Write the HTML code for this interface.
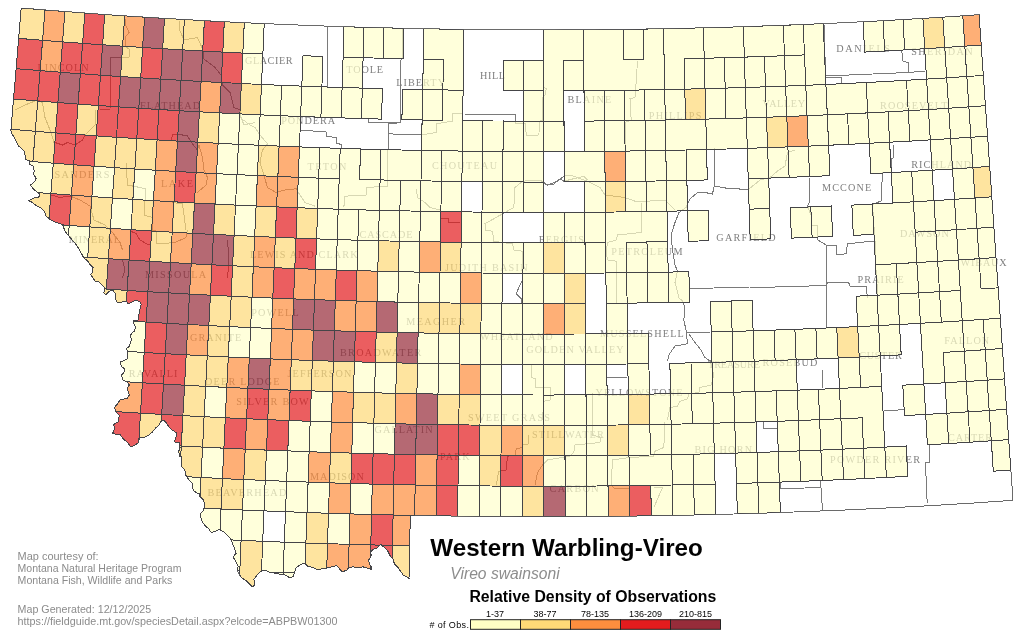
<!DOCTYPE html>
<html lang="en"><head><meta charset="utf-8"><title>Western Warbling-Vireo - Relative Density of Observations</title>
<style>html,body{margin:0;padding:0;background:#fff;overflow:hidden}svg{display:block;will-change:transform}</style></head>
<body>
<svg width="1024" height="631" viewBox="0 0 1024 631">
<defs><clipPath id="st"><polygon points="21.2,8.0 41.1,9.6 61.0,11.2 80.9,12.7 100.8,14.2 120.7,15.6 140.7,16.9 160.6,18.1 180.5,19.3 200.5,20.4 220.4,21.5 240.4,22.5 260.3,23.4 280.3,24.3 300.2,25.1 320.2,25.9 340.1,26.5 360.1,27.2 380.1,27.7 400.0,28.2 420.0,28.6 439.9,29.0 459.9,29.3 479.9,29.5 499.9,29.7 519.8,29.8 539.8,29.9 559.8,29.8 579.7,29.8 599.7,29.6 619.7,29.4 639.6,29.1 659.6,28.8 679.6,28.4 699.5,27.9 719.5,27.4 739.5,26.8 759.4,26.1 779.4,25.4 799.3,24.6 819.3,23.8 839.2,22.9 859.2,21.9 879.1,20.9 899.1,19.8 919.0,18.6 938.9,17.4 958.9,16.1 978.8,14.7 979.1,14.7 979.1,14.7 983.3,75.4 987.6,136.1 991.8,196.8 996.0,257.5 1000.3,318.2 1004.5,378.9 1008.7,439.6 1013.0,500.3 995.4,501.5 973.9,503.0 952.4,504.3 930.9,505.6 909.4,506.8 887.9,507.9 866.4,509.0 844.9,510.0 823.4,510.9 801.9,511.7 780.4,512.5 758.9,513.3 737.4,513.9 715.9,514.5 694.4,515.0 672.8,515.5 651.3,515.8 629.8,516.1 608.3,516.4 586.8,516.6 565.2,516.7 543.7,516.7 522.2,516.7 500.7,516.6 479.1,516.4 457.6,516.1 436.1,515.8 414.6,515.5 410.3,515.4 409.0,578.7 409.2,578.3 406.9,576.9 403.1,575.0 400.6,571.2 397.5,566.9 394.4,563.8 393.1,559.4 390.0,555.6 387.5,550.6 383.8,546.9 380.6,544.4 376.9,548.1 373.1,549.4 370.6,551.9 371.2,555.6 368.8,560.0 369.4,564.4 371.9,567.5 371.2,569.4 367.5,568.1 363.1,566.9 357.5,567.5 353.1,566.9 348.8,567.5 346.9,570.0 342.5,571.9 339.4,568.8 336.9,565.6 331.9,566.9 326.9,568.1 323.1,568.1 318.1,570.0 312.5,567.5 307.5,566.2 305.0,563.1 301.2,564.4 296.2,567.5 294.4,572.5 293.1,576.9 289.4,577.5 285.0,575.0 281.2,574.4 275.0,573.1 268.8,571.9 265.0,570.0 261.2,571.2 257.5,574.4 253.8,579.4 255.0,584.4 252.5,586.9 250.0,584.4 246.2,580.6 241.2,577.5 237.5,571.2 238.1,566.2 235.6,561.2 233.1,556.9 236.2,553.1 233.1,545.0 230.6,538.8 227.5,535.6 223.8,531.9 219.4,529.4 215.6,531.2 211.2,532.5 208.8,528.8 205.0,525.6 203.1,523.1 201.2,518.8 200.0,513.8 203.8,510.6 204.4,503.1 203.1,499.4 199.4,496.2 200.0,493.8 196.9,493.1 193.1,490.0 192.5,483.8 189.4,480.6 185.6,475.0 185.0,470.6 181.6,466.2 181.9,456.9 179.4,456.2 178.8,451.2 180.0,447.5 179.4,442.5 174.4,441.9 176.2,436.2 176.9,433.1 173.1,430.6 170.6,428.8 168.1,425.6 165.0,421.2 161.9,420.0 159.4,424.4 155.6,428.1 152.5,431.9 148.8,435.0 143.8,437.5 139.4,438.1 138.1,443.1 135.0,445.0 130.6,446.9 127.5,442.5 123.8,439.4 120.0,434.4 112.5,433.8 114.4,428.8 113.8,424.4 118.1,421.9 119.4,415.6 116.2,412.5 114.4,407.5 117.5,403.8 120.0,400.0 127.5,398.1 129.4,395.0 128.1,391.2 126.9,388.1 129.4,385.0 126.9,381.9 123.1,380.0 121.2,375.0 123.8,373.1 124.4,368.8 121.2,366.2 120.6,361.9 123.8,360.6 127.5,358.8 127.5,351.2 126.2,348.8 129.4,346.2 131.2,340.0 130.6,335.0 132.5,332.5 134.4,331.2 135.6,327.5 133.8,323.8 133.8,320.6 138.1,320.0 138.8,315.0 140.0,308.8 141.2,304.4 140.0,301.9 136.2,300.0 132.5,301.9 128.1,303.8 126.2,301.2 122.5,301.9 117.5,302.5 115.0,298.1 115.6,293.8 112.5,290.0 109.4,291.2 105.6,295.0 103.8,292.5 105.0,288.1 102.5,285.6 98.8,281.9 95.0,281.2 93.1,278.1 90.6,274.4 92.5,272.5 93.1,267.5 90.0,264.4 87.5,260.6 83.8,258.1 81.9,254.4 78.8,248.8 75.0,243.1 70.0,237.5 65.0,231.2 62.5,224.4 55.0,221.9 50.0,219.4 46.2,216.2 44.4,211.2 41.2,208.1 36.2,205.6 32.5,202.5 28.8,200.6 33.8,198.1 38.8,197.0 40.0,194.4 37.5,192.5 32.5,188.1 30.6,185.0 35.0,181.2 36.2,178.1 33.1,173.8 34.4,171.2 33.1,166.2 29.4,164.4 30.0,161.2 25.6,159.4 24.4,151.2 18.8,146.2 13.8,136.9 11.9,133.8 10.6,130.0 11.0,129.3 16.1,68.7"/></clipPath></defs>
<rect width="1024" height="631" fill="#fff"/>
<g fill="none" stroke="#7a7a7a" stroke-width="1" clip-path="url(#st)" shape-rendering="crispEdges">
<polyline points="714.2,147.5 714.2,186.0 712.5,194.0 705.0,192.5 697.5,192.5 690.0,199.0 686.0,207.5 679.0,212.5 675.0,222.5 671.0,235.0 672.5,250.0 675.0,265.0 677.5,271.0 675.0,282.5 679.0,298.0 682.5,301.0 685.0,307.5 683.8,320.0 686.0,330.0 687.5,343.8 675.0,346.0 668.8,355.0 667.5,361.0"/>
<polyline points="714.2,186.0 730.0,188.8 748.8,189.2 760.0,180.0 770.0,177.5 777.5,171.0 785.0,166.0 787.5,152.5 795.0,150.0"/>
<polyline points="809.2,177.5 809.2,202.5 807.5,206.0 811.0,215.0 811.0,225.0 817.5,226.0 818.0,240.0 826.0,245.0 826.0,285.0"/>
<polyline points="826.0,245.0 836.0,245.0 837.0,255.0 846.0,253.8 847.5,243.8 873.8,241.0"/>
<polyline points="893.8,145.0 893.8,157.5 891.0,158.8 891.0,172.5 882.5,172.5 881.0,201.0 872.5,204.5 875.0,241.0 876.0,270.0 878.0,298.0"/>
<polyline points="690.0,288.8 713.8,288.0 750.0,287.0 775.0,287.0 826.2,285.5 827.5,282.5 848.8,283.0 850.0,286.0 866.0,286.0 867.5,298.0"/>
<polyline points="826.2,285.5 826.2,327.5"/>
<polyline points="686.0,332.5 710.0,333.0"/>
<polyline points="688.8,333.8 695.0,342.5 701.0,350.0 705.0,357.5 710.0,361.0"/>
<polyline points="822.5,370.0 822.5,387.5"/>
<polyline points="607.5,378.0 627.5,377.0"/>
<polyline points="780.0,482.0 780.0,488.8 820.0,487.5 820.0,480.0"/>
<polyline points="821.0,487.5 822.5,510.0"/>
<polyline points="883.8,411.0 905.0,409.5"/>
<polyline points="929.8,443.8 929.8,462.0 925.4,462.5 927.2,503.0"/>
<polyline points="763.8,421.0 763.8,428.8 777.5,428.8"/>
<polyline points="824.2,25.0 825.5,76.0 908.0,72.5 925.5,71.0"/>
<polyline points="901.8,51.0 903.0,61.0 908.0,62.5 908.0,72.5"/>
<polyline points="825.5,77.5 841.8,77.0 841.8,84.0"/>
<polyline points="328.0,26.0 327.5,87.5"/>
<polyline points="403.0,29.0 402.0,59.0 400.0,61.0 400.0,122.8 388.7,123.6 388.7,150.0"/>
<polyline points="368.0,119.5 368.8,122.5 400.0,123.0"/>
<polyline points="300.0,130.0 326.2,132.0 326.2,136.2 336.2,137.5 336.2,143.0 341.2,144.5 341.2,149.0"/>
<polyline points="388.7,133.9 421.5,134.7"/>
<polyline points="421.2,122.5 421.2,150.0"/>
<polyline points="463.2,114.0 515.5,114.5 515.5,123.8 522.5,123.8"/>
<polyline points="125.0,19.0 126.0,26.0 129.0,32.5 125.0,37.5 125.0,46.0 130.0,50.0 129.0,57.5 111.0,57.5 110.0,109.0 100.0,109.0"/>
<polyline points="96.0,110.0 95.0,125.0 85.0,135.0 82.5,140.0 75.0,145.0 67.5,142.5 62.5,145.0 55.0,142.5"/>
<polyline points="179.0,21.0 180.0,31.0 184.0,40.0 197.5,37.5 202.5,49.0 204.0,59.0 215.0,67.5 221.0,75.0 222.5,85.0 230.0,92.5 234.0,107.5 240.0,110.0 240.0,115.0 244.0,125.0 255.0,122.5"/>
<polyline points="15.0,110.0 25.0,105.0 37.5,100.0 42.5,102.5 45.0,117.5 50.0,130.0 54.0,142.5 55.0,142.5"/>
<polyline points="171.0,140.0 172.5,135.0 177.5,134.0 187.5,136.0 192.5,144.0 197.5,150.0 199.0,145.0 202.5,157.5 204.0,170.0 207.5,177.5 206.0,185.0 197.5,192.5"/>
<polyline points="126.0,162.5 127.5,185.0 140.0,187.5 146.0,189.0 145.0,200.0 144.0,215.0 152.5,217.5 152.5,230.0 156.0,231.0 156.0,244.0 175.0,242.5 186.0,237.5 187.5,230.0"/>
<polyline points="172.5,202.5 182.5,204.0 186.0,230.0"/>
<polyline points="51.0,195.0 60.0,197.5 70.0,196.0 80.0,200.0 90.0,206.0 94.0,220.0 105.0,225.0 112.5,232.5 120.0,242.5 122.5,250.0"/>
<polyline points="130.0,231.0 136.0,233.5 140.0,240.0 146.0,243.5 150.0,245.0"/>
<polyline points="227.5,240.0 229.0,260.0 227.5,278.0"/>
<polyline points="122.5,260.0 125.0,270.0 122.5,278.0"/>
<polyline points="387.5,150.0 387.5,186.2 366.2,187.5 366.2,195.0 345.0,196.2 343.8,207.5"/>
<polyline points="421.2,135.0 436.2,132.5 436.2,123.8 452.5,121.2 452.5,113.8 462.5,113.8"/>
<polyline points="416.2,188.8 417.5,197.5 425.0,202.5 430.0,207.5 440.0,210.0"/>
<polyline points="240.0,117.5 250.0,125.0 255.0,127.5 260.0,135.0 267.5,143.8 262.5,150.0 260.0,162.5 263.8,175.0 267.5,187.5 276.2,192.5 285.0,190.0 296.2,188.8 300.0,195.0 305.0,202.5 315.0,206.2"/>
<polyline points="440.0,218.8 448.8,218.8 448.8,222.5 460.0,222.5"/>
<polyline points="543.8,87.5 546.2,88.8 545.0,95.0 542.5,97.5 542.5,120.0 540.0,121.2 538.8,135.0 526.2,135.5 525.5,123.8 516.2,123.8"/>
<polyline points="637.5,61.2 636.2,81.2 635.0,97.5 630.0,98.8 631.2,120.0 625.0,122.5 625.0,151.2"/>
<polyline points="522.5,181.2 540.0,180.0 547.5,185.0 557.5,181.2 563.8,176.2 570.0,175.0 587.5,181.2 600.0,187.5 605.0,195.0 625.0,197.5 635.0,201.2 647.5,201.2 665.0,200.0 675.0,210.0"/>
<polyline points="641.2,202.5 641.2,232.5 617.5,235.0 616.2,240.0 607.5,242.5 606.2,252.5 607.5,260.0 616.2,261.2 616.2,302.5"/>
<polyline points="522.5,181.2 515.0,187.5 513.8,207.5 502.5,213.8 485.0,223.8 485.0,230.0 492.5,231.2 493.8,241.2 502.5,242.5 512.5,243.8 513.8,250.0 522.5,251.2 522.5,280.0 520.0,285.0 516.2,293.8 521.2,298.8 522.5,305.0"/>
<polyline points="531.2,365.0 531.2,377.5 535.0,378.8 535.0,387.5 550.0,387.5 550.0,400.0 543.8,401.2 542.5,420.0"/>
<polyline points="592.5,392.5 592.5,435.0 601.2,437.5 600.0,442.5 575.0,445.0 573.8,452.5 570.0,456.2 547.5,460.0 542.5,465.0 537.5,472.5 535.0,485.0"/>
<polyline points="528.8,435.0 528.8,443.8 522.5,445.0 522.5,447.5 516.2,448.8 515.0,455.0 507.5,456.2 506.2,470.0 498.8,471.2 496.2,485.0"/>
<polyline points="665.0,422.5 663.8,447.5 655.0,451.2 653.8,456.2 630.0,457.5 612.5,460.0 611.2,485.0 615.0,488.8 630.0,488.8"/>
<polyline points="710.0,360.0 713.8,375.0 711.2,385.0 700.0,387.5 698.8,392.5 688.8,393.8 687.5,398.8 680.0,401.2 677.5,406.2 670.0,407.5 667.5,420.0"/>
<polyline points="653.8,487.5 662.5,487.5 653.8,507.5"/>
<polyline points="543.8,183.8 552.5,185.0 560.0,178.8 563.8,181.2 583.8,176.2 587.5,180.0"/>

</g>
<g font-family="'Liberation Serif',serif" font-size="10.2" fill="#7d7d7d" opacity="0.99">
<text x="37.5" y="71.2" textLength="51.2" lengthAdjust="spacing">LINCOLN</text>
<text x="140.0" y="108.8" textLength="60.0" lengthAdjust="spacing">FLATHEAD</text>
<text x="54.5" y="177.5" textLength="54.8" lengthAdjust="spacing">SANDERS</text>
<text x="161.1" y="187.0" textLength="31.8" lengthAdjust="spacing">LAKE</text>
<text x="68.8" y="243.0" textLength="51.2" lengthAdjust="spacing">MINERAL</text>
<text x="145.0" y="278.2" textLength="61.2" lengthAdjust="spacing">MISSOULA</text>
<text x="190.0" y="340.8" textLength="51.2" lengthAdjust="spacing">GRANITE</text>
<text x="128.7" y="377.0" textLength="48.8" lengthAdjust="spacing">RAVALLI</text>
<text x="205.0" y="385.0" textLength="74.5" lengthAdjust="spacing">DEER LODGE</text>
<text x="236.2" y="405.0" textLength="72.5" lengthAdjust="spacing">SILVER BOW</text>
<text x="207.5" y="496.2" textLength="78.8" lengthAdjust="spacing">BEAVERHEAD</text>
<text x="310.0" y="479.5" textLength="53.8" lengthAdjust="spacing">MADISON</text>
<text x="374.5" y="433.0" textLength="58.0" lengthAdjust="spacing">GALLATIN</text>
<text x="440.0" y="460.0" textLength="29.5" lengthAdjust="spacing">PARK</text>
<text x="468.0" y="420.5" textLength="82.0" lengthAdjust="spacing">SWEET GRASS</text>
<text x="532.0" y="438.0" textLength="71.8" lengthAdjust="spacing">STILLWATER</text>
<text x="549.5" y="491.8" textLength="49.2" lengthAdjust="spacing">CARBON</text>
<text x="694.5" y="452.5" textLength="57.5" lengthAdjust="spacing">BIG HORN</text>
<text x="595.5" y="396.2" textLength="87.0" lengthAdjust="spacing">YELLOWSTONE</text>
<text x="600.0" y="336.8" textLength="83.8" lengthAdjust="spacing">MUSSELSHELL</text>
<text x="526.2" y="352.5" textLength="97.5" lengthAdjust="spacing">GOLDEN VALLEY</text>
<text x="480.0" y="340.0" textLength="72.5" lengthAdjust="spacing">WHEATLAND</text>
<text x="445.0" y="270.8" textLength="82.5" lengthAdjust="spacing">JUDITH BASIN</text>
<text x="406.2" y="324.5" textLength="58.8" lengthAdjust="spacing">MEAGHER</text>
<text x="340.0" y="355.8" textLength="81.2" lengthAdjust="spacing">BROADWATER</text>
<text x="287.5" y="377.0" textLength="63.8" lengthAdjust="spacing">JEFFERSON</text>
<text x="251.2" y="315.5" textLength="47.5" lengthAdjust="spacing">POWELL</text>
<text x="250.0" y="257.5" textLength="107.5" lengthAdjust="spacing">LEWIS AND CLARK</text>
<text x="359.5" y="237.5" textLength="53.0" lengthAdjust="spacing">CASCADE</text>
<text x="307.5" y="170.0" textLength="38.8" lengthAdjust="spacing">TETON</text>
<text x="432.0" y="168.8" textLength="65.0" lengthAdjust="spacing">CHOUTEAU</text>
<text x="281.2" y="123.8" textLength="53.8" lengthAdjust="spacing">PONDERA</text>
<text x="245.0" y="63.8" textLength="47.5" lengthAdjust="spacing">GLACIER</text>
<text x="346.2" y="72.5" textLength="36.8" lengthAdjust="spacing">TOOLE</text>
<text x="396.2" y="85.8" textLength="48.8" lengthAdjust="spacing">LIBERTY</text>
<text x="480.0" y="78.8" textLength="25.0" lengthAdjust="spacing">HILL</text>
<text x="567.5" y="103.0" textLength="43.8" lengthAdjust="spacing">BLAINE</text>
<text x="648.8" y="118.8" textLength="52.5" lengthAdjust="spacing">PHILLIPS</text>
<text x="762.5" y="107.0" textLength="42.5" lengthAdjust="spacing">VALLEY</text>
<text x="836.2" y="52.0" textLength="53.8" lengthAdjust="spacing">DANIELS</text>
<text x="911.3" y="55.0" textLength="61.2" lengthAdjust="spacing">SHERIDAN</text>
<text x="880.0" y="108.8" textLength="67.5" lengthAdjust="spacing">ROOSEVELT</text>
<text x="822.0" y="191.2" textLength="49.2" lengthAdjust="spacing">MCCONE</text>
<text x="911.2" y="168.0" textLength="60.0" lengthAdjust="spacing">RICHLAND</text>
<text x="716.3" y="240.5" textLength="59.2" lengthAdjust="spacing">GARFIELD</text>
<text x="900.0" y="237.0" textLength="48.8" lengthAdjust="spacing">DAWSON</text>
<text x="857.5" y="283.0" textLength="46.2" lengthAdjust="spacing">PRAIRIE</text>
<text x="960.5" y="265.5" textLength="46.2" lengthAdjust="spacing">WIBAUX</text>
<text x="944.2" y="343.8" textLength="45.0" lengthAdjust="spacing">FALLON</text>
<text x="859.2" y="359.2" textLength="42.5" lengthAdjust="spacing">CUSTER</text>
<text x="762.6" y="365.5" textLength="54.7" lengthAdjust="spacing">ROSEBUD</text>
<text x="708.0" y="368.2" textLength="52.0" lengthAdjust="spacing">TREASURE</text>
<text x="830.0" y="462.5" textLength="90.0" lengthAdjust="spacing">POWDER RIVER</text>
<text x="948.0" y="441.0" textLength="44.0" lengthAdjust="spacing">CARTER</text>
<text x="538.8" y="242.5" textLength="45.0" lengthAdjust="spacing">FERGUS</text>
<text x="611.3" y="255.0" textLength="71.2" lengthAdjust="spacing">PETROLEUM</text>
</g>
<g clip-path="url(#st)">
<path d="M244.3,22.7 L254.2,23.2 L264.2,23.6 L262.9,54.0 L252.8,53.6 L242.8,53.1Z M344.0,26.7 L354.0,27.0 L364.0,27.3 L363.1,57.7 L353.1,57.4 L343.1,57.1Z M364.0,27.3 L374.0,27.6 L384.0,27.8 L383.2,58.2 L373.2,58.0 L363.1,57.7Z M384.0,27.8 L393.9,28.1 L403.9,28.3 L403.2,58.7 L393.2,58.5 L383.2,58.2Z M423.9,28.7 L433.9,28.9 L443.9,29.1 L443.4,59.5 L433.3,59.3 L423.3,59.1Z M443.9,29.1 L453.8,29.2 L463.8,29.4 L463.4,59.8 L453.4,59.7 L443.4,59.5Z M543.7,29.9 L553.7,29.9 L563.7,29.8 L563.8,60.3 L553.7,60.3 L543.7,60.3Z M563.7,29.8 L573.7,29.8 L583.6,29.7 L583.8,60.2 L573.8,60.2 L563.8,60.3Z M583.6,29.7 L593.6,29.7 L603.6,29.6 L603.9,60.0 L593.9,60.1 L583.8,60.2Z M603.6,29.6 L613.6,29.5 L623.6,29.4 L624.0,59.8 L613.9,59.9 L603.9,60.0Z M623.6,29.4 L633.6,29.2 L643.6,29.1 L644.0,59.5 L634.0,59.7 L624.0,59.8Z M643.6,29.1 L653.5,28.9 L663.5,28.7 L664.1,59.1 L654.1,59.3 L644.0,59.5Z M663.5,28.7 L673.5,28.5 L683.5,28.3 L684.2,58.7 L674.1,58.9 L664.1,59.1Z M683.5,28.3 L693.5,28.1 L703.4,27.8 L704.2,58.2 L694.2,58.5 L684.2,58.7Z M703.4,27.8 L713.4,27.6 L723.4,27.3 L724.3,57.7 L714.3,58.0 L704.2,58.2Z M723.4,27.3 L733.4,27.0 L743.4,26.7 L744.3,57.1 L734.3,57.4 L724.3,57.7Z M743.4,26.7 L753.3,26.3 L763.3,26.0 L764.4,56.4 L754.4,56.8 L744.3,57.1Z M763.3,26.0 L773.3,25.6 L783.3,25.3 L784.5,55.7 L774.4,56.1 L764.4,56.4Z M783.3,25.3 L793.3,24.9 L803.2,24.5 L804.5,54.9 L794.5,55.3 L784.5,55.7Z M803.2,24.5 L813.2,24.1 L823.2,23.6 L824.5,54.0 L814.5,54.5 L804.5,54.9Z M863.1,21.7 L873.1,21.2 L883.0,20.7 L884.7,51.0 L874.7,51.6 L864.6,52.1Z M883.0,20.7 L893.0,20.1 L903.0,19.5 L904.7,49.9 L894.7,50.5 L884.7,51.0Z M903.0,19.5 L912.9,19.0 L922.9,18.4 L924.7,48.7 L914.7,49.3 L904.7,49.9Z M942.8,17.1 L952.8,16.5 L962.8,15.8 L964.8,46.2 L954.8,46.8 L944.8,47.5Z M242.8,53.1 L252.8,53.6 L262.9,54.0 L261.5,84.4 L251.4,84.0 L241.4,83.5Z M303.0,55.7 L313.0,56.1 L323.0,56.4 L321.9,86.8 L311.9,86.5 L301.8,86.1Z M343.1,57.1 L353.1,57.4 L363.1,57.7 L362.3,88.1 L352.2,87.8 L342.1,87.5Z M423.3,59.1 L433.3,59.3 L443.4,59.5 L442.9,89.9 L432.8,89.8 L422.7,89.6Z M443.4,59.5 L453.4,59.7 L463.4,59.8 L463.1,90.2 L453.0,90.1 L442.9,89.9Z M503.6,60.2 L513.6,60.2 L523.6,60.3 L523.5,90.7 L513.5,90.7 L503.4,90.6Z M523.6,60.3 L533.7,60.3 L543.7,60.3 L543.7,90.7 L533.6,90.7 L523.5,90.7Z M543.7,60.3 L553.7,60.3 L563.8,60.3 L563.9,90.7 L553.8,90.7 L543.7,90.7Z M563.8,60.3 L573.8,60.2 L583.8,60.2 L584.0,90.6 L574.0,90.7 L563.9,90.7Z M583.8,60.2 L593.9,60.1 L603.9,60.0 L604.2,90.4 L594.1,90.5 L584.0,90.6Z M603.9,60.0 L613.9,59.9 L624.0,59.8 L624.4,90.2 L614.3,90.3 L604.2,90.4Z M624.0,59.8 L634.0,59.7 L644.0,59.5 L644.5,89.9 L634.4,90.1 L624.4,90.2Z M644.0,59.5 L654.1,59.3 L664.1,59.1 L664.7,89.6 L654.6,89.8 L644.5,89.9Z M664.1,59.1 L674.1,58.9 L684.2,58.7 L684.8,89.2 L674.8,89.4 L664.7,89.6Z M684.2,58.7 L694.2,58.5 L704.2,58.2 L705.0,88.7 L694.9,88.9 L684.8,89.2Z M704.2,58.2 L714.3,58.0 L724.3,57.7 L725.2,88.1 L715.1,88.4 L705.0,88.7Z M724.3,57.7 L734.3,57.4 L744.3,57.1 L745.3,87.5 L735.2,87.8 L725.2,88.1Z M744.3,57.1 L754.4,56.8 L764.4,56.4 L765.5,86.8 L755.4,87.2 L745.3,87.5Z M764.4,56.4 L774.4,56.1 L784.5,55.7 L785.6,86.1 L775.5,86.5 L765.5,86.8Z M784.5,55.7 L794.5,55.3 L804.5,54.9 L805.8,85.3 L795.7,85.7 L785.6,86.1Z M804.5,54.9 L814.5,54.5 L824.5,54.0 L825.9,84.4 L815.8,84.9 L805.8,85.3Z M924.7,48.7 L934.8,48.1 L944.8,47.5 L946.7,77.9 L936.7,78.5 L926.6,79.1Z M944.8,47.5 L954.8,46.8 L964.8,46.2 L966.8,76.5 L956.8,77.2 L946.7,77.9Z M964.8,46.2 L978.8,45.2 L992.8,44.2 L995.0,74.6 L980.9,75.6 L966.8,76.5Z M261.5,84.4 L271.6,84.9 L281.6,85.3 L280.4,115.7 L270.3,115.3 L260.1,114.8Z M281.6,85.3 L291.7,85.7 L301.8,86.1 L300.6,116.5 L290.5,116.1 L280.4,115.7Z M301.8,86.1 L311.9,86.5 L321.9,86.8 L320.9,117.2 L310.8,116.9 L300.6,116.5Z M321.9,86.8 L332.0,87.2 L342.1,87.5 L341.1,117.9 L331.0,117.6 L320.9,117.2Z M342.1,87.5 L352.2,87.8 L362.3,88.1 L361.4,118.5 L351.3,118.2 L341.1,117.9Z M362.3,88.1 L372.3,88.4 L382.4,88.7 L381.6,119.1 L371.5,118.8 L361.4,118.5Z M402.6,89.2 L412.6,89.4 L422.7,89.6 L422.1,120.0 L412.0,119.8 L401.9,119.6Z M422.7,89.6 L432.8,89.8 L442.9,89.9 L442.4,120.4 L432.3,120.2 L422.1,120.0Z M442.9,89.9 L453.0,90.1 L463.1,90.2 L462.7,120.6 L452.5,120.5 L442.4,120.4Z M523.5,90.7 L533.6,90.7 L543.7,90.7 L543.7,121.2 L533.6,121.2 L523.4,121.1Z M543.7,90.7 L553.8,90.7 L563.9,90.7 L564.0,121.1 L553.8,121.2 L543.7,121.2Z M584.0,90.6 L594.1,90.5 L604.2,90.4 L604.5,120.9 L594.4,121.0 L584.2,121.0Z M604.2,90.4 L614.3,90.3 L624.4,90.2 L624.7,120.6 L614.6,120.8 L604.5,120.9Z M624.4,90.2 L634.4,90.1 L644.5,89.9 L645.0,120.4 L634.9,120.5 L624.7,120.6Z M644.5,89.9 L654.6,89.8 L664.7,89.6 L665.3,120.0 L655.1,120.2 L645.0,120.4Z M664.7,89.6 L674.8,89.4 L684.8,89.2 L685.5,119.6 L675.4,119.8 L665.3,120.0Z M705.0,88.7 L715.1,88.4 L725.2,88.1 L726.0,118.5 L715.9,118.8 L705.8,119.1Z M725.2,88.1 L735.2,87.8 L745.3,87.5 L746.3,117.9 L736.2,118.2 L726.0,118.5Z M745.3,87.5 L755.4,87.2 L765.5,86.8 L766.5,117.2 L756.4,117.6 L746.3,117.9Z M765.5,86.8 L775.5,86.5 L785.6,86.1 L786.8,116.5 L776.7,116.9 L766.5,117.2Z M785.6,86.1 L795.7,85.7 L805.8,85.3 L807.0,115.7 L796.9,116.1 L786.8,116.5Z M805.8,85.3 L815.8,84.9 L825.9,84.4 L827.3,114.8 L817.1,115.3 L807.0,115.7Z M825.9,84.4 L836.0,84.0 L846.1,83.5 L847.5,113.9 L837.4,114.4 L827.3,114.8Z M846.1,83.5 L856.1,83.0 L866.2,82.5 L867.7,112.9 L857.6,113.4 L847.5,113.9Z M866.2,82.5 L876.3,82.0 L886.3,81.4 L888.0,111.8 L877.9,112.4 L867.7,112.9Z M886.3,81.4 L896.4,80.9 L906.5,80.3 L908.2,110.7 L898.1,111.3 L888.0,111.8Z M906.5,80.3 L916.5,79.7 L926.6,79.1 L928.4,109.5 L918.3,110.1 L908.2,110.7Z M926.6,79.1 L936.7,78.5 L946.7,77.9 L948.7,108.2 L938.5,108.9 L928.4,109.5Z M946.7,77.9 L956.8,77.2 L966.8,76.5 L968.9,106.9 L958.8,107.6 L948.7,108.2Z M966.8,76.5 L980.9,75.6 L995.0,74.6 L997.2,104.9 L983.0,105.9 L968.9,106.9Z M219.7,112.9 L229.8,113.4 L239.9,113.9 L238.4,144.3 L228.3,143.8 L218.1,143.3Z M239.9,113.9 L250.0,114.4 L260.1,114.8 L258.8,145.2 L248.6,144.8 L238.4,144.3Z M260.1,114.8 L270.3,115.3 L280.4,115.7 L279.1,146.1 L269.0,145.7 L258.8,145.2Z M280.4,115.7 L290.5,116.1 L300.6,116.5 L299.5,146.9 L289.3,146.5 L279.1,146.1Z M422.1,120.0 L432.3,120.2 L442.4,120.4 L441.9,150.8 L431.7,150.6 L421.6,150.4Z M442.4,120.4 L452.5,120.5 L462.7,120.6 L462.3,151.1 L452.1,150.9 L441.9,150.8Z M462.7,120.6 L472.8,120.8 L482.9,120.9 L482.6,151.3 L472.5,151.2 L462.3,151.1Z M482.9,120.9 L493.1,121.0 L503.2,121.0 L503.0,151.5 L492.8,151.4 L482.6,151.3Z M503.2,121.0 L513.3,121.1 L523.4,121.1 L523.3,151.6 L513.2,151.5 L503.0,151.5Z M523.4,121.1 L533.6,121.2 L543.7,121.2 L543.7,151.6 L533.5,151.6 L523.3,151.6Z M543.7,121.2 L553.8,121.2 L564.0,121.1 L564.1,151.6 L553.9,151.6 L543.7,151.6Z M584.2,121.0 L594.4,121.0 L604.5,120.9 L604.8,151.3 L594.6,151.4 L584.4,151.5Z M604.5,120.9 L614.6,120.8 L624.7,120.6 L625.1,151.1 L615.0,151.2 L604.8,151.3Z M624.7,120.6 L634.9,120.5 L645.0,120.4 L645.5,150.8 L635.3,150.9 L625.1,151.1Z M645.0,120.4 L655.1,120.2 L665.3,120.0 L665.8,150.4 L655.7,150.6 L645.5,150.8Z M665.3,120.0 L675.4,119.8 L685.5,119.6 L686.2,150.0 L676.0,150.2 L665.8,150.4Z M685.5,119.6 L695.7,119.3 L705.8,119.1 L706.6,149.5 L696.4,149.8 L686.2,150.0Z M705.8,119.1 L715.9,118.8 L726.0,118.5 L726.9,149.0 L716.7,149.2 L706.6,149.5Z M726.0,118.5 L736.2,118.2 L746.3,117.9 L747.3,148.3 L737.1,148.7 L726.9,149.0Z M746.3,117.9 L756.4,117.6 L766.5,117.2 L767.6,147.7 L757.4,148.0 L747.3,148.3Z M807.0,115.7 L817.1,115.3 L827.3,114.8 L828.6,145.2 L818.5,145.7 L808.3,146.1Z M827.3,114.8 L837.4,114.4 L847.5,113.9 L849.0,144.3 L838.8,144.8 L828.6,145.2Z M847.5,113.9 L857.6,113.4 L867.7,112.9 L869.3,143.3 L859.1,143.8 L849.0,144.3Z M867.7,112.9 L877.9,112.4 L888.0,111.8 L889.6,142.2 L879.5,142.7 L869.3,143.3Z M888.0,111.8 L898.1,111.3 L908.2,110.7 L910.0,141.1 L899.8,141.6 L889.6,142.2Z M908.2,110.7 L918.3,110.1 L928.4,109.5 L930.3,139.9 L920.1,140.5 L910.0,141.1Z M928.4,109.5 L938.5,108.9 L948.7,108.2 L950.6,138.6 L940.4,139.2 L930.3,139.9Z M948.7,108.2 L958.8,107.6 L968.9,106.9 L970.9,137.3 L960.8,137.9 L950.6,138.6Z M968.9,106.9 L983.0,105.9 L997.2,104.9 L999.3,135.3 L985.1,136.3 L970.9,137.3Z M218.1,143.3 L228.3,143.8 L238.4,144.3 L237.0,174.7 L226.8,174.2 L216.6,173.7Z M238.4,144.3 L248.6,144.8 L258.8,145.2 L257.4,175.6 L247.2,175.1 L237.0,174.7Z M299.5,146.9 L309.6,147.3 L319.8,147.7 L318.7,178.1 L308.5,177.7 L298.3,177.3Z M319.8,147.7 L330.0,148.0 L340.2,148.3 L339.2,178.7 L329.0,178.4 L318.7,178.1Z M340.2,148.3 L350.3,148.7 L360.5,149.0 L359.6,179.4 L349.4,179.1 L339.2,178.7Z M360.5,149.0 L370.7,149.2 L380.9,149.5 L380.1,179.9 L369.9,179.7 L359.6,179.4Z M380.9,149.5 L391.0,149.8 L401.2,150.0 L400.5,180.4 L390.3,180.2 L380.1,179.9Z M401.2,150.0 L411.4,150.2 L421.6,150.4 L421.0,180.8 L410.8,180.6 L400.5,180.4Z M421.6,150.4 L431.7,150.6 L441.9,150.8 L441.4,181.2 L431.2,181.0 L421.0,180.8Z M441.9,150.8 L452.1,150.9 L462.3,151.1 L461.9,181.5 L451.7,181.4 L441.4,181.2Z M462.3,151.1 L472.5,151.2 L482.6,151.3 L482.3,181.7 L472.1,181.6 L461.9,181.5Z M482.6,151.3 L492.8,151.4 L503.0,151.5 L502.8,181.9 L492.6,181.8 L482.3,181.7Z M503.0,151.5 L513.2,151.5 L523.3,151.6 L523.3,182.0 L513.0,181.9 L502.8,181.9Z M523.3,151.6 L533.5,151.6 L543.7,151.6 L543.7,182.0 L533.5,182.0 L523.3,182.0Z M564.1,151.6 L574.2,151.5 L584.4,151.5 L584.6,181.9 L574.4,181.9 L564.2,182.0Z M584.4,151.5 L594.6,151.4 L604.8,151.3 L605.1,181.7 L594.8,181.8 L584.6,181.9Z M625.1,151.1 L635.3,150.9 L645.5,150.8 L646.0,181.2 L635.8,181.4 L625.5,181.5Z M645.5,150.8 L655.7,150.6 L665.8,150.4 L666.4,180.8 L656.2,181.0 L646.0,181.2Z M665.8,150.4 L676.0,150.2 L686.2,150.0 L686.9,180.4 L676.7,180.6 L666.4,180.8Z M686.2,150.0 L696.4,149.8 L706.6,149.5 L707.3,179.9 L697.1,180.2 L686.9,180.4Z M747.3,148.3 L757.4,148.0 L767.6,147.7 L768.7,178.1 L758.4,178.4 L748.2,178.7Z M767.6,147.7 L777.8,147.3 L787.9,146.9 L789.1,177.3 L778.9,177.7 L768.7,178.1Z M787.9,146.9 L798.1,146.5 L808.3,146.1 L809.6,176.5 L799.3,176.9 L789.1,177.3Z M808.3,146.1 L818.5,145.7 L828.6,145.2 L830.0,175.6 L819.8,176.1 L809.6,176.5Z M869.3,143.3 L879.5,142.7 L889.6,142.2 L891.3,172.6 L881.1,173.1 L870.9,173.7Z M930.3,139.9 L940.4,139.2 L950.6,138.6 L952.5,169.0 L942.3,169.6 L932.1,170.2Z M950.6,138.6 L960.8,137.9 L970.9,137.3 L972.9,167.6 L962.7,168.3 L952.5,169.0Z M970.9,137.3 L985.1,136.3 L999.3,135.3 L1001.5,165.6 L987.2,166.6 L972.9,167.6Z M-7.9,158.2 L12.5,160.0 L32.9,161.6 L30.4,191.9 L10.0,190.3 L-10.5,188.5Z M32.9,161.6 L43.1,162.4 L53.3,163.2 L50.9,193.6 L40.7,192.8 L30.4,191.9Z M94.1,166.2 L104.3,166.9 L114.5,167.6 L112.4,198.0 L102.2,197.3 L91.9,196.6Z M134.9,169.0 L145.1,169.6 L155.3,170.2 L153.4,200.6 L143.2,200.0 L132.9,199.3Z M216.6,173.7 L226.8,174.2 L237.0,174.7 L235.5,205.1 L225.3,204.6 L215.0,204.0Z M237.0,174.7 L247.2,175.1 L257.4,175.6 L256.1,206.0 L245.8,205.5 L235.5,205.1Z M298.3,177.3 L308.5,177.7 L318.7,178.1 L317.7,208.5 L307.4,208.1 L297.1,207.7Z M318.7,178.1 L329.0,178.4 L339.2,178.7 L338.2,209.2 L327.9,208.8 L317.7,208.5Z M339.2,178.7 L349.4,179.1 L359.6,179.4 L358.8,209.8 L348.5,209.5 L338.2,209.2Z M359.6,179.4 L369.9,179.7 L380.1,179.9 L379.3,210.3 L369.0,210.1 L358.8,209.8Z M380.1,179.9 L390.3,180.2 L400.5,180.4 L399.9,210.8 L389.6,210.6 L379.3,210.3Z M400.5,180.4 L410.8,180.6 L421.0,180.8 L420.4,211.3 L410.1,211.0 L399.9,210.8Z M421.0,180.8 L431.2,181.0 L441.4,181.2 L440.9,211.6 L430.7,211.4 L420.4,211.3Z M441.4,181.2 L451.7,181.4 L461.9,181.5 L461.5,211.9 L451.2,211.8 L440.9,211.6Z M482.3,181.7 L492.6,181.8 L502.8,181.9 L502.6,212.3 L492.3,212.2 L482.0,212.1Z M502.8,181.9 L513.0,181.9 L523.3,182.0 L523.2,212.4 L512.9,212.4 L502.6,212.3Z M523.3,182.0 L533.5,182.0 L543.7,182.0 L543.7,212.4 L533.4,212.4 L523.2,212.4Z M584.6,181.9 L594.8,181.8 L605.1,181.7 L605.4,212.1 L595.1,212.2 L584.8,212.3Z M625.5,181.5 L635.8,181.4 L646.0,181.2 L646.5,211.6 L636.2,211.8 L625.9,211.9Z M646.0,181.2 L656.2,181.0 L666.4,180.8 L667.0,211.3 L656.7,211.4 L646.5,211.6Z M666.4,180.8 L676.7,180.6 L686.9,180.4 L687.6,210.8 L677.3,211.0 L667.0,211.3Z M748.2,178.7 L758.4,178.4 L768.7,178.1 L769.7,208.5 L759.5,208.8 L749.2,209.2Z M891.3,172.6 L901.5,172.0 L911.7,171.4 L913.4,201.8 L903.2,202.4 L892.9,203.0Z M911.7,171.4 L921.9,170.8 L932.1,170.2 L934.0,200.6 L923.7,201.2 L913.4,201.8Z M952.5,169.0 L962.7,168.3 L972.9,167.6 L975.0,198.0 L964.7,198.7 L954.5,199.3Z M112.4,198.0 L122.7,198.7 L132.9,199.3 L131.0,229.7 L120.7,229.0 L110.4,228.3Z M235.5,205.1 L245.8,205.5 L256.1,206.0 L254.7,236.4 L244.4,235.9 L234.1,235.4Z M317.7,208.5 L327.9,208.8 L338.2,209.2 L337.2,239.6 L326.9,239.2 L316.6,238.9Z M338.2,209.2 L348.5,209.5 L358.8,209.8 L357.9,240.2 L347.6,239.9 L337.2,239.6Z M358.8,209.8 L369.0,210.1 L379.3,210.3 L378.5,240.7 L368.2,240.5 L357.9,240.2Z M379.3,210.3 L389.6,210.6 L399.9,210.8 L399.2,241.2 L388.8,241.0 L378.5,240.7Z M399.9,210.8 L410.1,211.0 L420.4,211.3 L419.8,241.7 L409.5,241.5 L399.2,241.2Z M420.4,211.3 L430.7,211.4 L440.9,211.6 L440.5,242.0 L430.1,241.9 L419.8,241.7Z M461.5,211.9 L471.8,212.0 L482.0,212.1 L481.8,242.6 L471.4,242.5 L461.1,242.3Z M482.0,212.1 L492.3,212.2 L502.6,212.3 L502.4,242.7 L492.1,242.6 L481.8,242.6Z M543.7,212.4 L554.0,212.4 L564.3,212.4 L564.4,242.8 L554.0,242.8 L543.7,242.9Z M564.3,212.4 L574.5,212.4 L584.8,212.3 L585.0,242.7 L574.7,242.8 L564.4,242.8Z M584.8,212.3 L595.1,212.2 L605.4,212.1 L605.7,242.6 L595.3,242.6 L585.0,242.7Z M605.4,212.1 L615.6,212.0 L625.9,211.9 L626.3,242.3 L616.0,242.5 L605.7,242.6Z M625.9,211.9 L636.2,211.8 L646.5,211.6 L647.0,242.0 L636.6,242.2 L626.3,242.3Z M646.5,211.6 L656.7,211.4 L667.0,211.3 L667.6,241.7 L657.3,241.9 L647.0,242.0Z M687.6,210.8 L697.8,210.6 L708.1,210.3 L708.9,240.7 L698.6,241.0 L688.2,241.2Z M749.2,209.2 L759.5,208.8 L769.7,208.5 L770.8,238.9 L760.5,239.2 L750.2,239.6Z M790.3,207.7 L800.5,207.3 L810.8,206.9 L812.1,237.3 L801.8,237.7 L791.4,238.1Z M810.8,206.9 L821.1,206.5 L831.3,206.0 L832.7,236.4 L822.4,236.8 L812.1,237.3Z M851.9,205.1 L862.1,204.6 L872.4,204.0 L874.0,234.4 L863.6,234.9 L853.3,235.4Z M872.4,204.0 L882.7,203.5 L892.9,203.0 L894.6,233.3 L884.3,233.9 L874.0,234.4Z M892.9,203.0 L903.2,202.4 L913.4,201.8 L915.2,232.2 L904.9,232.8 L894.6,233.3Z M913.4,201.8 L923.7,201.2 L934.0,200.6 L935.8,231.0 L925.5,231.6 L915.2,232.2Z M934.0,200.6 L944.2,200.0 L954.5,199.3 L956.4,229.7 L946.1,230.3 L935.8,231.0Z M954.5,199.3 L964.7,198.7 L975.0,198.0 L977.0,228.3 L966.7,229.0 L956.4,229.7Z M975.0,198.0 L989.3,197.0 L1003.7,196.0 L1005.9,226.3 L991.4,227.3 L977.0,228.3Z M28.0,222.3 L38.3,223.1 L48.6,223.9 L46.3,254.2 L35.9,253.4 L25.6,252.6Z M48.6,223.9 L58.9,224.7 L69.2,225.4 L67.0,255.8 L56.6,255.0 L46.3,254.2Z M69.2,225.4 L79.5,226.2 L89.8,226.9 L87.7,257.3 L77.3,256.5 L67.0,255.8Z M316.6,238.9 L326.9,239.2 L337.2,239.6 L336.3,270.0 L325.9,269.6 L315.5,269.3Z M337.2,239.6 L347.6,239.9 L357.9,240.2 L357.0,270.6 L346.6,270.3 L336.3,270.0Z M357.9,240.2 L368.2,240.5 L378.5,240.7 L377.8,271.2 L367.4,270.9 L357.0,270.6Z M399.2,241.2 L409.5,241.5 L419.8,241.7 L419.2,272.1 L408.9,271.9 L398.5,271.7Z M461.1,242.3 L471.4,242.5 L481.8,242.6 L481.5,273.0 L471.1,272.9 L460.7,272.7Z M481.8,242.6 L492.1,242.6 L502.4,242.7 L502.2,273.1 L491.8,273.1 L481.5,273.0Z M502.4,242.7 L512.7,242.8 L523.1,242.8 L523.0,273.2 L512.6,273.2 L502.2,273.1Z M523.1,242.8 L533.4,242.8 L543.7,242.9 L543.7,273.3 L533.3,273.3 L523.0,273.2Z M564.4,242.8 L574.7,242.8 L585.0,242.7 L585.2,273.1 L574.8,273.2 L564.5,273.2Z M585.0,242.7 L595.3,242.6 L605.7,242.6 L605.9,273.0 L595.6,273.1 L585.2,273.1Z M605.7,242.6 L616.0,242.5 L626.3,242.3 L626.7,272.7 L616.3,272.9 L605.9,273.0Z M626.3,242.3 L636.6,242.2 L647.0,242.0 L647.4,272.4 L637.1,272.6 L626.7,272.7Z M647.0,242.0 L657.3,241.9 L667.6,241.7 L668.2,272.1 L657.8,272.3 L647.4,272.4Z M874.0,234.4 L884.3,233.9 L894.6,233.3 L896.2,263.7 L885.9,264.3 L875.5,264.8Z M894.6,233.3 L904.9,232.8 L915.2,232.2 L916.9,262.6 L906.6,263.1 L896.2,263.7Z M915.2,232.2 L925.5,231.6 L935.8,231.0 L937.7,261.3 L927.3,261.9 L916.9,262.6Z M935.8,231.0 L946.1,230.3 L956.4,229.7 L958.4,260.0 L948.0,260.7 L937.7,261.3Z M956.4,229.7 L966.7,229.0 L977.0,228.3 L979.1,258.7 L968.7,259.4 L958.4,260.0Z M977.0,228.3 L991.4,227.3 L1005.9,226.3 L1008.0,256.7 L993.5,257.7 L979.1,258.7Z M377.8,271.2 L388.1,271.4 L398.5,271.7 L397.8,302.1 L387.4,301.8 L377.0,301.6Z M398.5,271.7 L408.9,271.9 L419.2,272.1 L418.7,302.5 L408.2,302.3 L397.8,302.1Z M419.2,272.1 L429.6,272.3 L440.0,272.4 L439.5,302.9 L429.1,302.7 L418.7,302.5Z M440.0,272.4 L450.3,272.6 L460.7,272.7 L460.3,303.2 L449.9,303.0 L439.5,302.9Z M481.5,273.0 L491.8,273.1 L502.2,273.1 L502.0,303.6 L491.6,303.5 L481.2,303.4Z M523.0,273.2 L533.3,273.3 L543.7,273.3 L543.7,303.7 L533.3,303.7 L522.9,303.7Z M543.7,273.3 L554.1,273.3 L564.5,273.2 L564.6,303.7 L554.1,303.7 L543.7,303.7Z M605.9,273.0 L616.3,272.9 L626.7,272.7 L627.1,303.2 L616.7,303.3 L606.2,303.4Z M626.7,272.7 L637.1,272.6 L647.4,272.4 L647.9,302.9 L637.5,303.0 L627.1,303.2Z M647.4,272.4 L657.8,272.3 L668.2,272.1 L668.8,302.5 L658.3,302.7 L647.9,302.9Z M668.2,272.1 L678.6,271.9 L688.9,271.7 L689.6,302.1 L679.2,302.3 L668.8,302.5Z M875.5,264.8 L885.9,264.3 L896.2,263.7 L897.9,294.1 L887.5,294.6 L877.1,295.2Z M896.2,263.7 L906.6,263.1 L916.9,262.6 L918.7,292.9 L908.3,293.5 L897.9,294.1Z M916.9,262.6 L927.3,261.9 L937.7,261.3 L939.5,291.7 L929.1,292.3 L918.7,292.9Z M937.7,261.3 L948.0,260.7 L958.4,260.0 L960.3,290.4 L949.9,291.1 L939.5,291.7Z M958.4,260.0 L968.7,259.4 L979.1,258.7 L981.1,289.0 L970.7,289.7 L960.3,290.4Z M979.1,258.7 L993.5,257.7 L1008.0,256.7 L1010.2,287.0 L995.7,288.0 L981.1,289.0Z M252.0,297.2 L262.4,297.6 L272.8,298.1 L271.6,328.5 L261.1,328.0 L250.6,327.6Z M397.8,302.1 L408.2,302.3 L418.7,302.5 L418.1,332.9 L407.6,332.7 L397.1,332.5Z M481.2,303.4 L491.6,303.5 L502.0,303.6 L501.8,334.0 L491.4,333.9 L480.9,333.8Z M502.0,303.6 L512.4,303.6 L522.9,303.7 L522.8,334.1 L512.3,334.0 L501.8,334.0Z M522.9,303.7 L533.3,303.7 L543.7,303.7 L543.7,334.1 L533.2,334.1 L522.8,334.1Z M606.2,303.4 L616.7,303.3 L627.1,303.2 L627.5,333.6 L617.0,333.7 L606.5,333.8Z M710.4,301.6 L720.9,301.3 L731.3,301.0 L732.1,331.4 L721.7,331.7 L711.2,332.0Z M731.3,301.0 L741.7,300.7 L752.1,300.4 L753.1,330.8 L742.6,331.1 L732.1,331.4Z M856.2,296.2 L866.7,295.7 L877.1,295.2 L878.6,325.6 L868.2,326.1 L857.7,326.6Z M877.1,295.2 L887.5,294.6 L897.9,294.1 L899.5,324.5 L889.1,325.0 L878.6,325.6Z M897.9,294.1 L908.3,293.5 L918.7,292.9 L920.4,323.3 L910.0,323.9 L899.5,324.5Z M918.7,292.9 L929.1,292.3 L939.5,291.7 L941.3,322.1 L930.9,322.7 L920.4,323.3Z M939.5,291.7 L949.9,291.1 L960.3,290.4 L962.2,320.8 L951.8,321.4 L941.3,322.1Z M960.3,290.4 L970.7,289.7 L981.1,289.0 L983.1,319.4 L972.7,320.1 L962.2,320.8Z M981.1,289.0 L995.7,288.0 L1010.2,287.0 L1012.4,317.4 L997.8,318.4 L983.1,319.4Z M104.3,319.4 L114.7,320.1 L125.2,320.8 L123.2,351.1 L112.7,350.4 L102.2,349.7Z M125.2,320.8 L135.6,321.4 L146.1,322.1 L144.2,352.4 L133.7,351.8 L123.2,351.1Z M229.7,326.6 L240.2,327.1 L250.6,327.6 L249.3,358.0 L238.8,357.5 L228.3,357.0Z M250.6,327.6 L261.1,328.0 L271.6,328.5 L270.3,358.9 L259.8,358.4 L249.3,358.0Z M418.1,332.9 L428.5,333.1 L439.0,333.3 L438.5,363.7 L428.0,363.5 L417.5,363.3Z M439.0,333.3 L449.5,333.4 L459.9,333.6 L459.6,364.0 L449.0,363.9 L438.5,363.7Z M459.9,333.6 L470.4,333.7 L480.9,333.8 L480.6,364.2 L470.1,364.1 L459.6,364.0Z M480.9,333.8 L491.4,333.9 L501.8,334.0 L501.6,364.4 L491.1,364.3 L480.6,364.2Z M501.8,334.0 L512.3,334.0 L522.8,334.1 L522.7,364.5 L512.1,364.5 L501.6,364.4Z M522.8,334.1 L533.2,334.1 L543.7,334.1 L543.7,364.5 L533.2,364.5 L522.7,364.5Z M543.7,334.1 L554.2,334.1 L564.6,334.1 L564.7,364.5 L554.2,364.5 L543.7,364.5Z M564.6,334.1 L575.1,334.0 L585.6,334.0 L585.8,364.4 L575.3,364.5 L564.7,364.5Z M585.6,334.0 L596.1,333.9 L606.5,333.8 L606.8,364.2 L596.3,364.3 L585.8,364.4Z M606.5,333.8 L617.0,333.7 L627.5,333.6 L627.9,364.0 L617.3,364.1 L606.8,364.2Z M627.5,333.6 L637.9,333.4 L648.4,333.3 L648.9,363.7 L638.4,363.9 L627.9,364.0Z M711.2,332.0 L721.7,331.7 L732.1,331.4 L733.0,361.8 L722.5,362.1 L712.0,362.4Z M732.1,331.4 L742.6,331.1 L753.1,330.8 L754.1,361.2 L743.5,361.5 L733.0,361.8Z M753.1,330.8 L763.5,330.4 L774.0,330.1 L775.1,360.5 L764.6,360.8 L754.1,361.2Z M774.0,330.1 L784.5,329.7 L794.9,329.3 L796.1,359.7 L785.6,360.1 L775.1,360.5Z M794.9,329.3 L805.4,328.9 L815.9,328.5 L817.1,358.9 L806.6,359.3 L796.1,359.7Z M815.9,328.5 L826.3,328.0 L836.8,327.6 L838.1,358.0 L827.6,358.4 L817.1,358.9Z M857.7,326.6 L868.2,326.1 L878.6,325.6 L880.2,355.9 L869.7,356.5 L859.2,357.0Z M878.6,325.6 L889.1,325.0 L899.5,324.5 L901.2,354.8 L890.7,355.4 L880.2,355.9Z M920.4,323.3 L930.9,322.7 L941.3,322.1 L943.2,352.4 L932.7,353.1 L922.2,353.7Z M941.3,322.1 L951.8,321.4 L962.2,320.8 L964.2,351.1 L953.7,351.8 L943.2,352.4Z M962.2,320.8 L972.7,320.1 L983.1,319.4 L985.2,349.7 L974.7,350.4 L964.2,351.1Z M983.1,319.4 L997.8,318.4 L1012.4,317.4 L1014.6,347.7 L999.9,348.7 L985.2,349.7Z M102.2,349.7 L112.7,350.4 L123.2,351.1 L121.3,381.5 L110.7,380.8 L100.2,380.1Z M123.2,351.1 L133.7,351.8 L144.2,352.4 L142.4,382.8 L131.8,382.1 L121.3,381.5Z M354.4,361.8 L364.9,362.1 L375.4,362.4 L374.6,392.8 L364.1,392.5 L353.5,392.2Z M375.4,362.4 L385.9,362.7 L396.5,362.9 L395.8,393.3 L385.2,393.1 L374.6,392.8Z M417.5,363.3 L428.0,363.5 L438.5,363.7 L438.0,394.1 L427.5,393.9 L416.9,393.7Z M438.5,363.7 L449.0,363.9 L459.6,364.0 L459.2,394.4 L448.6,394.3 L438.0,394.1Z M480.6,364.2 L491.1,364.3 L501.6,364.4 L501.4,394.8 L490.9,394.8 L480.3,394.7Z M522.7,364.5 L533.2,364.5 L543.7,364.5 L543.7,395.0 L533.1,395.0 L522.6,394.9Z M543.7,364.5 L554.2,364.5 L564.7,364.5 L564.8,394.9 L554.3,395.0 L543.7,395.0Z M585.8,364.4 L596.3,364.3 L606.8,364.2 L607.1,394.7 L596.5,394.8 L586.0,394.8Z M627.9,364.0 L638.4,363.9 L648.9,363.7 L649.4,394.1 L638.8,394.3 L628.2,394.4Z M669.9,363.3 L680.4,363.1 L691.0,362.9 L691.6,393.3 L681.1,393.5 L670.5,393.7Z M691.0,362.9 L701.5,362.7 L712.0,362.4 L712.8,392.8 L702.2,393.1 L691.6,393.3Z M712.0,362.4 L722.5,362.1 L733.0,361.8 L733.9,392.2 L723.3,392.5 L712.8,392.8Z M733.0,361.8 L743.5,361.5 L754.1,361.2 L755.0,391.6 L744.5,391.9 L733.9,392.2Z M754.1,361.2 L764.6,360.8 L775.1,360.5 L776.1,390.9 L765.6,391.2 L755.0,391.6Z M775.1,360.5 L785.6,360.1 L796.1,359.7 L797.3,390.1 L786.7,390.5 L776.1,390.9Z M838.1,358.0 L848.6,357.5 L859.2,357.0 L860.6,387.4 L850.1,387.9 L839.5,388.4Z M859.2,357.0 L869.7,356.5 L880.2,355.9 L881.7,386.3 L871.2,386.9 L860.6,387.4Z M922.2,353.7 L932.7,353.1 L943.2,352.4 L945.0,382.8 L934.5,383.4 L923.9,384.0Z M943.2,352.4 L953.7,351.8 L964.2,351.1 L966.1,381.5 L955.6,382.1 L945.0,382.8Z M964.2,351.1 L974.7,350.4 L985.2,349.7 L987.2,380.1 L976.7,380.8 L966.1,381.5Z M985.2,349.7 L999.9,348.7 L1014.6,347.7 L1016.7,378.0 L1002.0,379.1 L987.2,380.1Z M205.7,386.3 L216.2,386.9 L226.8,387.4 L225.3,417.8 L214.7,417.3 L204.1,416.7Z M311.3,390.9 L321.8,391.2 L332.4,391.6 L331.4,422.0 L320.8,421.7 L310.2,421.3Z M480.3,394.7 L490.9,394.8 L501.4,394.8 L501.2,425.3 L490.6,425.2 L480.0,425.1Z M501.4,394.8 L512.0,394.9 L522.6,394.9 L522.5,425.4 L511.9,425.3 L501.2,425.3Z M522.6,394.9 L533.1,395.0 L543.7,395.0 L543.7,425.4 L533.1,425.4 L522.5,425.4Z M543.7,395.0 L554.3,395.0 L564.8,394.9 L564.9,425.4 L554.3,425.4 L543.7,425.4Z M564.8,394.9 L575.4,394.9 L586.0,394.8 L586.2,425.3 L575.6,425.3 L564.9,425.4Z M586.0,394.8 L596.5,394.8 L607.1,394.7 L607.4,425.1 L596.8,425.2 L586.2,425.3Z M607.1,394.7 L617.7,394.6 L628.2,394.4 L628.6,424.8 L618.0,425.0 L607.4,425.1Z M649.4,394.1 L659.9,393.9 L670.5,393.7 L671.1,424.2 L660.5,424.4 L649.9,424.5Z M670.5,393.7 L681.1,393.5 L691.6,393.3 L692.3,423.7 L681.7,424.0 L671.1,424.2Z M691.6,393.3 L702.2,393.1 L712.8,392.8 L713.5,423.2 L702.9,423.5 L692.3,423.7Z M712.8,392.8 L723.3,392.5 L733.9,392.2 L734.8,422.6 L724.2,422.9 L713.5,423.2Z M733.9,392.2 L744.5,391.9 L755.0,391.6 L756.0,422.0 L745.4,422.3 L734.8,422.6Z M755.0,391.6 L765.6,391.2 L776.1,390.9 L777.2,421.3 L766.6,421.7 L756.0,422.0Z M776.1,390.9 L786.7,390.5 L797.3,390.1 L798.4,420.5 L787.8,420.9 L777.2,421.3Z M797.3,390.1 L807.8,389.7 L818.4,389.3 L819.6,419.7 L809.0,420.1 L798.4,420.5Z M818.4,389.3 L828.9,388.8 L839.5,388.4 L840.9,418.7 L830.3,419.2 L819.6,419.7Z M839.5,388.4 L850.1,387.9 L860.6,387.4 L862.1,417.8 L851.5,418.3 L840.9,418.7Z M860.6,387.4 L871.2,386.9 L881.7,386.3 L883.3,416.7 L872.7,417.3 L862.1,417.8Z M902.8,385.2 L913.4,384.6 L923.9,384.0 L925.7,414.4 L915.1,415.0 L904.5,415.6Z M945.0,382.8 L955.6,382.1 L966.1,381.5 L968.1,411.8 L957.5,412.5 L946.9,413.2Z M966.1,381.5 L976.7,380.8 L987.2,380.1 L989.2,410.5 L978.7,411.2 L968.1,411.8Z M987.2,380.1 L1002.0,379.1 L1016.7,378.0 L1018.9,408.4 L1004.1,409.4 L989.2,410.5Z M289.0,420.5 L299.6,420.9 L310.2,421.3 L309.1,451.7 L298.5,451.3 L287.8,450.9Z M310.2,421.3 L320.8,421.7 L331.4,422.0 L330.4,452.4 L319.8,452.1 L309.1,451.7Z M352.6,422.6 L363.3,422.9 L373.9,423.2 L373.1,453.6 L362.4,453.4 L351.8,453.1Z M373.9,423.2 L384.5,423.5 L395.1,423.7 L394.4,454.2 L383.8,453.9 L373.1,453.6Z M564.9,425.4 L575.6,425.3 L586.2,425.3 L586.4,455.7 L575.7,455.7 L565.0,455.8Z M586.2,425.3 L596.8,425.2 L607.4,425.1 L607.7,455.5 L597.0,455.6 L586.4,455.7Z M628.6,424.8 L639.2,424.7 L649.9,424.5 L650.3,455.0 L639.7,455.1 L629.0,455.3Z M649.9,424.5 L660.5,424.4 L671.1,424.2 L671.7,454.6 L661.0,454.8 L650.3,455.0Z M671.1,424.2 L681.7,424.0 L692.3,423.7 L693.0,454.2 L682.3,454.4 L671.7,454.6Z M692.3,423.7 L702.9,423.5 L713.5,423.2 L714.3,453.6 L703.7,453.9 L693.0,454.2Z M713.5,423.2 L724.2,422.9 L734.8,422.6 L735.6,453.1 L725.0,453.4 L714.3,453.6Z M734.8,422.6 L745.4,422.3 L756.0,422.0 L757.0,452.4 L746.3,452.7 L735.6,453.1Z M777.2,421.3 L787.8,420.9 L798.4,420.5 L799.6,450.9 L788.9,451.3 L778.3,451.7Z M798.4,420.5 L809.0,420.1 L819.6,419.7 L820.9,450.1 L810.3,450.5 L799.6,450.9Z M819.6,419.7 L830.3,419.2 L840.9,418.7 L842.2,449.1 L831.6,449.6 L820.9,450.1Z M840.9,418.7 L851.5,418.3 L862.1,417.8 L863.5,448.2 L852.9,448.7 L842.2,449.1Z M862.1,417.8 L872.7,417.3 L883.3,416.7 L884.8,447.1 L874.2,447.6 L863.5,448.2Z M925.7,414.4 L936.3,413.8 L946.9,413.2 L948.7,443.5 L938.1,444.2 L927.4,444.8Z M946.9,413.2 L957.5,412.5 L968.1,411.8 L970.0,442.2 L959.4,442.9 L948.7,443.5Z M968.1,411.8 L978.7,411.2 L989.2,410.5 L991.3,440.8 L980.6,441.5 L970.0,442.2Z M989.2,410.5 L1004.1,409.4 L1018.9,408.4 L1021.1,438.7 L1006.2,439.8 L991.3,440.8Z M202.6,447.1 L213.2,447.6 L223.9,448.2 L222.4,478.6 L211.7,478.0 L201.0,477.5Z M266.5,450.1 L277.2,450.5 L287.8,450.9 L286.7,481.3 L275.9,480.9 L265.2,480.5Z M287.8,450.9 L298.5,451.3 L309.1,451.7 L308.1,482.1 L297.4,481.7 L286.7,481.3Z M458.4,455.3 L469.1,455.4 L479.7,455.5 L479.4,485.9 L468.7,485.8 L458.0,485.7Z M543.7,455.8 L554.4,455.8 L565.0,455.8 L565.1,486.2 L554.4,486.2 L543.7,486.3Z M565.0,455.8 L575.7,455.7 L586.4,455.7 L586.6,486.1 L575.8,486.2 L565.1,486.2Z M586.4,455.7 L597.0,455.6 L607.7,455.5 L608.0,485.9 L597.3,486.0 L586.6,486.1Z M607.7,455.5 L618.4,455.4 L629.0,455.3 L629.4,485.7 L618.7,485.8 L608.0,485.9Z M629.0,455.3 L639.7,455.1 L650.3,455.0 L650.8,485.4 L640.1,485.6 L629.4,485.7Z M650.3,455.0 L661.0,454.8 L671.7,454.6 L672.3,485.0 L661.5,485.2 L650.8,485.4Z M671.7,454.6 L682.3,454.4 L693.0,454.2 L693.7,484.6 L683.0,484.8 L672.3,485.0Z M693.0,454.2 L703.7,453.9 L714.3,453.6 L715.1,484.1 L704.4,484.3 L693.7,484.6Z M735.6,453.1 L746.3,452.7 L757.0,452.4 L757.9,482.8 L747.2,483.2 L736.5,483.5Z M757.0,452.4 L767.6,452.1 L778.3,451.7 L779.3,482.1 L768.6,482.5 L757.9,482.8Z M778.3,451.7 L788.9,451.3 L799.6,450.9 L800.8,481.3 L790.1,481.7 L779.3,482.1Z M799.6,450.9 L810.3,450.5 L820.9,450.1 L822.2,480.5 L811.5,480.9 L800.8,481.3Z M820.9,450.1 L831.6,449.6 L842.2,449.1 L843.6,479.6 L832.9,480.0 L822.2,480.5Z M842.2,449.1 L852.9,448.7 L863.5,448.2 L865.0,478.6 L854.3,479.1 L843.6,479.6Z M863.5,448.2 L874.2,447.6 L884.8,447.1 L886.4,477.5 L875.7,478.0 L865.0,478.6Z M884.8,447.1 L895.5,446.6 L906.1,446.0 L907.8,476.4 L897.1,476.9 L886.4,477.5Z M991.3,440.8 L1006.2,439.8 L1021.1,438.7 L1023.3,469.1 L1008.3,470.2 L993.3,471.2Z M179.6,476.4 L190.3,476.9 L201.0,477.5 L199.5,507.9 L188.7,507.3 L178.0,506.8Z M243.8,479.6 L254.5,480.0 L265.2,480.5 L264.0,510.9 L253.2,510.4 L242.5,510.0Z M265.2,480.5 L275.9,480.9 L286.7,481.3 L285.5,511.7 L274.7,511.3 L264.0,510.9Z M286.7,481.3 L297.4,481.7 L308.1,482.1 L307.0,512.5 L296.2,512.1 L285.5,511.7Z M308.1,482.1 L318.8,482.5 L329.5,482.8 L328.5,513.3 L317.8,512.9 L307.0,512.5Z M350.9,483.5 L361.6,483.8 L372.3,484.1 L371.5,514.5 L360.8,514.2 L350.0,513.9Z M458.0,485.7 L468.7,485.8 L479.4,485.9 L479.1,516.4 L468.4,516.3 L457.6,516.1Z M479.4,485.9 L490.1,486.0 L500.9,486.1 L500.7,516.6 L489.9,516.5 L479.1,516.4Z M500.9,486.1 L511.6,486.2 L522.3,486.2 L522.2,516.7 L511.4,516.6 L500.7,516.6Z M565.1,486.2 L575.8,486.2 L586.6,486.1 L586.8,516.6 L576.0,516.6 L565.2,516.7Z M586.6,486.1 L597.3,486.0 L608.0,485.9 L608.3,516.4 L597.5,516.5 L586.8,516.6Z M650.8,485.4 L661.5,485.2 L672.3,485.0 L672.8,515.5 L662.1,515.6 L651.3,515.8Z M672.3,485.0 L683.0,484.8 L693.7,484.6 L694.4,515.0 L683.6,515.2 L672.8,515.5Z M693.7,484.6 L704.4,484.3 L715.1,484.1 L715.9,514.5 L705.1,514.8 L694.4,515.0Z M736.5,483.5 L747.2,483.2 L757.9,482.8 L758.9,513.3 L748.1,513.6 L737.4,513.9Z M757.9,482.8 L768.6,482.5 L779.3,482.1 L780.4,512.5 L769.7,512.9 L758.9,513.3Z M199.5,507.9 L210.2,508.4 L221.0,509.0 L219.5,539.4 L208.7,538.8 L197.9,538.3Z M221.0,509.0 L231.7,509.5 L242.5,510.0 L241.1,540.4 L230.3,539.9 L219.5,539.4Z M242.5,510.0 L253.2,510.4 L264.0,510.9 L262.7,541.3 L251.9,540.8 L241.1,540.4Z M285.5,511.7 L296.2,512.1 L307.0,512.5 L305.9,543.0 L295.1,542.6 L284.3,542.2Z M328.5,513.3 L339.3,513.6 L350.0,513.9 L349.1,544.3 L338.3,544.0 L327.5,543.7Z M219.5,539.4 L230.3,539.9 L241.1,540.4 L239.8,570.8 L228.9,570.3 L218.1,569.8Z M262.7,541.3 L273.5,541.7 L284.3,542.2 L283.2,572.6 L272.3,572.2 L261.5,571.7Z M284.3,542.2 L295.1,542.6 L305.9,543.0 L304.9,573.4 L294.0,573.0 L283.2,572.6Z M261.5,571.7 L272.3,572.2 L283.2,572.6 L282.0,603.0 L271.1,602.6 L260.2,602.1Z M283.2,572.6 L294.0,573.0 L304.9,573.4 L303.8,603.8 L292.9,603.4 L282.0,603.0Z" fill="#ffffcc" fill-opacity="0.7"/>
<path d="M5.2,6.6 L25.1,8.3 L45.0,10.0 L42.6,40.3 L22.6,38.7 L2.6,37.0Z M64.9,11.5 L74.9,12.3 L84.8,13.0 L82.6,43.4 L72.6,42.6 L62.6,41.9Z M104.7,14.4 L114.7,15.1 L124.7,15.8 L122.6,46.2 L112.6,45.5 L102.6,44.8Z M164.5,18.4 L174.5,19.0 L184.4,19.5 L182.7,49.9 L172.7,49.3 L162.7,48.7Z M184.4,19.5 L194.4,20.1 L204.4,20.7 L202.7,51.0 L192.7,50.5 L182.7,49.9Z M224.3,21.7 L234.3,22.2 L244.3,22.7 L242.8,53.1 L232.8,52.6 L222.8,52.1Z M922.9,18.4 L932.9,17.7 L942.8,17.1 L944.8,47.5 L934.8,48.1 L924.7,48.7Z M122.6,46.2 L132.6,46.8 L142.6,47.5 L140.7,77.9 L130.6,77.2 L120.6,76.5Z M241.4,83.5 L251.4,84.0 L261.5,84.4 L260.1,114.8 L250.0,114.4 L239.9,113.9Z M684.8,89.2 L694.9,88.9 L705.0,88.7 L705.8,119.1 L695.7,119.3 L685.5,119.6Z M-2.7,97.6 L17.5,99.3 L37.7,101.0 L35.3,131.3 L15.0,129.6 L-5.3,127.9Z M37.7,101.0 L47.8,101.8 L57.9,102.5 L55.6,132.9 L45.4,132.1 L35.3,131.3Z M78.1,104.1 L88.2,104.8 L98.3,105.5 L96.2,135.9 L86.0,135.1 L75.9,134.4Z M199.4,111.8 L209.6,112.4 L219.7,112.9 L218.1,143.3 L207.9,142.7 L197.8,142.2Z M766.5,117.2 L776.7,116.9 L786.8,116.5 L787.9,146.9 L777.8,147.3 L767.6,147.7Z M-5.3,127.9 L15.0,129.6 L35.3,131.3 L32.9,161.6 L12.5,160.0 L-7.9,158.2Z M35.3,131.3 L45.4,132.1 L55.6,132.9 L53.3,163.2 L43.1,162.4 L32.9,161.6Z M96.2,135.9 L106.3,136.6 L116.5,137.3 L114.5,167.6 L104.3,166.9 L94.1,166.2Z M116.5,137.3 L126.7,137.9 L136.8,138.6 L134.9,169.0 L124.7,168.3 L114.5,167.6Z M136.8,138.6 L147.0,139.2 L157.1,139.9 L155.3,170.2 L145.1,169.6 L134.9,169.0Z M258.8,145.2 L269.0,145.7 L279.1,146.1 L277.9,176.5 L267.6,176.1 L257.4,175.6Z M53.3,163.2 L63.5,164.0 L73.7,164.8 L71.4,195.1 L61.2,194.3 L50.9,193.6Z M114.5,167.6 L124.7,168.3 L134.9,169.0 L132.9,199.3 L122.7,198.7 L112.4,198.0Z M605.1,181.7 L615.3,181.6 L625.5,181.5 L625.9,211.9 L615.6,212.0 L605.4,212.1Z M972.9,167.6 L987.2,166.6 L1001.5,165.6 L1003.7,196.0 L989.3,197.0 L975.0,198.0Z M-10.5,188.5 L10.0,190.3 L30.4,191.9 L28.0,222.3 L7.4,220.6 L-13.1,218.8Z M30.4,191.9 L40.7,192.8 L50.9,193.6 L48.6,223.9 L38.3,223.1 L28.0,222.3Z M91.9,196.6 L102.2,197.3 L112.4,198.0 L110.4,228.3 L100.1,227.6 L89.8,226.9Z M132.9,199.3 L143.2,200.0 L153.4,200.6 L151.6,231.0 L141.3,230.3 L131.0,229.7Z M174.0,201.8 L184.2,202.4 L194.5,203.0 L192.8,233.3 L182.5,232.8 L172.2,232.2Z M215.0,204.0 L225.3,204.6 L235.5,205.1 L234.1,235.4 L223.8,234.9 L213.5,234.4Z M256.1,206.0 L266.3,206.5 L276.6,206.9 L275.3,237.3 L265.0,236.8 L254.7,236.4Z M297.1,207.7 L307.4,208.1 L317.7,208.5 L316.6,238.9 L306.3,238.5 L296.0,238.1Z M89.8,226.9 L100.1,227.6 L110.4,228.3 L108.4,258.7 L98.0,258.0 L87.7,257.3Z M151.6,231.0 L161.9,231.6 L172.2,232.2 L170.5,262.6 L160.1,261.9 L149.8,261.3Z M234.1,235.4 L244.4,235.9 L254.7,236.4 L253.3,266.8 L243.0,266.3 L232.6,265.8Z M275.3,237.3 L285.7,237.7 L296.0,238.1 L294.8,268.5 L284.4,268.1 L274.1,267.7Z M378.5,240.7 L388.8,241.0 L399.2,241.2 L398.5,271.7 L388.1,271.4 L377.8,271.2Z M440.5,242.0 L450.8,242.2 L461.1,242.3 L460.7,272.7 L450.3,272.6 L440.0,272.4Z M543.7,242.9 L554.0,242.8 L564.4,242.8 L564.5,273.2 L554.1,273.3 L543.7,273.3Z M67.0,255.8 L77.3,256.5 L87.7,257.3 L85.5,287.6 L75.1,286.9 L64.7,286.1Z M87.7,257.3 L98.0,258.0 L108.4,258.7 L106.3,289.0 L95.9,288.3 L85.5,287.6Z M232.6,265.8 L243.0,266.3 L253.3,266.8 L252.0,297.2 L241.6,296.7 L231.2,296.2Z M564.5,273.2 L574.8,273.2 L585.2,273.1 L585.4,303.6 L575.0,303.6 L564.6,303.7Z M85.5,287.6 L95.9,288.3 L106.3,289.0 L104.3,319.4 L93.8,318.7 L83.4,317.9Z M106.3,289.0 L116.7,289.7 L127.1,290.4 L125.2,320.8 L114.7,320.1 L104.3,319.4Z M210.4,295.2 L220.8,295.7 L231.2,296.2 L229.7,326.6 L219.3,326.1 L208.8,325.6Z M231.2,296.2 L241.6,296.7 L252.0,297.2 L250.6,327.6 L240.2,327.1 L229.7,326.6Z M418.7,302.5 L429.1,302.7 L439.5,302.9 L439.0,333.3 L428.5,333.1 L418.1,332.9Z M439.5,302.9 L449.9,303.0 L460.3,303.2 L459.9,333.6 L449.5,333.4 L439.0,333.3Z M460.3,303.2 L470.8,303.3 L481.2,303.4 L480.9,333.8 L470.4,333.7 L459.9,333.6Z M564.6,303.7 L575.0,303.6 L585.4,303.6 L585.6,334.0 L575.1,334.0 L564.6,334.1Z M208.8,325.6 L219.3,326.1 L229.7,326.6 L228.3,357.0 L217.8,356.5 L207.2,355.9Z M376.2,332.0 L386.7,332.2 L397.1,332.5 L396.5,362.9 L385.9,362.7 L375.4,362.4Z M836.8,327.6 L847.2,327.1 L857.7,326.6 L859.2,357.0 L848.6,357.5 L838.1,358.0Z M186.2,354.8 L196.7,355.4 L207.2,355.9 L205.7,386.3 L195.1,385.8 L184.6,385.2Z M207.2,355.9 L217.8,356.5 L228.3,357.0 L226.8,387.4 L216.2,386.9 L205.7,386.3Z M291.3,359.7 L301.8,360.1 L312.3,360.5 L311.3,390.9 L300.7,390.5 L290.1,390.1Z M312.3,360.5 L322.8,360.8 L333.4,361.2 L332.4,391.6 L321.8,391.2 L311.3,390.9Z M333.4,361.2 L343.9,361.5 L354.4,361.8 L353.5,392.2 L343.0,391.9 L332.4,391.6Z M396.5,362.9 L407.0,363.1 L417.5,363.3 L416.9,393.7 L406.3,393.5 L395.8,393.3Z M184.6,385.2 L195.1,385.8 L205.7,386.3 L204.1,416.7 L193.5,416.2 L182.9,415.6Z M353.5,392.2 L364.1,392.5 L374.6,392.8 L373.9,423.2 L363.3,422.9 L352.6,422.6Z M374.6,392.8 L385.2,393.1 L395.8,393.3 L395.1,423.7 L384.5,423.5 L373.9,423.2Z M438.0,394.1 L448.6,394.3 L459.2,394.4 L458.8,424.8 L448.2,424.7 L437.5,424.5Z M459.2,394.4 L469.7,394.6 L480.3,394.7 L480.0,425.1 L469.4,425.0 L458.8,424.8Z M628.2,394.4 L638.8,394.3 L649.4,394.1 L649.9,424.5 L639.2,424.7 L628.6,424.8Z M140.5,413.2 L151.1,413.8 L161.7,414.4 L160.0,444.8 L149.3,444.2 L138.7,443.5Z M182.9,415.6 L193.5,416.2 L204.1,416.7 L202.6,447.1 L191.9,446.6 L181.3,446.0Z M204.1,416.7 L214.7,417.3 L225.3,417.8 L223.9,448.2 L213.2,447.6 L202.6,447.1Z M480.0,425.1 L490.6,425.2 L501.2,425.3 L501.0,455.7 L490.4,455.6 L479.7,455.5Z M522.5,425.4 L533.1,425.4 L543.7,425.4 L543.7,455.8 L533.0,455.8 L522.4,455.8Z M543.7,425.4 L554.3,425.4 L564.9,425.4 L565.0,455.8 L554.4,455.8 L543.7,455.8Z M607.4,425.1 L618.0,425.0 L628.6,424.8 L629.0,455.3 L618.4,455.4 L607.7,455.5Z M160.0,444.8 L170.6,445.4 L181.3,446.0 L179.6,476.4 L168.9,475.8 L158.2,475.2Z M181.3,446.0 L191.9,446.6 L202.6,447.1 L201.0,477.5 L190.3,476.9 L179.6,476.4Z M245.2,449.1 L255.8,449.6 L266.5,450.1 L265.2,480.5 L254.5,480.0 L243.8,479.6Z M330.4,452.4 L341.1,452.7 L351.8,453.1 L350.9,483.5 L340.2,483.2 L329.5,482.8Z M479.7,455.5 L490.4,455.6 L501.0,455.7 L500.9,486.1 L490.1,486.0 L479.4,485.9Z M201.0,477.5 L211.7,478.0 L222.4,478.6 L221.0,509.0 L210.2,508.4 L199.5,507.9Z M222.4,478.6 L233.1,479.1 L243.8,479.6 L242.5,510.0 L231.7,509.5 L221.0,509.0Z M522.3,486.2 L533.0,486.2 L543.7,486.3 L543.7,516.7 L532.9,516.7 L522.2,516.7Z M307.0,512.5 L317.8,512.9 L328.5,513.3 L327.5,543.7 L316.7,543.3 L305.9,543.0Z M241.1,540.4 L251.9,540.8 L262.7,541.3 L261.5,571.7 L250.6,571.3 L239.8,570.8Z M305.9,543.0 L316.7,543.3 L327.5,543.7 L326.6,574.1 L315.7,573.8 L304.9,573.4Z M392.4,545.4 L403.2,545.7 L414.0,545.9 L413.4,576.3 L402.5,576.1 L391.7,575.9Z M239.8,570.8 L250.6,571.3 L261.5,571.7 L260.2,602.1 L249.3,601.7 L238.4,601.2Z M304.9,573.4 L315.7,573.8 L326.6,574.1 L325.6,604.5 L314.7,604.2 L303.8,603.8Z M391.7,575.9 L402.5,576.1 L413.4,576.3 L412.8,606.8 L401.9,606.6 L391.0,606.3Z" fill="#fed976" fill-opacity="0.7"/>
<path d="M45.0,10.0 L54.9,10.7 L64.9,11.5 L62.6,41.9 L52.6,41.1 L42.6,40.3Z M124.7,15.8 L134.6,16.5 L144.6,17.1 L142.6,47.5 L132.6,46.8 L122.6,46.2Z M962.8,15.8 L976.7,14.9 L990.6,13.9 L992.8,44.2 L978.8,45.2 L964.8,46.2Z M42.6,40.3 L52.6,41.1 L62.6,41.9 L60.2,72.2 L50.2,71.4 L40.1,70.6Z M201.1,81.4 L211.2,82.0 L221.2,82.5 L219.7,112.9 L209.6,112.4 L199.4,111.8Z M786.8,116.5 L796.9,116.1 L807.0,115.7 L808.3,146.1 L798.1,146.5 L787.9,146.9Z M157.1,139.9 L167.3,140.5 L177.5,141.1 L175.7,171.4 L165.5,170.8 L155.3,170.2Z M197.8,142.2 L207.9,142.7 L218.1,143.3 L216.6,173.7 L206.3,173.1 L196.1,172.6Z M279.1,146.1 L289.3,146.5 L299.5,146.9 L298.3,177.3 L288.1,176.9 L277.9,176.5Z M604.8,151.3 L615.0,151.2 L625.1,151.1 L625.5,181.5 L615.3,181.6 L605.1,181.7Z M73.7,164.8 L83.9,165.5 L94.1,166.2 L91.9,196.6 L81.7,195.8 L71.4,195.1Z M155.3,170.2 L165.5,170.8 L175.7,171.4 L174.0,201.8 L163.7,201.2 L153.4,200.6Z M196.1,172.6 L206.3,173.1 L216.6,173.7 L215.0,204.0 L204.7,203.5 L194.5,203.0Z M257.4,175.6 L267.6,176.1 L277.9,176.5 L276.6,206.9 L266.3,206.5 L256.1,206.0Z M277.9,176.5 L288.1,176.9 L298.3,177.3 L297.1,207.7 L286.9,207.3 L276.6,206.9Z M71.4,195.1 L81.7,195.8 L91.9,196.6 L89.8,226.9 L79.5,226.2 L69.2,225.4Z M153.4,200.6 L163.7,201.2 L174.0,201.8 L172.2,232.2 L161.9,231.6 L151.6,231.0Z M110.4,228.3 L120.7,229.0 L131.0,229.7 L129.1,260.0 L118.7,259.4 L108.4,258.7Z M172.2,232.2 L182.5,232.8 L192.8,233.3 L191.2,263.7 L180.8,263.1 L170.5,262.6Z M254.7,236.4 L265.0,236.8 L275.3,237.3 L274.1,267.7 L263.7,267.2 L253.3,266.8Z M419.8,241.7 L430.1,241.9 L440.5,242.0 L440.0,272.4 L429.6,272.3 L419.2,272.1Z M191.2,263.7 L201.5,264.3 L211.9,264.8 L210.4,295.2 L199.9,294.6 L189.5,294.1Z M253.3,266.8 L263.7,267.2 L274.1,267.7 L272.8,298.1 L262.4,297.6 L252.0,297.2Z M294.8,268.5 L305.2,268.9 L315.5,269.3 L314.5,299.7 L304.1,299.3 L293.6,298.9Z M315.5,269.3 L325.9,269.6 L336.3,270.0 L335.3,300.4 L324.9,300.0 L314.5,299.7Z M357.0,270.6 L367.4,270.9 L377.8,271.2 L377.0,301.6 L366.6,301.3 L356.1,301.0Z M460.7,272.7 L471.1,272.9 L481.5,273.0 L481.2,303.4 L470.8,303.3 L460.3,303.2Z M272.8,298.1 L283.2,298.5 L293.6,298.9 L292.5,329.3 L282.0,328.9 L271.6,328.5Z M335.3,300.4 L345.7,300.7 L356.1,301.0 L355.3,331.4 L344.8,331.1 L334.3,330.8Z M356.1,301.0 L366.6,301.3 L377.0,301.6 L376.2,332.0 L365.7,331.7 L355.3,331.4Z M543.7,303.7 L554.1,303.7 L564.6,303.7 L564.6,334.1 L554.2,334.1 L543.7,334.1Z M187.9,324.5 L198.3,325.0 L208.8,325.6 L207.2,355.9 L196.7,355.4 L186.2,354.8Z M271.6,328.5 L282.0,328.9 L292.5,329.3 L291.3,359.7 L280.8,359.3 L270.3,358.9Z M292.5,329.3 L302.9,329.7 L313.4,330.1 L312.3,360.5 L301.8,360.1 L291.3,359.7Z M228.3,357.0 L238.8,357.5 L249.3,358.0 L247.9,388.4 L237.4,387.9 L226.8,387.4Z M270.3,358.9 L280.8,359.3 L291.3,359.7 L290.1,390.1 L279.6,389.7 L269.0,389.3Z M459.6,364.0 L470.1,364.1 L480.6,364.2 L480.3,394.7 L469.7,394.6 L459.2,394.4Z M79.1,378.6 L89.7,379.4 L100.2,380.1 L98.2,410.5 L87.6,409.7 L77.0,409.0Z M100.2,380.1 L110.7,380.8 L121.3,381.5 L119.4,411.8 L108.8,411.2 L98.2,410.5Z M121.3,381.5 L131.8,382.1 L142.4,382.8 L140.5,413.2 L129.9,412.5 L119.4,411.8Z M226.8,387.4 L237.4,387.9 L247.9,388.4 L246.6,418.7 L235.9,418.3 L225.3,417.8Z M269.0,389.3 L279.6,389.7 L290.1,390.1 L289.0,420.5 L278.4,420.1 L267.8,419.7Z M332.4,391.6 L343.0,391.9 L353.5,392.2 L352.6,422.6 L342.0,422.3 L331.4,422.0Z M395.8,393.3 L406.3,393.5 L416.9,393.7 L416.3,424.2 L405.7,424.0 L395.1,423.7Z M246.6,418.7 L257.2,419.2 L267.8,419.7 L266.5,450.1 L255.8,449.6 L245.2,449.1Z M331.4,422.0 L342.0,422.3 L352.6,422.6 L351.8,453.1 L341.1,452.7 L330.4,452.4Z M501.2,425.3 L511.9,425.3 L522.5,425.4 L522.4,455.8 L511.7,455.7 L501.0,455.7Z M223.9,448.2 L234.5,448.7 L245.2,449.1 L243.8,479.6 L233.1,479.1 L222.4,478.6Z M309.1,451.7 L319.8,452.1 L330.4,452.4 L329.5,482.8 L318.8,482.5 L308.1,482.1Z M415.7,454.6 L426.4,454.8 L437.1,455.0 L436.6,485.4 L425.9,485.2 L415.2,485.0Z M522.4,455.8 L533.0,455.8 L543.7,455.8 L543.7,486.3 L533.0,486.2 L522.3,486.2Z M329.5,482.8 L340.2,483.2 L350.9,483.5 L350.0,513.9 L339.3,513.6 L328.5,513.3Z M372.3,484.1 L383.0,484.3 L393.7,484.6 L393.1,515.0 L382.3,514.8 L371.5,514.5Z M393.7,484.6 L404.4,484.8 L415.2,485.0 L414.6,515.5 L403.8,515.2 L393.1,515.0Z M415.2,485.0 L425.9,485.2 L436.6,485.4 L436.1,515.8 L425.3,515.6 L414.6,515.5Z M608.0,485.9 L618.7,485.8 L629.4,485.7 L629.8,516.1 L619.0,516.3 L608.3,516.4Z M350.0,513.9 L360.8,514.2 L371.5,514.5 L370.8,544.9 L360.0,544.6 L349.1,544.3Z M393.1,515.0 L403.8,515.2 L414.6,515.5 L414.0,545.9 L403.2,545.7 L392.4,545.4Z M327.5,543.7 L338.3,544.0 L349.1,544.3 L348.3,574.8 L337.4,574.4 L326.6,574.1Z M349.1,544.3 L360.0,544.6 L370.8,544.9 L370.0,575.4 L359.1,575.1 L348.3,574.8Z M326.6,574.1 L337.4,574.4 L348.3,574.8 L347.4,605.2 L336.5,604.9 L325.6,604.5Z M348.3,574.8 L359.1,575.1 L370.0,575.4 L369.2,605.8 L358.3,605.5 L347.4,605.2Z" fill="#fd8d3c" fill-opacity="0.7"/>
<path d="M84.8,13.0 L94.8,13.7 L104.7,14.4 L102.6,44.8 L92.6,44.1 L82.6,43.4Z M204.4,20.7 L214.4,21.2 L224.3,21.7 L222.8,52.1 L212.8,51.6 L202.7,51.0Z M2.6,37.0 L22.6,38.7 L42.6,40.3 L40.1,70.6 L20.0,69.0 L-0.0,67.3Z M62.6,41.9 L72.6,42.6 L82.6,43.4 L80.3,73.7 L70.3,73.0 L60.2,72.2Z M82.6,43.4 L92.6,44.1 L102.6,44.8 L100.5,75.2 L90.4,74.4 L80.3,73.7Z M142.6,47.5 L152.7,48.1 L162.7,48.7 L160.8,79.1 L150.8,78.5 L140.7,77.9Z M222.8,52.1 L232.8,52.6 L242.8,53.1 L241.4,83.5 L231.3,83.0 L221.2,82.5Z M-0.0,67.3 L20.0,69.0 L40.1,70.6 L37.7,101.0 L17.5,99.3 L-2.7,97.6Z M40.1,70.6 L50.2,71.4 L60.2,72.2 L57.9,102.5 L47.8,101.8 L37.7,101.0Z M80.3,73.7 L90.4,74.4 L100.5,75.2 L98.3,105.5 L88.2,104.8 L78.1,104.1Z M100.5,75.2 L110.5,75.9 L120.6,76.5 L118.5,106.9 L108.4,106.2 L98.3,105.5Z M57.9,102.5 L68.0,103.3 L78.1,104.1 L75.9,134.4 L65.7,133.7 L55.6,132.9Z M98.3,105.5 L108.4,106.2 L118.5,106.9 L116.5,137.3 L106.3,136.6 L96.2,135.9Z M118.5,106.9 L128.6,107.6 L138.8,108.2 L136.8,138.6 L126.7,137.9 L116.5,137.3Z M138.8,108.2 L148.9,108.9 L159.0,109.5 L157.1,139.9 L147.0,139.2 L136.8,138.6Z M159.0,109.5 L169.1,110.1 L179.2,110.7 L177.5,141.1 L167.3,140.5 L157.1,139.9Z M55.6,132.9 L65.7,133.7 L75.9,134.4 L73.7,164.8 L63.5,164.0 L53.3,163.2Z M75.9,134.4 L86.0,135.1 L96.2,135.9 L94.1,166.2 L83.9,165.5 L73.7,164.8Z M175.7,171.4 L185.9,172.0 L196.1,172.6 L194.5,203.0 L184.2,202.4 L174.0,201.8Z M50.9,193.6 L61.2,194.3 L71.4,195.1 L69.2,225.4 L58.9,224.7 L48.6,223.9Z M276.6,206.9 L286.9,207.3 L297.1,207.7 L296.0,238.1 L285.7,237.7 L275.3,237.3Z M440.9,211.6 L451.2,211.8 L461.5,211.9 L461.1,242.3 L450.8,242.2 L440.5,242.0Z M131.0,229.7 L141.3,230.3 L151.6,231.0 L149.8,261.3 L139.4,260.7 L129.1,260.0Z M296.0,238.1 L306.3,238.5 L316.6,238.9 L315.5,269.3 L305.2,268.9 L294.8,268.5Z M211.9,264.8 L222.3,265.3 L232.6,265.8 L231.2,296.2 L220.8,295.7 L210.4,295.2Z M274.1,267.7 L284.4,268.1 L294.8,268.5 L293.6,298.9 L283.2,298.5 L272.8,298.1Z M336.3,270.0 L346.6,270.3 L357.0,270.6 L356.1,301.0 L345.7,300.7 L335.3,300.4Z M127.1,290.4 L137.5,291.1 L147.9,291.7 L146.1,322.1 L135.6,321.4 L125.2,320.8Z M146.1,322.1 L156.5,322.7 L167.0,323.3 L165.2,353.7 L154.7,353.1 L144.2,352.4Z M355.3,331.4 L365.7,331.7 L376.2,332.0 L375.4,362.4 L364.9,362.1 L354.4,361.8Z M144.2,352.4 L154.7,353.1 L165.2,353.7 L163.5,384.0 L152.9,383.4 L142.4,382.8Z M165.2,353.7 L175.7,354.3 L186.2,354.8 L184.6,385.2 L174.0,384.6 L163.5,384.0Z M142.4,382.8 L152.9,383.4 L163.5,384.0 L161.7,414.4 L151.1,413.8 L140.5,413.2Z M247.9,388.4 L258.5,388.8 L269.0,389.3 L267.8,419.7 L257.2,419.2 L246.6,418.7Z M290.1,390.1 L300.7,390.5 L311.3,390.9 L310.2,421.3 L299.6,420.9 L289.0,420.5Z M77.0,409.0 L87.6,409.7 L98.2,410.5 L96.1,440.8 L85.5,440.1 L74.8,439.4Z M98.2,410.5 L108.8,411.2 L119.4,411.8 L117.4,442.2 L106.8,441.5 L96.1,440.8Z M119.4,411.8 L129.9,412.5 L140.5,413.2 L138.7,443.5 L128.1,442.9 L117.4,442.2Z M161.7,414.4 L172.3,415.0 L182.9,415.6 L181.3,446.0 L170.6,445.4 L160.0,444.8Z M225.3,417.8 L235.9,418.3 L246.6,418.7 L245.2,449.1 L234.5,448.7 L223.9,448.2Z M267.8,419.7 L278.4,420.1 L289.0,420.5 L287.8,450.9 L277.2,450.5 L266.5,450.1Z M437.5,424.5 L448.2,424.7 L458.8,424.8 L458.4,455.3 L447.7,455.1 L437.1,455.0Z M458.8,424.8 L469.4,425.0 L480.0,425.1 L479.7,455.5 L469.1,455.4 L458.4,455.3Z M96.1,440.8 L106.8,441.5 L117.4,442.2 L115.5,472.6 L104.8,471.9 L94.1,471.2Z M117.4,442.2 L128.1,442.9 L138.7,443.5 L136.9,473.9 L126.2,473.3 L115.5,472.6Z M351.8,453.1 L362.4,453.4 L373.1,453.6 L372.3,484.1 L361.6,483.8 L350.9,483.5Z M373.1,453.6 L383.8,453.9 L394.4,454.2 L393.7,484.6 L383.0,484.3 L372.3,484.1Z M394.4,454.2 L405.1,454.4 L415.7,454.6 L415.2,485.0 L404.4,484.8 L393.7,484.6Z M437.1,455.0 L447.7,455.1 L458.4,455.3 L458.0,485.7 L447.3,485.6 L436.6,485.4Z M501.0,455.7 L511.7,455.7 L522.4,455.8 L522.3,486.2 L511.6,486.2 L500.9,486.1Z M436.6,485.4 L447.3,485.6 L458.0,485.7 L457.6,516.1 L446.9,516.0 L436.1,515.8Z M629.4,485.7 L640.1,485.6 L650.8,485.4 L651.3,515.8 L640.6,516.0 L629.8,516.1Z M371.5,514.5 L382.3,514.8 L393.1,515.0 L392.4,545.4 L381.6,545.2 L370.8,544.9Z M370.8,544.9 L381.6,545.2 L392.4,545.4 L391.7,575.9 L380.8,575.6 L370.0,575.4Z M370.0,575.4 L380.8,575.6 L391.7,575.9 L391.0,606.3 L380.1,606.1 L369.2,605.8Z" fill="#e31a1c" fill-opacity="0.7"/>
<path d="M144.6,17.1 L154.5,17.7 L164.5,18.4 L162.7,48.7 L152.7,48.1 L142.6,47.5Z M102.6,44.8 L112.6,45.5 L122.6,46.2 L120.6,76.5 L110.5,75.9 L100.5,75.2Z M162.7,48.7 L172.7,49.3 L182.7,49.9 L181.0,80.3 L170.9,79.7 L160.8,79.1Z M182.7,49.9 L192.7,50.5 L202.7,51.0 L201.1,81.4 L191.0,80.9 L181.0,80.3Z M202.7,51.0 L212.8,51.6 L222.8,52.1 L221.2,82.5 L211.2,82.0 L201.1,81.4Z M60.2,72.2 L70.3,73.0 L80.3,73.7 L78.1,104.1 L68.0,103.3 L57.9,102.5Z M120.6,76.5 L130.6,77.2 L140.7,77.9 L138.8,108.2 L128.6,107.6 L118.5,106.9Z M140.7,77.9 L150.8,78.5 L160.8,79.1 L159.0,109.5 L148.9,108.9 L138.8,108.2Z M160.8,79.1 L170.9,79.7 L181.0,80.3 L179.2,110.7 L169.1,110.1 L159.0,109.5Z M181.0,80.3 L191.0,80.9 L201.1,81.4 L199.4,111.8 L189.3,111.3 L179.2,110.7Z M221.2,82.5 L231.3,83.0 L241.4,83.5 L239.9,113.9 L229.8,113.4 L219.7,112.9Z M179.2,110.7 L189.3,111.3 L199.4,111.8 L197.8,142.2 L187.6,141.6 L177.5,141.1Z M177.5,141.1 L187.6,141.6 L197.8,142.2 L196.1,172.6 L185.9,172.0 L175.7,171.4Z M194.5,203.0 L204.7,203.5 L215.0,204.0 L213.5,234.4 L203.1,233.9 L192.8,233.3Z M192.8,233.3 L203.1,233.9 L213.5,234.4 L211.9,264.8 L201.5,264.3 L191.2,263.7Z M213.5,234.4 L223.8,234.9 L234.1,235.4 L232.6,265.8 L222.3,265.3 L211.9,264.8Z M108.4,258.7 L118.7,259.4 L129.1,260.0 L127.1,290.4 L116.7,289.7 L106.3,289.0Z M129.1,260.0 L139.4,260.7 L149.8,261.3 L147.9,291.7 L137.5,291.1 L127.1,290.4Z M149.8,261.3 L160.1,261.9 L170.5,262.6 L168.7,292.9 L158.3,292.3 L147.9,291.7Z M170.5,262.6 L180.8,263.1 L191.2,263.7 L189.5,294.1 L179.1,293.5 L168.7,292.9Z M147.9,291.7 L158.3,292.3 L168.7,292.9 L167.0,323.3 L156.5,322.7 L146.1,322.1Z M168.7,292.9 L179.1,293.5 L189.5,294.1 L187.9,324.5 L177.4,323.9 L167.0,323.3Z M189.5,294.1 L199.9,294.6 L210.4,295.2 L208.8,325.6 L198.3,325.0 L187.9,324.5Z M293.6,298.9 L304.1,299.3 L314.5,299.7 L313.4,330.1 L302.9,329.7 L292.5,329.3Z M314.5,299.7 L324.9,300.0 L335.3,300.4 L334.3,330.8 L323.9,330.4 L313.4,330.1Z M377.0,301.6 L387.4,301.8 L397.8,302.1 L397.1,332.5 L386.7,332.2 L376.2,332.0Z M167.0,323.3 L177.4,323.9 L187.9,324.5 L186.2,354.8 L175.7,354.3 L165.2,353.7Z M313.4,330.1 L323.9,330.4 L334.3,330.8 L333.4,361.2 L322.8,360.8 L312.3,360.5Z M334.3,330.8 L344.8,331.1 L355.3,331.4 L354.4,361.8 L343.9,361.5 L333.4,361.2Z M397.1,332.5 L407.6,332.7 L418.1,332.9 L417.5,363.3 L407.0,363.1 L396.5,362.9Z M249.3,358.0 L259.8,358.4 L270.3,358.9 L269.0,389.3 L258.5,388.8 L247.9,388.4Z M163.5,384.0 L174.0,384.6 L184.6,385.2 L182.9,415.6 L172.3,415.0 L161.7,414.4Z M416.9,393.7 L427.5,393.9 L438.0,394.1 L437.5,424.5 L426.9,424.4 L416.3,424.2Z M395.1,423.7 L405.7,424.0 L416.3,424.2 L415.7,454.6 L405.1,454.4 L394.4,454.2Z M416.3,424.2 L426.9,424.4 L437.5,424.5 L437.1,455.0 L426.4,454.8 L415.7,454.6Z M543.7,486.3 L554.4,486.2 L565.1,486.2 L565.2,516.7 L554.5,516.7 L543.7,516.7Z" fill="#962a37" fill-opacity="0.7"/>
<path d="M45.0,10.0 L42.6,40.3 M2.6,37.0 L22.6,38.7 L42.6,40.3 M5.2,6.6 L2.6,37.0 M25.1,8.3 L45.0,10.0 M64.9,11.5 L62.6,41.9 M42.6,40.3 L52.6,41.1 L62.6,41.9 M45.0,10.0 L64.9,11.5 M84.8,13.0 L82.6,43.4 M62.6,41.9 L72.6,42.6 L82.6,43.4 M64.9,11.5 L84.8,13.0 M104.7,14.4 L102.6,44.8 M82.6,43.4 L92.6,44.1 L102.6,44.8 M84.8,13.0 L104.7,14.4 M124.7,15.8 L122.6,46.2 M102.6,44.8 L112.6,45.5 L122.6,46.2 M104.7,14.4 L124.7,15.8 M144.6,17.1 L142.6,47.5 M122.6,46.2 L132.6,46.8 L142.6,47.5 M124.7,15.8 L144.6,17.1 M164.5,18.4 L162.7,48.7 M142.6,47.5 L152.7,48.1 L162.7,48.7 M144.6,17.1 L164.5,18.4 M184.4,19.5 L182.7,49.9 M162.7,48.7 L172.7,49.3 L182.7,49.9 M164.5,18.4 L184.4,19.5 M204.4,20.7 L202.7,51.0 M182.7,49.9 L192.7,50.5 L202.7,51.0 M184.4,19.5 L204.4,20.7 M224.3,21.7 L222.8,52.1 M202.7,51.0 L212.8,51.6 L222.8,52.1 M204.4,20.7 L224.3,21.7 M244.3,22.7 L242.8,53.1 M222.8,52.1 L232.8,52.6 L242.8,53.1 M224.3,21.7 L244.3,22.7 M264.2,23.6 L262.9,54.0 M242.8,53.1 L252.8,53.6 L262.9,54.0 M244.3,22.7 L264.2,23.6 M303.0,55.7 L313.0,56.1 L323.0,56.4 M344.0,26.7 L343.1,57.1 M364.0,27.3 L363.1,57.7 M343.1,57.1 L353.1,57.4 L363.1,57.7 M344.0,26.7 L364.0,27.3 M384.0,27.8 L383.2,58.2 M363.1,57.7 L373.2,58.0 L383.2,58.2 M364.0,27.3 L384.0,27.8 M403.9,28.3 L403.2,58.7 M383.2,58.2 L393.2,58.5 L403.2,58.7 M384.0,27.8 L403.9,28.3 M423.9,28.7 L423.3,59.1 M423.3,59.1 L433.3,59.3 L443.4,59.5 M423.9,28.7 L443.9,29.1 M463.8,29.4 L463.4,59.8 M443.9,29.1 L463.8,29.4 M503.6,60.2 L513.6,60.2 L523.6,60.3 M543.7,29.9 L543.7,60.3 M523.6,60.3 L533.7,60.3 L543.7,60.3 M543.7,29.9 L563.7,29.8 M583.6,29.7 L583.8,60.2 M563.8,60.3 L573.8,60.2 L583.8,60.2 M563.7,29.8 L583.6,29.7 M583.6,29.7 L603.6,29.6 M623.6,29.4 L624.0,59.8 M603.6,29.6 L623.6,29.4 M643.6,29.1 L644.0,59.5 M624.0,59.8 L634.0,59.7 L644.0,59.5 M623.6,29.4 L643.6,29.1 M663.5,28.7 L664.1,59.1 M643.6,29.1 L663.5,28.7 M663.5,28.7 L683.5,28.3 M703.4,27.8 L704.2,58.2 M684.2,58.7 L694.2,58.5 L704.2,58.2 M683.5,28.3 L703.4,27.8 M704.2,58.2 L714.3,58.0 L724.3,57.7 M703.4,27.8 L723.4,27.3 M743.4,26.7 L744.3,57.1 M724.3,57.7 L734.3,57.4 L744.3,57.1 M723.4,27.3 L743.4,26.7 M744.3,57.1 L754.4,56.8 L764.4,56.4 M743.4,26.7 L763.3,26.0 M783.3,25.3 L784.5,55.7 M764.4,56.4 L774.4,56.1 L784.5,55.7 M763.3,26.0 L783.3,25.3 M803.2,24.5 L804.5,54.9 M784.5,55.7 L794.5,55.3 L804.5,54.9 M783.3,25.3 L803.2,24.5 M823.2,23.6 L824.5,54.0 M803.2,24.5 L823.2,23.6 M863.1,21.7 L864.6,52.1 M883.0,20.7 L884.7,51.0 M864.6,52.1 L874.7,51.6 L884.7,51.0 M863.1,21.7 L883.0,20.7 M903.0,19.5 L904.7,49.9 M884.7,51.0 L894.7,50.5 L904.7,49.9 M883.0,20.7 L903.0,19.5 M922.9,18.4 L924.7,48.7 M904.7,49.9 L914.7,49.3 L924.7,48.7 M903.0,19.5 L922.9,18.4 M942.8,17.1 L944.8,47.5 M924.7,48.7 L934.8,48.1 L944.8,47.5 M922.9,18.4 L942.8,17.1 M962.8,15.8 L964.8,46.2 M944.8,47.5 L954.8,46.8 L964.8,46.2 M942.8,17.1 L962.8,15.8 M990.6,13.9 L992.8,44.2 M964.8,46.2 L978.8,45.2 L992.8,44.2 M962.8,15.8 L982.7,14.4 M42.6,40.3 L40.1,70.6 M-0.0,67.3 L20.0,69.0 L40.1,70.6 M2.6,37.0 L-0.0,67.3 M62.6,41.9 L60.2,72.2 M40.1,70.6 L50.2,71.4 L60.2,72.2 M82.6,43.4 L80.3,73.7 M60.2,72.2 L70.3,73.0 L80.3,73.7 M102.6,44.8 L100.5,75.2 M80.3,73.7 L90.4,74.4 L100.5,75.2 M122.6,46.2 L120.6,76.5 M100.5,75.2 L110.5,75.9 L120.6,76.5 M142.6,47.5 L140.7,77.9 M120.6,76.5 L130.6,77.2 L140.7,77.9 M162.7,48.7 L160.8,79.1 M140.7,77.9 L150.8,78.5 L160.8,79.1 M182.7,49.9 L181.0,80.3 M160.8,79.1 L170.9,79.7 L181.0,80.3 M202.7,51.0 L201.1,81.4 M181.0,80.3 L191.0,80.9 L201.1,81.4 M222.8,52.1 L221.2,82.5 M201.1,81.4 L211.2,82.0 L221.2,82.5 M242.8,53.1 L241.4,83.5 M221.2,82.5 L231.3,83.0 L241.4,83.5 M262.9,54.0 L261.5,84.4 M241.4,83.5 L251.4,84.0 L261.5,84.4 M261.5,84.4 L271.6,84.9 L281.6,85.3 M303.0,55.7 L301.8,86.1 M281.6,85.3 L291.7,85.7 L301.8,86.1 M323.0,56.4 L321.9,86.8 M301.8,86.1 L311.9,86.5 L321.9,86.8 M343.1,57.1 L342.1,87.5 M321.9,86.8 L332.0,87.2 L342.1,87.5 M363.1,57.7 L362.3,88.1 M342.1,87.5 L352.2,87.8 L362.3,88.1 M362.3,88.1 L372.3,88.4 L382.4,88.7 M423.3,59.1 L422.7,89.6 M402.6,89.2 L412.6,89.4 L422.7,89.6 M443.4,59.5 L442.9,89.9 M422.7,89.6 L432.8,89.8 L442.9,89.9 M463.4,59.8 L463.1,90.2 M442.9,89.9 L453.0,90.1 L463.1,90.2 M503.6,60.2 L503.4,90.6 M523.6,60.3 L523.5,90.7 M503.4,90.6 L513.5,90.7 L523.5,90.7 M543.7,60.3 L543.7,90.7 M523.5,90.7 L533.6,90.7 L543.7,90.7 M563.8,60.3 L563.9,90.7 M583.8,60.2 L584.0,90.6 M563.9,90.7 L574.0,90.7 L584.0,90.6 M584.0,90.6 L594.1,90.5 L604.2,90.4 M604.2,90.4 L614.3,90.3 L624.4,90.2 M624.4,90.2 L634.4,90.1 L644.5,89.9 M664.1,59.1 L664.7,89.6 M644.5,89.9 L654.6,89.8 L664.7,89.6 M684.2,58.7 L684.8,89.2 M664.7,89.6 L674.8,89.4 L684.8,89.2 M704.2,58.2 L705.0,88.7 M684.8,89.2 L694.9,88.9 L705.0,88.7 M724.3,57.7 L725.2,88.1 M705.0,88.7 L715.1,88.4 L725.2,88.1 M744.3,57.1 L745.3,87.5 M725.2,88.1 L735.2,87.8 L745.3,87.5 M764.4,56.4 L765.5,86.8 M745.3,87.5 L755.4,87.2 L765.5,86.8 M784.5,55.7 L785.6,86.1 M765.5,86.8 L775.5,86.5 L785.6,86.1 M804.5,54.9 L805.8,85.3 M785.6,86.1 L795.7,85.7 L805.8,85.3 M824.5,54.0 L825.9,84.4 M805.8,85.3 L815.8,84.9 L825.9,84.4 M825.9,84.4 L836.0,84.0 L846.1,83.5 M846.1,83.5 L856.1,83.0 L866.2,82.5 M866.2,82.5 L876.3,82.0 L886.3,81.4 M886.3,81.4 L896.4,80.9 L906.5,80.3 M924.7,48.7 L926.6,79.1 M906.5,80.3 L916.5,79.7 L926.6,79.1 M944.8,47.5 L946.7,77.9 M926.6,79.1 L936.7,78.5 L946.7,77.9 M964.8,46.2 L966.8,76.5 M946.7,77.9 L956.8,77.2 L966.8,76.5 M992.8,44.2 L995.0,74.6 M966.8,76.5 L980.9,75.6 L995.0,74.6 M40.1,70.6 L37.7,101.0 M-2.7,97.6 L17.5,99.3 L37.7,101.0 M-0.0,67.3 L-2.7,97.6 M60.2,72.2 L57.9,102.5 M37.7,101.0 L47.8,101.8 L57.9,102.5 M80.3,73.7 L78.1,104.1 M57.9,102.5 L68.0,103.3 L78.1,104.1 M100.5,75.2 L98.3,105.5 M78.1,104.1 L88.2,104.8 L98.3,105.5 M120.6,76.5 L118.5,106.9 M98.3,105.5 L108.4,106.2 L118.5,106.9 M140.7,77.9 L138.8,108.2 M118.5,106.9 L128.6,107.6 L138.8,108.2 M160.8,79.1 L159.0,109.5 M138.8,108.2 L148.9,108.9 L159.0,109.5 M181.0,80.3 L179.2,110.7 M159.0,109.5 L169.1,110.1 L179.2,110.7 M201.1,81.4 L199.4,111.8 M179.2,110.7 L189.3,111.3 L199.4,111.8 M221.2,82.5 L219.7,112.9 M199.4,111.8 L209.6,112.4 L219.7,112.9 M241.4,83.5 L239.9,113.9 M219.7,112.9 L229.8,113.4 L239.9,113.9 M261.5,84.4 L260.1,114.8 M239.9,113.9 L250.0,114.4 L260.1,114.8 M281.6,85.3 L280.4,115.7 M260.1,114.8 L270.3,115.3 L280.4,115.7 M301.8,86.1 L300.6,116.5 M280.4,115.7 L290.5,116.1 L300.6,116.5 M321.9,86.8 L320.9,117.2 M300.6,116.5 L310.8,116.9 L320.9,117.2 M342.1,87.5 L341.1,117.9 M320.9,117.2 L331.0,117.6 L341.1,117.9 M362.3,88.1 L361.4,118.5 M341.1,117.9 L351.3,118.2 L361.4,118.5 M382.4,88.7 L381.6,119.1 M361.4,118.5 L371.5,118.8 L381.6,119.1 M402.6,89.2 L401.9,119.6 M422.7,89.6 L422.1,120.0 M401.9,119.6 L412.0,119.8 L422.1,120.0 M442.9,89.9 L442.4,120.4 M422.1,120.0 L432.3,120.2 L442.4,120.4 M463.1,90.2 L462.7,120.6 M462.7,120.6 L472.8,120.8 L482.9,120.9 M482.9,120.9 L493.1,121.0 L503.2,121.0 M523.5,90.7 L523.4,121.1 M503.2,121.0 L513.3,121.1 L523.4,121.1 M543.7,90.7 L543.7,121.2 M523.4,121.1 L533.6,121.2 L543.7,121.2 M563.9,90.7 L564.0,121.1 M543.7,121.2 L553.8,121.2 L564.0,121.1 M584.0,90.6 L584.2,121.0 M604.2,90.4 L604.5,120.9 M584.2,121.0 L594.4,121.0 L604.5,120.9 M624.4,90.2 L624.7,120.6 M604.5,120.9 L614.6,120.8 L624.7,120.6 M644.5,89.9 L645.0,120.4 M624.7,120.6 L634.9,120.5 L645.0,120.4 M664.7,89.6 L665.3,120.0 M645.0,120.4 L655.1,120.2 L665.3,120.0 M684.8,89.2 L685.5,119.6 M665.3,120.0 L675.4,119.8 L685.5,119.6 M705.0,88.7 L705.8,119.1 M685.5,119.6 L695.7,119.3 L705.8,119.1 M725.2,88.1 L726.0,118.5 M705.8,119.1 L715.9,118.8 L726.0,118.5 M745.3,87.5 L746.3,117.9 M726.0,118.5 L736.2,118.2 L746.3,117.9 M765.5,86.8 L766.5,117.2 M746.3,117.9 L756.4,117.6 L766.5,117.2 M785.6,86.1 L786.8,116.5 M766.5,117.2 L776.7,116.9 L786.8,116.5 M805.8,85.3 L807.0,115.7 M786.8,116.5 L796.9,116.1 L807.0,115.7 M825.9,84.4 L827.3,114.8 M807.0,115.7 L817.1,115.3 L827.3,114.8 M827.3,114.8 L837.4,114.4 L847.5,113.9 M866.2,82.5 L867.7,112.9 M847.5,113.9 L857.6,113.4 L867.7,112.9 M867.7,112.9 L877.9,112.4 L888.0,111.8 M906.5,80.3 L908.2,110.7 M888.0,111.8 L898.1,111.3 L908.2,110.7 M926.6,79.1 L928.4,109.5 M908.2,110.7 L918.3,110.1 L928.4,109.5 M946.7,77.9 L948.7,108.2 M928.4,109.5 L938.5,108.9 L948.7,108.2 M966.8,76.5 L968.9,106.9 M948.7,108.2 L958.8,107.6 L968.9,106.9 M995.0,74.6 L997.2,104.9 M968.9,106.9 L983.0,105.9 L997.2,104.9 M37.7,101.0 L35.3,131.3 M-5.3,127.9 L15.0,129.6 L35.3,131.3 M-2.7,97.6 L-5.3,127.9 M57.9,102.5 L55.6,132.9 M35.3,131.3 L45.4,132.1 L55.6,132.9 M78.1,104.1 L75.9,134.4 M55.6,132.9 L65.7,133.7 L75.9,134.4 M98.3,105.5 L96.2,135.9 M75.9,134.4 L86.0,135.1 L96.2,135.9 M118.5,106.9 L116.5,137.3 M96.2,135.9 L106.3,136.6 L116.5,137.3 M138.8,108.2 L136.8,138.6 M116.5,137.3 L126.7,137.9 L136.8,138.6 M159.0,109.5 L157.1,139.9 M136.8,138.6 L147.0,139.2 L157.1,139.9 M179.2,110.7 L177.5,141.1 M157.1,139.9 L167.3,140.5 L177.5,141.1 M199.4,111.8 L197.8,142.2 M177.5,141.1 L187.6,141.6 L197.8,142.2 M219.7,112.9 L218.1,143.3 M197.8,142.2 L207.9,142.7 L218.1,143.3 M239.9,113.9 L238.4,144.3 M218.1,143.3 L228.3,143.8 L238.4,144.3 M260.1,114.8 L258.8,145.2 M238.4,144.3 L248.6,144.8 L258.8,145.2 M280.4,115.7 L279.1,146.1 M258.8,145.2 L269.0,145.7 L279.1,146.1 M300.6,116.5 L299.5,146.9 M279.1,146.1 L289.3,146.5 L299.5,146.9 M299.5,146.9 L309.6,147.3 L319.8,147.7 M319.8,147.7 L330.0,148.0 L340.2,148.3 M340.2,148.3 L350.3,148.7 L360.5,149.0 M360.5,149.0 L370.7,149.2 L380.9,149.5 M380.9,149.5 L391.0,149.8 L401.2,150.0 M422.1,120.0 L421.6,150.4 M401.2,150.0 L411.4,150.2 L421.6,150.4 M421.6,150.4 L431.7,150.6 L441.9,150.8 M462.7,120.6 L462.3,151.1 M441.9,150.8 L452.1,150.9 L462.3,151.1 M482.9,120.9 L482.6,151.3 M462.3,151.1 L472.5,151.2 L482.6,151.3 M503.2,121.0 L503.0,151.5 M482.6,151.3 L492.8,151.4 L503.0,151.5 M523.4,121.1 L523.3,151.6 M503.0,151.5 L513.2,151.5 L523.3,151.6 M543.7,121.2 L543.7,151.6 M523.3,151.6 L533.5,151.6 L543.7,151.6 M564.0,121.1 L564.1,151.6 M543.7,151.6 L553.9,151.6 L564.1,151.6 M584.2,121.0 L584.4,151.5 M564.1,151.6 L574.2,151.5 L584.4,151.5 M604.5,120.9 L604.8,151.3 M584.4,151.5 L594.6,151.4 L604.8,151.3 M624.7,120.6 L625.1,151.1 M604.8,151.3 L615.0,151.2 L625.1,151.1 M645.0,120.4 L645.5,150.8 M625.1,151.1 L635.3,150.9 L645.5,150.8 M665.3,120.0 L665.8,150.4 M645.5,150.8 L655.7,150.6 L665.8,150.4 M665.8,150.4 L676.0,150.2 L686.2,150.0 M705.8,119.1 L706.6,149.5 M686.2,150.0 L696.4,149.8 L706.6,149.5 M706.6,149.5 L716.7,149.2 L726.9,149.0 M746.3,117.9 L747.3,148.3 M726.9,149.0 L737.1,148.7 L747.3,148.3 M766.5,117.2 L767.6,147.7 M747.3,148.3 L757.4,148.0 L767.6,147.7 M786.8,116.5 L787.9,146.9 M767.6,147.7 L777.8,147.3 L787.9,146.9 M807.0,115.7 L808.3,146.1 M787.9,146.9 L798.1,146.5 L808.3,146.1 M827.3,114.8 L828.6,145.2 M808.3,146.1 L818.5,145.7 L828.6,145.2 M847.5,113.9 L849.0,144.3 M828.6,145.2 L838.8,144.8 L849.0,144.3 M867.7,112.9 L869.3,143.3 M849.0,144.3 L859.1,143.8 L869.3,143.3 M888.0,111.8 L889.6,142.2 M869.3,143.3 L879.5,142.7 L889.6,142.2 M908.2,110.7 L910.0,141.1 M889.6,142.2 L899.8,141.6 L910.0,141.1 M928.4,109.5 L930.3,139.9 M910.0,141.1 L920.1,140.5 L930.3,139.9 M948.7,108.2 L950.6,138.6 M930.3,139.9 L940.4,139.2 L950.6,138.6 M968.9,106.9 L970.9,137.3 M950.6,138.6 L960.8,137.9 L970.9,137.3 M997.2,104.9 L999.3,135.3 M970.9,137.3 L985.1,136.3 L999.3,135.3 M35.3,131.3 L32.9,161.6 M-7.9,158.2 L12.5,160.0 L32.9,161.6 M-5.3,127.9 L-7.9,158.2 M55.6,132.9 L53.3,163.2 M32.9,161.6 L43.1,162.4 L53.3,163.2 M75.9,134.4 L73.7,164.8 M53.3,163.2 L63.5,164.0 L73.7,164.8 M96.2,135.9 L94.1,166.2 M73.7,164.8 L83.9,165.5 L94.1,166.2 M116.5,137.3 L114.5,167.6 M94.1,166.2 L104.3,166.9 L114.5,167.6 M136.8,138.6 L134.9,169.0 M114.5,167.6 L124.7,168.3 L134.9,169.0 M157.1,139.9 L155.3,170.2 M134.9,169.0 L145.1,169.6 L155.3,170.2 M177.5,141.1 L175.7,171.4 M155.3,170.2 L165.5,170.8 L175.7,171.4 M197.8,142.2 L196.1,172.6 M175.7,171.4 L185.9,172.0 L196.1,172.6 M218.1,143.3 L216.6,173.7 M196.1,172.6 L206.3,173.1 L216.6,173.7 M238.4,144.3 L237.0,174.7 M216.6,173.7 L226.8,174.2 L237.0,174.7 M258.8,145.2 L257.4,175.6 M237.0,174.7 L247.2,175.1 L257.4,175.6 M279.1,146.1 L277.9,176.5 M257.4,175.6 L267.6,176.1 L277.9,176.5 M299.5,146.9 L298.3,177.3 M277.9,176.5 L288.1,176.9 L298.3,177.3 M319.8,147.7 L318.7,178.1 M298.3,177.3 L308.5,177.7 L318.7,178.1 M340.2,148.3 L339.2,178.7 M318.7,178.1 L329.0,178.4 L339.2,178.7 M360.5,149.0 L359.6,179.4 M380.9,149.5 L380.1,179.9 M359.6,179.4 L369.9,179.7 L380.1,179.9 M380.1,179.9 L390.3,180.2 L400.5,180.4 M421.6,150.4 L421.0,180.8 M400.5,180.4 L410.8,180.6 L421.0,180.8 M441.9,150.8 L441.4,181.2 M421.0,180.8 L431.2,181.0 L441.4,181.2 M462.3,151.1 L461.9,181.5 M441.4,181.2 L451.7,181.4 L461.9,181.5 M482.6,151.3 L482.3,181.7 M461.9,181.5 L472.1,181.6 L482.3,181.7 M503.0,151.5 L502.8,181.9 M482.3,181.7 L492.6,181.8 L502.8,181.9 M523.3,151.6 L523.3,182.0 M502.8,181.9 L513.0,181.9 L523.3,182.0 M543.7,151.6 L543.7,182.0 M523.3,182.0 L533.5,182.0 L543.7,182.0 M564.1,151.6 L564.2,182.0 M564.2,182.0 L574.4,181.9 L584.6,181.9 M604.8,151.3 L605.1,181.7 M584.6,181.9 L594.8,181.8 L605.1,181.7 M625.1,151.1 L625.5,181.5 M605.1,181.7 L615.3,181.6 L625.5,181.5 M645.5,150.8 L646.0,181.2 M625.5,181.5 L635.8,181.4 L646.0,181.2 M665.8,150.4 L666.4,180.8 M646.0,181.2 L656.2,181.0 L666.4,180.8 M686.2,150.0 L686.9,180.4 M666.4,180.8 L676.7,180.6 L686.9,180.4 M706.6,149.5 L707.3,179.9 M686.9,180.4 L697.1,180.2 L707.3,179.9 M747.3,148.3 L748.2,178.7 M767.6,147.7 L768.7,178.1 M748.2,178.7 L758.4,178.4 L768.7,178.1 M787.9,146.9 L789.1,177.3 M768.7,178.1 L778.9,177.7 L789.1,177.3 M808.3,146.1 L809.6,176.5 M789.1,177.3 L799.3,176.9 L809.6,176.5 M828.6,145.2 L830.0,175.6 M809.6,176.5 L819.8,176.1 L830.0,175.6 M869.3,143.3 L870.9,173.7 M889.6,142.2 L891.3,172.6 M870.9,173.7 L881.1,173.1 L891.3,172.6 M891.3,172.6 L901.5,172.0 L911.7,171.4 M930.3,139.9 L932.1,170.2 M911.7,171.4 L921.9,170.8 L932.1,170.2 M950.6,138.6 L952.5,169.0 M932.1,170.2 L942.3,169.6 L952.5,169.0 M970.9,137.3 L972.9,167.6 M952.5,169.0 L962.7,168.3 L972.9,167.6 M999.3,135.3 L1001.5,165.6 M972.9,167.6 L987.2,166.6 L1001.5,165.6 M-10.5,188.5 L10.0,190.3 L30.4,191.9 M-7.9,158.2 L-10.5,188.5 M53.3,163.2 L50.9,193.6 M30.4,191.9 L40.7,192.8 L50.9,193.6 M73.7,164.8 L71.4,195.1 M50.9,193.6 L61.2,194.3 L71.4,195.1 M94.1,166.2 L91.9,196.6 M71.4,195.1 L81.7,195.8 L91.9,196.6 M114.5,167.6 L112.4,198.0 M91.9,196.6 L102.2,197.3 L112.4,198.0 M134.9,169.0 L132.9,199.3 M112.4,198.0 L122.7,198.7 L132.9,199.3 M155.3,170.2 L153.4,200.6 M132.9,199.3 L143.2,200.0 L153.4,200.6 M175.7,171.4 L174.0,201.8 M153.4,200.6 L163.7,201.2 L174.0,201.8 M196.1,172.6 L194.5,203.0 M174.0,201.8 L184.2,202.4 L194.5,203.0 M216.6,173.7 L215.0,204.0 M194.5,203.0 L204.7,203.5 L215.0,204.0 M237.0,174.7 L235.5,205.1 M215.0,204.0 L225.3,204.6 L235.5,205.1 M257.4,175.6 L256.1,206.0 M235.5,205.1 L245.8,205.5 L256.1,206.0 M277.9,176.5 L276.6,206.9 M256.1,206.0 L266.3,206.5 L276.6,206.9 M298.3,177.3 L297.1,207.7 M276.6,206.9 L286.9,207.3 L297.1,207.7 M318.7,178.1 L317.7,208.5 M297.1,207.7 L307.4,208.1 L317.7,208.5 M339.2,178.7 L338.2,209.2 M317.7,208.5 L327.9,208.8 L338.2,209.2 M338.2,209.2 L348.5,209.5 L358.8,209.8 M380.1,179.9 L379.3,210.3 M358.8,209.8 L369.0,210.1 L379.3,210.3 M400.5,180.4 L399.9,210.8 M379.3,210.3 L389.6,210.6 L399.9,210.8 M421.0,180.8 L420.4,211.3 M399.9,210.8 L410.1,211.0 L420.4,211.3 M441.4,181.2 L440.9,211.6 M420.4,211.3 L430.7,211.4 L440.9,211.6 M461.9,181.5 L461.5,211.9 M440.9,211.6 L451.2,211.8 L461.5,211.9 M482.3,181.7 L482.0,212.1 M461.5,211.9 L471.8,212.0 L482.0,212.1 M502.8,181.9 L502.6,212.3 M482.0,212.1 L492.3,212.2 L502.6,212.3 M523.3,182.0 L523.2,212.4 M502.6,212.3 L512.9,212.4 L523.2,212.4 M543.7,182.0 L543.7,212.4 M523.2,212.4 L533.4,212.4 L543.7,212.4 M543.7,212.4 L554.0,212.4 L564.3,212.4 M584.6,181.9 L584.8,212.3 M564.3,212.4 L574.5,212.4 L584.8,212.3 M605.1,181.7 L605.4,212.1 M584.8,212.3 L595.1,212.2 L605.4,212.1 M625.5,181.5 L625.9,211.9 M605.4,212.1 L615.6,212.0 L625.9,211.9 M646.0,181.2 L646.5,211.6 M625.9,211.9 L636.2,211.8 L646.5,211.6 M666.4,180.8 L667.0,211.3 M646.5,211.6 L656.7,211.4 L667.0,211.3 M686.9,180.4 L687.6,210.8 M667.0,211.3 L677.3,211.0 L687.6,210.8 M687.6,210.8 L697.8,210.6 L708.1,210.3 M748.2,178.7 L749.2,209.2 M768.7,178.1 L769.7,208.5 M749.2,209.2 L759.5,208.8 L769.7,208.5 M790.3,207.7 L800.5,207.3 L810.8,206.9 M810.8,206.9 L821.1,206.5 L831.3,206.0 M851.9,205.1 L862.1,204.6 L872.4,204.0 M891.3,172.6 L892.9,203.0 M872.4,204.0 L882.7,203.5 L892.9,203.0 M911.7,171.4 L913.4,201.8 M892.9,203.0 L903.2,202.4 L913.4,201.8 M932.1,170.2 L934.0,200.6 M913.4,201.8 L923.7,201.2 L934.0,200.6 M952.5,169.0 L954.5,199.3 M934.0,200.6 L944.2,200.0 L954.5,199.3 M972.9,167.6 L975.0,198.0 M954.5,199.3 L964.7,198.7 L975.0,198.0 M1001.5,165.6 L1003.7,196.0 M975.0,198.0 L989.3,197.0 L1003.7,196.0 M-13.1,218.8 L7.4,220.6 L28.0,222.3 M-10.5,188.5 L-13.1,218.8 M50.9,193.6 L48.6,223.9 M28.0,222.3 L38.3,223.1 L48.6,223.9 M71.4,195.1 L69.2,225.4 M48.6,223.9 L58.9,224.7 L69.2,225.4 M91.9,196.6 L89.8,226.9 M69.2,225.4 L79.5,226.2 L89.8,226.9 M112.4,198.0 L110.4,228.3 M89.8,226.9 L100.1,227.6 L110.4,228.3 M132.9,199.3 L131.0,229.7 M110.4,228.3 L120.7,229.0 L131.0,229.7 M153.4,200.6 L151.6,231.0 M131.0,229.7 L141.3,230.3 L151.6,231.0 M174.0,201.8 L172.2,232.2 M151.6,231.0 L161.9,231.6 L172.2,232.2 M194.5,203.0 L192.8,233.3 M172.2,232.2 L182.5,232.8 L192.8,233.3 M215.0,204.0 L213.5,234.4 M192.8,233.3 L203.1,233.9 L213.5,234.4 M235.5,205.1 L234.1,235.4 M213.5,234.4 L223.8,234.9 L234.1,235.4 M256.1,206.0 L254.7,236.4 M234.1,235.4 L244.4,235.9 L254.7,236.4 M276.6,206.9 L275.3,237.3 M254.7,236.4 L265.0,236.8 L275.3,237.3 M297.1,207.7 L296.0,238.1 M275.3,237.3 L285.7,237.7 L296.0,238.1 M317.7,208.5 L316.6,238.9 M296.0,238.1 L306.3,238.5 L316.6,238.9 M338.2,209.2 L337.2,239.6 M316.6,238.9 L326.9,239.2 L337.2,239.6 M358.8,209.8 L357.9,240.2 M337.2,239.6 L347.6,239.9 L357.9,240.2 M379.3,210.3 L378.5,240.7 M357.9,240.2 L368.2,240.5 L378.5,240.7 M399.9,210.8 L399.2,241.2 M378.5,240.7 L388.8,241.0 L399.2,241.2 M420.4,211.3 L419.8,241.7 M399.2,241.2 L409.5,241.5 L419.8,241.7 M440.9,211.6 L440.5,242.0 M419.8,241.7 L430.1,241.9 L440.5,242.0 M461.5,211.9 L461.1,242.3 M440.5,242.0 L450.8,242.2 L461.1,242.3 M482.0,212.1 L481.8,242.6 M461.1,242.3 L471.4,242.5 L481.8,242.6 M502.6,212.3 L502.4,242.7 M481.8,242.6 L492.1,242.6 L502.4,242.7 M502.4,242.7 L512.7,242.8 L523.1,242.8 M543.7,212.4 L543.7,242.9 M523.1,242.8 L533.4,242.8 L543.7,242.9 M564.3,212.4 L564.4,242.8 M543.7,242.9 L554.0,242.8 L564.4,242.8 M584.8,212.3 L585.0,242.7 M564.4,242.8 L574.7,242.8 L585.0,242.7 M605.4,212.1 L605.7,242.6 M585.0,242.7 L595.3,242.6 L605.7,242.6 M626.3,242.3 L636.6,242.2 L647.0,242.0 M667.0,211.3 L667.6,241.7 M647.0,242.0 L657.3,241.9 L667.6,241.7 M687.6,210.8 L688.2,241.2 M708.1,210.3 L708.9,240.7 M688.2,241.2 L698.6,241.0 L708.9,240.7 M749.2,209.2 L750.2,239.6 M769.7,208.5 L770.8,238.9 M750.2,239.6 L760.5,239.2 L770.8,238.9 M790.3,207.7 L791.4,238.1 M810.8,206.9 L812.1,237.3 M791.4,238.1 L801.8,237.7 L812.1,237.3 M831.3,206.0 L832.7,236.4 M812.1,237.3 L822.4,236.8 L832.7,236.4 M851.9,205.1 L853.3,235.4 M872.4,204.0 L874.0,234.4 M853.3,235.4 L863.6,234.9 L874.0,234.4 M913.4,201.8 L915.2,232.2 M934.0,200.6 L935.8,231.0 M915.2,232.2 L925.5,231.6 L935.8,231.0 M954.5,199.3 L956.4,229.7 M935.8,231.0 L946.1,230.3 L956.4,229.7 M975.0,198.0 L977.0,228.3 M956.4,229.7 L966.7,229.0 L977.0,228.3 M1003.7,196.0 L1005.9,226.3 M977.0,228.3 L991.4,227.3 L1005.9,226.3 M28.0,222.3 L25.6,252.6 M25.6,252.6 L35.9,253.4 L46.3,254.2 M69.2,225.4 L67.0,255.8 M46.3,254.2 L56.6,255.0 L67.0,255.8 M89.8,226.9 L87.7,257.3 M67.0,255.8 L77.3,256.5 L87.7,257.3 M110.4,228.3 L108.4,258.7 M87.7,257.3 L98.0,258.0 L108.4,258.7 M131.0,229.7 L129.1,260.0 M108.4,258.7 L118.7,259.4 L129.1,260.0 M151.6,231.0 L149.8,261.3 M129.1,260.0 L139.4,260.7 L149.8,261.3 M172.2,232.2 L170.5,262.6 M149.8,261.3 L160.1,261.9 L170.5,262.6 M192.8,233.3 L191.2,263.7 M170.5,262.6 L180.8,263.1 L191.2,263.7 M213.5,234.4 L211.9,264.8 M191.2,263.7 L201.5,264.3 L211.9,264.8 M234.1,235.4 L232.6,265.8 M211.9,264.8 L222.3,265.3 L232.6,265.8 M254.7,236.4 L253.3,266.8 M232.6,265.8 L243.0,266.3 L253.3,266.8 M275.3,237.3 L274.1,267.7 M253.3,266.8 L263.7,267.2 L274.1,267.7 M296.0,238.1 L294.8,268.5 M274.1,267.7 L284.4,268.1 L294.8,268.5 M316.6,238.9 L315.5,269.3 M294.8,268.5 L305.2,268.9 L315.5,269.3 M337.2,239.6 L336.3,270.0 M315.5,269.3 L325.9,269.6 L336.3,270.0 M357.9,240.2 L357.0,270.6 M336.3,270.0 L346.6,270.3 L357.0,270.6 M378.5,240.7 L377.8,271.2 M357.0,270.6 L367.4,270.9 L377.8,271.2 M399.2,241.2 L398.5,271.7 M377.8,271.2 L388.1,271.4 L398.5,271.7 M419.8,241.7 L419.2,272.1 M398.5,271.7 L408.9,271.9 L419.2,272.1 M440.5,242.0 L440.0,272.4 M419.2,272.1 L429.6,272.3 L440.0,272.4 M461.1,242.3 L460.7,272.7 M440.0,272.4 L450.3,272.6 L460.7,272.7 M481.8,242.6 L481.5,273.0 M460.7,272.7 L471.1,272.9 L481.5,273.0 M502.4,242.7 L502.2,273.1 M481.5,273.0 L491.8,273.1 L502.2,273.1 M523.1,242.8 L523.0,273.2 M502.2,273.1 L512.6,273.2 L523.0,273.2 M543.7,242.9 L543.7,273.3 M523.0,273.2 L533.3,273.3 L543.7,273.3 M564.4,242.8 L564.5,273.2 M543.7,273.3 L554.1,273.3 L564.5,273.2 M585.0,242.7 L585.2,273.1 M564.5,273.2 L574.8,273.2 L585.2,273.1 M605.7,242.6 L605.9,273.0 M585.2,273.1 L595.6,273.1 L605.9,273.0 M626.3,242.3 L626.7,272.7 M605.9,273.0 L616.3,272.9 L626.7,272.7 M647.0,242.0 L647.4,272.4 M626.7,272.7 L637.1,272.6 L647.4,272.4 M667.6,241.7 L668.2,272.1 M647.4,272.4 L657.8,272.3 L668.2,272.1 M668.2,272.1 L678.6,271.9 L688.9,271.7 M874.0,234.4 L875.5,264.8 M875.5,264.8 L885.9,264.3 L896.2,263.7 M915.2,232.2 L916.9,262.6 M896.2,263.7 L906.6,263.1 L916.9,262.6 M935.8,231.0 L937.7,261.3 M916.9,262.6 L927.3,261.9 L937.7,261.3 M956.4,229.7 L958.4,260.0 M937.7,261.3 L948.0,260.7 L958.4,260.0 M977.0,228.3 L979.1,258.7 M958.4,260.0 L968.7,259.4 L979.1,258.7 M1005.9,226.3 L1008.0,256.7 M979.1,258.7 L993.5,257.7 L1008.0,256.7 M67.0,255.8 L64.7,286.1 M64.7,286.1 L75.1,286.9 L85.5,287.6 M108.4,258.7 L106.3,289.0 M85.5,287.6 L95.9,288.3 L106.3,289.0 M129.1,260.0 L127.1,290.4 M106.3,289.0 L116.7,289.7 L127.1,290.4 M149.8,261.3 L147.9,291.7 M127.1,290.4 L137.5,291.1 L147.9,291.7 M170.5,262.6 L168.7,292.9 M147.9,291.7 L158.3,292.3 L168.7,292.9 M191.2,263.7 L189.5,294.1 M168.7,292.9 L179.1,293.5 L189.5,294.1 M211.9,264.8 L210.4,295.2 M189.5,294.1 L199.9,294.6 L210.4,295.2 M232.6,265.8 L231.2,296.2 M210.4,295.2 L220.8,295.7 L231.2,296.2 M253.3,266.8 L252.0,297.2 M231.2,296.2 L241.6,296.7 L252.0,297.2 M274.1,267.7 L272.8,298.1 M252.0,297.2 L262.4,297.6 L272.8,298.1 M294.8,268.5 L293.6,298.9 M272.8,298.1 L283.2,298.5 L293.6,298.9 M315.5,269.3 L314.5,299.7 M293.6,298.9 L304.1,299.3 L314.5,299.7 M336.3,270.0 L335.3,300.4 M314.5,299.7 L324.9,300.0 L335.3,300.4 M357.0,270.6 L356.1,301.0 M335.3,300.4 L345.7,300.7 L356.1,301.0 M377.8,271.2 L377.0,301.6 M356.1,301.0 L366.6,301.3 L377.0,301.6 M398.5,271.7 L397.8,302.1 M377.0,301.6 L387.4,301.8 L397.8,302.1 M419.2,272.1 L418.7,302.5 M397.8,302.1 L408.2,302.3 L418.7,302.5 M440.0,272.4 L439.5,302.9 M418.7,302.5 L429.1,302.7 L439.5,302.9 M460.7,272.7 L460.3,303.2 M439.5,302.9 L449.9,303.0 L460.3,303.2 M481.5,273.0 L481.2,303.4 M460.3,303.2 L470.8,303.3 L481.2,303.4 M502.2,273.1 L502.0,303.6 M481.2,303.4 L491.6,303.5 L502.0,303.6 M523.0,273.2 L522.9,303.7 M502.0,303.6 L512.4,303.6 L522.9,303.7 M543.7,273.3 L543.7,303.7 M522.9,303.7 L533.3,303.7 L543.7,303.7 M564.5,273.2 L564.6,303.7 M543.7,303.7 L554.1,303.7 L564.6,303.7 M585.2,273.1 L585.4,303.6 M564.6,303.7 L575.0,303.6 L585.4,303.6 M605.9,273.0 L606.2,303.4 M626.7,272.7 L627.1,303.2 M606.2,303.4 L616.7,303.3 L627.1,303.2 M647.4,272.4 L647.9,302.9 M627.1,303.2 L637.5,303.0 L647.9,302.9 M668.2,272.1 L668.8,302.5 M647.9,302.9 L658.3,302.7 L668.8,302.5 M688.9,271.7 L689.6,302.1 M668.8,302.5 L679.2,302.3 L689.6,302.1 M710.4,301.6 L720.9,301.3 L731.3,301.0 M731.3,301.0 L741.7,300.7 L752.1,300.4 M875.5,264.8 L877.1,295.2 M856.2,296.2 L866.7,295.7 L877.1,295.2 M896.2,263.7 L897.9,294.1 M877.1,295.2 L887.5,294.6 L897.9,294.1 M916.9,262.6 L918.7,292.9 M897.9,294.1 L908.3,293.5 L918.7,292.9 M937.7,261.3 L939.5,291.7 M918.7,292.9 L929.1,292.3 L939.5,291.7 M958.4,260.0 L960.3,290.4 M939.5,291.7 L949.9,291.1 L960.3,290.4 M979.1,258.7 L981.1,289.0 M1008.0,256.7 L1010.2,287.0 M981.1,289.0 L995.7,288.0 L1010.2,287.0 M85.5,287.6 L83.4,317.9 M83.4,317.9 L93.8,318.7 L104.3,319.4 M127.1,290.4 L125.2,320.8 M104.3,319.4 L114.7,320.1 L125.2,320.8 M147.9,291.7 L146.1,322.1 M125.2,320.8 L135.6,321.4 L146.1,322.1 M168.7,292.9 L167.0,323.3 M146.1,322.1 L156.5,322.7 L167.0,323.3 M189.5,294.1 L187.9,324.5 M167.0,323.3 L177.4,323.9 L187.9,324.5 M210.4,295.2 L208.8,325.6 M187.9,324.5 L198.3,325.0 L208.8,325.6 M231.2,296.2 L229.7,326.6 M208.8,325.6 L219.3,326.1 L229.7,326.6 M252.0,297.2 L250.6,327.6 M229.7,326.6 L240.2,327.1 L250.6,327.6 M272.8,298.1 L271.6,328.5 M250.6,327.6 L261.1,328.0 L271.6,328.5 M293.6,298.9 L292.5,329.3 M271.6,328.5 L282.0,328.9 L292.5,329.3 M314.5,299.7 L313.4,330.1 M292.5,329.3 L302.9,329.7 L313.4,330.1 M335.3,300.4 L334.3,330.8 M313.4,330.1 L323.9,330.4 L334.3,330.8 M356.1,301.0 L355.3,331.4 M334.3,330.8 L344.8,331.1 L355.3,331.4 M377.0,301.6 L376.2,332.0 M355.3,331.4 L365.7,331.7 L376.2,332.0 M397.8,302.1 L397.1,332.5 M376.2,332.0 L386.7,332.2 L397.1,332.5 M418.7,302.5 L418.1,332.9 M397.1,332.5 L407.6,332.7 L418.1,332.9 M439.5,302.9 L439.0,333.3 M418.1,332.9 L428.5,333.1 L439.0,333.3 M460.3,303.2 L459.9,333.6 M439.0,333.3 L449.5,333.4 L459.9,333.6 M481.2,303.4 L480.9,333.8 M459.9,333.6 L470.4,333.7 L480.9,333.8 M502.0,303.6 L501.8,334.0 M480.9,333.8 L491.4,333.9 L501.8,334.0 M522.9,303.7 L522.8,334.1 M501.8,334.0 L512.3,334.0 L522.8,334.1 M543.7,303.7 L543.7,334.1 M522.8,334.1 L533.2,334.1 L543.7,334.1 M564.6,303.7 L564.6,334.1 M543.7,334.1 L554.2,334.1 L564.6,334.1 M585.4,303.6 L585.6,334.0 M564.6,334.1 L575.1,334.0 L585.6,334.0 M606.2,303.4 L606.5,333.8 M585.6,334.0 L596.1,333.9 L606.5,333.8 M627.1,303.2 L627.5,333.6 M606.5,333.8 L617.0,333.7 L627.5,333.6 M627.5,333.6 L637.9,333.4 L648.4,333.3 M710.4,301.6 L711.2,332.0 M731.3,301.0 L732.1,331.4 M711.2,332.0 L721.7,331.7 L732.1,331.4 M752.1,300.4 L753.1,330.8 M732.1,331.4 L742.6,331.1 L753.1,330.8 M753.1,330.8 L763.5,330.4 L774.0,330.1 M774.0,330.1 L784.5,329.7 L794.9,329.3 M794.9,329.3 L805.4,328.9 L815.9,328.5 M815.9,328.5 L826.3,328.0 L836.8,327.6 M856.2,296.2 L857.7,326.6 M836.8,327.6 L847.2,327.1 L857.7,326.6 M877.1,295.2 L878.6,325.6 M857.7,326.6 L868.2,326.1 L878.6,325.6 M897.9,294.1 L899.5,324.5 M878.6,325.6 L889.1,325.0 L899.5,324.5 M918.7,292.9 L920.4,323.3 M899.5,324.5 L910.0,323.9 L920.4,323.3 M939.5,291.7 L941.3,322.1 M920.4,323.3 L930.9,322.7 L941.3,322.1 M960.3,290.4 L962.2,320.8 M941.3,322.1 L951.8,321.4 L962.2,320.8 M962.2,320.8 L972.7,320.1 L983.1,319.4 M1010.2,287.0 L1012.4,317.4 M983.1,319.4 L997.8,318.4 L1012.4,317.4 M104.3,319.4 L102.2,349.7 M102.2,349.7 L112.7,350.4 L123.2,351.1 M146.1,322.1 L144.2,352.4 M123.2,351.1 L133.7,351.8 L144.2,352.4 M167.0,323.3 L165.2,353.7 M144.2,352.4 L154.7,353.1 L165.2,353.7 M187.9,324.5 L186.2,354.8 M165.2,353.7 L175.7,354.3 L186.2,354.8 M208.8,325.6 L207.2,355.9 M186.2,354.8 L196.7,355.4 L207.2,355.9 M229.7,326.6 L228.3,357.0 M207.2,355.9 L217.8,356.5 L228.3,357.0 M250.6,327.6 L249.3,358.0 M228.3,357.0 L238.8,357.5 L249.3,358.0 M271.6,328.5 L270.3,358.9 M249.3,358.0 L259.8,358.4 L270.3,358.9 M292.5,329.3 L291.3,359.7 M270.3,358.9 L280.8,359.3 L291.3,359.7 M313.4,330.1 L312.3,360.5 M291.3,359.7 L301.8,360.1 L312.3,360.5 M334.3,330.8 L333.4,361.2 M312.3,360.5 L322.8,360.8 L333.4,361.2 M355.3,331.4 L354.4,361.8 M333.4,361.2 L343.9,361.5 L354.4,361.8 M376.2,332.0 L375.4,362.4 M354.4,361.8 L364.9,362.1 L375.4,362.4 M397.1,332.5 L396.5,362.9 M375.4,362.4 L385.9,362.7 L396.5,362.9 M418.1,332.9 L417.5,363.3 M396.5,362.9 L407.0,363.1 L417.5,363.3 M439.0,333.3 L438.5,363.7 M417.5,363.3 L428.0,363.5 L438.5,363.7 M459.9,333.6 L459.6,364.0 M438.5,363.7 L449.0,363.9 L459.6,364.0 M480.9,333.8 L480.6,364.2 M459.6,364.0 L470.1,364.1 L480.6,364.2 M501.8,334.0 L501.6,364.4 M480.6,364.2 L491.1,364.3 L501.6,364.4 M522.8,334.1 L522.7,364.5 M501.6,364.4 L512.1,364.5 L522.7,364.5 M543.7,334.1 L543.7,364.5 M522.7,364.5 L533.2,364.5 L543.7,364.5 M564.6,334.1 L564.7,364.5 M543.7,364.5 L554.2,364.5 L564.7,364.5 M585.6,334.0 L585.8,364.4 M564.7,364.5 L575.3,364.5 L585.8,364.4 M606.5,333.8 L606.8,364.2 M585.8,364.4 L596.3,364.3 L606.8,364.2 M627.5,333.6 L627.9,364.0 M606.8,364.2 L617.3,364.1 L627.9,364.0 M648.4,333.3 L648.9,363.7 M627.9,364.0 L638.4,363.9 L648.9,363.7 M669.9,363.3 L680.4,363.1 L691.0,362.9 M711.2,332.0 L712.0,362.4 M691.0,362.9 L701.5,362.7 L712.0,362.4 M732.1,331.4 L733.0,361.8 M712.0,362.4 L722.5,362.1 L733.0,361.8 M753.1,330.8 L754.1,361.2 M733.0,361.8 L743.5,361.5 L754.1,361.2 M774.0,330.1 L775.1,360.5 M754.1,361.2 L764.6,360.8 L775.1,360.5 M794.9,329.3 L796.1,359.7 M775.1,360.5 L785.6,360.1 L796.1,359.7 M815.9,328.5 L817.1,358.9 M796.1,359.7 L806.6,359.3 L817.1,358.9 M836.8,327.6 L838.1,358.0 M817.1,358.9 L827.6,358.4 L838.1,358.0 M857.7,326.6 L859.2,357.0 M838.1,358.0 L848.6,357.5 L859.2,357.0 M878.6,325.6 L880.2,355.9 M859.2,357.0 L869.7,356.5 L880.2,355.9 M899.5,324.5 L901.2,354.8 M880.2,355.9 L890.7,355.4 L901.2,354.8 M920.4,323.3 L922.2,353.7 M962.2,320.8 L964.2,351.1 M943.2,352.4 L953.7,351.8 L964.2,351.1 M983.1,319.4 L985.2,349.7 M964.2,351.1 L974.7,350.4 L985.2,349.7 M1012.4,317.4 L1014.6,347.7 M985.2,349.7 L999.9,348.7 L1014.6,347.7 M102.2,349.7 L100.2,380.1 M79.1,378.6 L89.7,379.4 L100.2,380.1 M100.2,380.1 L110.7,380.8 L121.3,381.5 M144.2,352.4 L142.4,382.8 M121.3,381.5 L131.8,382.1 L142.4,382.8 M165.2,353.7 L163.5,384.0 M142.4,382.8 L152.9,383.4 L163.5,384.0 M186.2,354.8 L184.6,385.2 M163.5,384.0 L174.0,384.6 L184.6,385.2 M207.2,355.9 L205.7,386.3 M184.6,385.2 L195.1,385.8 L205.7,386.3 M228.3,357.0 L226.8,387.4 M205.7,386.3 L216.2,386.9 L226.8,387.4 M249.3,358.0 L247.9,388.4 M226.8,387.4 L237.4,387.9 L247.9,388.4 M270.3,358.9 L269.0,389.3 M247.9,388.4 L258.5,388.8 L269.0,389.3 M291.3,359.7 L290.1,390.1 M269.0,389.3 L279.6,389.7 L290.1,390.1 M312.3,360.5 L311.3,390.9 M290.1,390.1 L300.7,390.5 L311.3,390.9 M333.4,361.2 L332.4,391.6 M311.3,390.9 L321.8,391.2 L332.4,391.6 M354.4,361.8 L353.5,392.2 M332.4,391.6 L343.0,391.9 L353.5,392.2 M375.4,362.4 L374.6,392.8 M353.5,392.2 L364.1,392.5 L374.6,392.8 M396.5,362.9 L395.8,393.3 M374.6,392.8 L385.2,393.1 L395.8,393.3 M417.5,363.3 L416.9,393.7 M395.8,393.3 L406.3,393.5 L416.9,393.7 M438.5,363.7 L438.0,394.1 M416.9,393.7 L427.5,393.9 L438.0,394.1 M459.6,364.0 L459.2,394.4 M438.0,394.1 L448.6,394.3 L459.2,394.4 M480.6,364.2 L480.3,394.7 M459.2,394.4 L469.7,394.6 L480.3,394.7 M501.6,364.4 L501.4,394.8 M480.3,394.7 L490.9,394.8 L501.4,394.8 M522.7,364.5 L522.6,394.9 M501.4,394.8 L512.0,394.9 L522.6,394.9 M543.7,364.5 L543.7,395.0 M522.6,394.9 L533.1,395.0 L543.7,395.0 M564.7,364.5 L564.8,394.9 M543.7,395.0 L554.3,395.0 L564.8,394.9 M585.8,364.4 L586.0,394.8 M564.8,394.9 L575.4,394.9 L586.0,394.8 M606.8,364.2 L607.1,394.7 M586.0,394.8 L596.5,394.8 L607.1,394.7 M627.9,364.0 L628.2,394.4 M607.1,394.7 L617.7,394.6 L628.2,394.4 M648.9,363.7 L649.4,394.1 M628.2,394.4 L638.8,394.3 L649.4,394.1 M669.9,363.3 L670.5,393.7 M649.4,394.1 L659.9,393.9 L670.5,393.7 M691.0,362.9 L691.6,393.3 M670.5,393.7 L681.1,393.5 L691.6,393.3 M712.0,362.4 L712.8,392.8 M691.6,393.3 L702.2,393.1 L712.8,392.8 M733.0,361.8 L733.9,392.2 M712.8,392.8 L723.3,392.5 L733.9,392.2 M754.1,361.2 L755.0,391.6 M733.9,392.2 L744.5,391.9 L755.0,391.6 M755.0,391.6 L765.6,391.2 L776.1,390.9 M796.1,359.7 L797.3,390.1 M776.1,390.9 L786.7,390.5 L797.3,390.1 M797.3,390.1 L807.8,389.7 L818.4,389.3 M838.1,358.0 L839.5,388.4 M818.4,389.3 L828.9,388.8 L839.5,388.4 M859.2,357.0 L860.6,387.4 M839.5,388.4 L850.1,387.9 L860.6,387.4 M880.2,355.9 L881.7,386.3 M860.6,387.4 L871.2,386.9 L881.7,386.3 M922.2,353.7 L923.9,384.0 M902.8,385.2 L913.4,384.6 L923.9,384.0 M943.2,352.4 L945.0,382.8 M923.9,384.0 L934.5,383.4 L945.0,382.8 M964.2,351.1 L966.1,381.5 M945.0,382.8 L955.6,382.1 L966.1,381.5 M985.2,349.7 L987.2,380.1 M966.1,381.5 L976.7,380.8 L987.2,380.1 M1014.6,347.7 L1016.7,378.0 M987.2,380.1 L1002.0,379.1 L1016.7,378.0 M79.1,378.6 L77.0,409.0 M77.0,409.0 L87.6,409.7 L98.2,410.5 M98.2,410.5 L108.8,411.2 L119.4,411.8 M142.4,382.8 L140.5,413.2 M119.4,411.8 L129.9,412.5 L140.5,413.2 M163.5,384.0 L161.7,414.4 M140.5,413.2 L151.1,413.8 L161.7,414.4 M184.6,385.2 L182.9,415.6 M161.7,414.4 L172.3,415.0 L182.9,415.6 M205.7,386.3 L204.1,416.7 M182.9,415.6 L193.5,416.2 L204.1,416.7 M226.8,387.4 L225.3,417.8 M204.1,416.7 L214.7,417.3 L225.3,417.8 M247.9,388.4 L246.6,418.7 M225.3,417.8 L235.9,418.3 L246.6,418.7 M269.0,389.3 L267.8,419.7 M246.6,418.7 L257.2,419.2 L267.8,419.7 M290.1,390.1 L289.0,420.5 M267.8,419.7 L278.4,420.1 L289.0,420.5 M311.3,390.9 L310.2,421.3 M289.0,420.5 L299.6,420.9 L310.2,421.3 M332.4,391.6 L331.4,422.0 M310.2,421.3 L320.8,421.7 L331.4,422.0 M353.5,392.2 L352.6,422.6 M331.4,422.0 L342.0,422.3 L352.6,422.6 M374.6,392.8 L373.9,423.2 M352.6,422.6 L363.3,422.9 L373.9,423.2 M395.8,393.3 L395.1,423.7 M373.9,423.2 L384.5,423.5 L395.1,423.7 M416.9,393.7 L416.3,424.2 M395.1,423.7 L405.7,424.0 L416.3,424.2 M438.0,394.1 L437.5,424.5 M416.3,424.2 L426.9,424.4 L437.5,424.5 M459.2,394.4 L458.8,424.8 M437.5,424.5 L448.2,424.7 L458.8,424.8 M480.3,394.7 L480.0,425.1 M458.8,424.8 L469.4,425.0 L480.0,425.1 M501.4,394.8 L501.2,425.3 M480.0,425.1 L490.6,425.2 L501.2,425.3 M522.6,394.9 L522.5,425.4 M501.2,425.3 L511.9,425.3 L522.5,425.4 M543.7,395.0 L543.7,425.4 M522.5,425.4 L533.1,425.4 L543.7,425.4 M564.8,394.9 L564.9,425.4 M543.7,425.4 L554.3,425.4 L564.9,425.4 M586.0,394.8 L586.2,425.3 M564.9,425.4 L575.6,425.3 L586.2,425.3 M607.1,394.7 L607.4,425.1 M586.2,425.3 L596.8,425.2 L607.4,425.1 M628.2,394.4 L628.6,424.8 M607.4,425.1 L618.0,425.0 L628.6,424.8 M649.4,394.1 L649.9,424.5 M628.6,424.8 L639.2,424.7 L649.9,424.5 M670.5,393.7 L671.1,424.2 M649.9,424.5 L660.5,424.4 L671.1,424.2 M691.6,393.3 L692.3,423.7 M671.1,424.2 L681.7,424.0 L692.3,423.7 M712.8,392.8 L713.5,423.2 M692.3,423.7 L702.9,423.5 L713.5,423.2 M733.9,392.2 L734.8,422.6 M713.5,423.2 L724.2,422.9 L734.8,422.6 M755.0,391.6 L756.0,422.0 M734.8,422.6 L745.4,422.3 L756.0,422.0 M776.1,390.9 L777.2,421.3 M756.0,422.0 L766.6,421.7 L777.2,421.3 M797.3,390.1 L798.4,420.5 M777.2,421.3 L787.8,420.9 L798.4,420.5 M818.4,389.3 L819.6,419.7 M798.4,420.5 L809.0,420.1 L819.6,419.7 M839.5,388.4 L840.9,418.7 M819.6,419.7 L830.3,419.2 L840.9,418.7 M840.9,418.7 L851.5,418.3 L862.1,417.8 M881.7,386.3 L883.3,416.7 M902.8,385.2 L904.5,415.6 M923.9,384.0 L925.7,414.4 M904.5,415.6 L915.1,415.0 L925.7,414.4 M945.0,382.8 L946.9,413.2 M925.7,414.4 L936.3,413.8 L946.9,413.2 M966.1,381.5 L968.1,411.8 M946.9,413.2 L957.5,412.5 L968.1,411.8 M987.2,380.1 L989.2,410.5 M968.1,411.8 L978.7,411.2 L989.2,410.5 M1016.7,378.0 L1018.9,408.4 M989.2,410.5 L1004.1,409.4 L1018.9,408.4 M77.0,409.0 L74.8,439.4 M74.8,439.4 L85.5,440.1 L96.1,440.8 M140.5,413.2 L138.7,443.5 M161.7,414.4 L160.0,444.8 M138.7,443.5 L149.3,444.2 L160.0,444.8 M182.9,415.6 L181.3,446.0 M160.0,444.8 L170.6,445.4 L181.3,446.0 M204.1,416.7 L202.6,447.1 M181.3,446.0 L191.9,446.6 L202.6,447.1 M225.3,417.8 L223.9,448.2 M202.6,447.1 L213.2,447.6 L223.9,448.2 M246.6,418.7 L245.2,449.1 M223.9,448.2 L234.5,448.7 L245.2,449.1 M267.8,419.7 L266.5,450.1 M245.2,449.1 L255.8,449.6 L266.5,450.1 M289.0,420.5 L287.8,450.9 M266.5,450.1 L277.2,450.5 L287.8,450.9 M310.2,421.3 L309.1,451.7 M287.8,450.9 L298.5,451.3 L309.1,451.7 M331.4,422.0 L330.4,452.4 M309.1,451.7 L319.8,452.1 L330.4,452.4 M352.6,422.6 L351.8,453.1 M330.4,452.4 L341.1,452.7 L351.8,453.1 M373.9,423.2 L373.1,453.6 M351.8,453.1 L362.4,453.4 L373.1,453.6 M395.1,423.7 L394.4,454.2 M373.1,453.6 L383.8,453.9 L394.4,454.2 M416.3,424.2 L415.7,454.6 M394.4,454.2 L405.1,454.4 L415.7,454.6 M437.5,424.5 L437.1,455.0 M415.7,454.6 L426.4,454.8 L437.1,455.0 M458.8,424.8 L458.4,455.3 M437.1,455.0 L447.7,455.1 L458.4,455.3 M480.0,425.1 L479.7,455.5 M458.4,455.3 L469.1,455.4 L479.7,455.5 M501.2,425.3 L501.0,455.7 M479.7,455.5 L490.4,455.6 L501.0,455.7 M522.5,425.4 L522.4,455.8 M501.0,455.7 L511.7,455.7 L522.4,455.8 M543.7,425.4 L543.7,455.8 M522.4,455.8 L533.0,455.8 L543.7,455.8 M564.9,425.4 L565.0,455.8 M543.7,455.8 L554.4,455.8 L565.0,455.8 M586.2,425.3 L586.4,455.7 M565.0,455.8 L575.7,455.7 L586.4,455.7 M607.4,425.1 L607.7,455.5 M586.4,455.7 L597.0,455.6 L607.7,455.5 M628.6,424.8 L629.0,455.3 M607.7,455.5 L618.4,455.4 L629.0,455.3 M649.9,424.5 L650.3,455.0 M629.0,455.3 L639.7,455.1 L650.3,455.0 M671.1,424.2 L671.7,454.6 M650.3,455.0 L661.0,454.8 L671.7,454.6 M671.7,454.6 L682.3,454.4 L693.0,454.2 M713.5,423.2 L714.3,453.6 M693.0,454.2 L703.7,453.9 L714.3,453.6 M734.8,422.6 L735.6,453.1 M714.3,453.6 L725.0,453.4 L735.6,453.1 M756.0,422.0 L757.0,452.4 M735.6,453.1 L746.3,452.7 L757.0,452.4 M777.2,421.3 L778.3,451.7 M757.0,452.4 L767.6,452.1 L778.3,451.7 M798.4,420.5 L799.6,450.9 M778.3,451.7 L788.9,451.3 L799.6,450.9 M819.6,419.7 L820.9,450.1 M799.6,450.9 L810.3,450.5 L820.9,450.1 M840.9,418.7 L842.2,449.1 M820.9,450.1 L831.6,449.6 L842.2,449.1 M862.1,417.8 L863.5,448.2 M842.2,449.1 L852.9,448.7 L863.5,448.2 M883.3,416.7 L884.8,447.1 M863.5,448.2 L874.2,447.6 L884.8,447.1 M884.8,447.1 L895.5,446.6 L906.1,446.0 M925.7,414.4 L927.4,444.8 M946.9,413.2 L948.7,443.5 M927.4,444.8 L938.1,444.2 L948.7,443.5 M968.1,411.8 L970.0,442.2 M948.7,443.5 L959.4,442.9 L970.0,442.2 M989.2,410.5 L991.3,440.8 M970.0,442.2 L980.6,441.5 L991.3,440.8 M1018.9,408.4 L1021.1,438.7 M991.3,440.8 L1006.2,439.8 L1021.1,438.7 M96.1,440.8 L94.1,471.2 M94.1,471.2 L104.8,471.9 L115.5,472.6 M138.7,443.5 L136.9,473.9 M115.5,472.6 L126.2,473.3 L136.9,473.9 M160.0,444.8 L158.2,475.2 M181.3,446.0 L179.6,476.4 M158.2,475.2 L168.9,475.8 L179.6,476.4 M202.6,447.1 L201.0,477.5 M179.6,476.4 L190.3,476.9 L201.0,477.5 M223.9,448.2 L222.4,478.6 M201.0,477.5 L211.7,478.0 L222.4,478.6 M245.2,449.1 L243.8,479.6 M222.4,478.6 L233.1,479.1 L243.8,479.6 M266.5,450.1 L265.2,480.5 M243.8,479.6 L254.5,480.0 L265.2,480.5 M287.8,450.9 L286.7,481.3 M265.2,480.5 L275.9,480.9 L286.7,481.3 M309.1,451.7 L308.1,482.1 M286.7,481.3 L297.4,481.7 L308.1,482.1 M330.4,452.4 L329.5,482.8 M308.1,482.1 L318.8,482.5 L329.5,482.8 M351.8,453.1 L350.9,483.5 M329.5,482.8 L340.2,483.2 L350.9,483.5 M373.1,453.6 L372.3,484.1 M350.9,483.5 L361.6,483.8 L372.3,484.1 M394.4,454.2 L393.7,484.6 M372.3,484.1 L383.0,484.3 L393.7,484.6 M415.7,454.6 L415.2,485.0 M393.7,484.6 L404.4,484.8 L415.2,485.0 M437.1,455.0 L436.6,485.4 M415.2,485.0 L425.9,485.2 L436.6,485.4 M458.4,455.3 L458.0,485.7 M436.6,485.4 L447.3,485.6 L458.0,485.7 M479.7,455.5 L479.4,485.9 M458.0,485.7 L468.7,485.8 L479.4,485.9 M501.0,455.7 L500.9,486.1 M479.4,485.9 L490.1,486.0 L500.9,486.1 M522.4,455.8 L522.3,486.2 M500.9,486.1 L511.6,486.2 L522.3,486.2 M543.7,455.8 L543.7,486.3 M522.3,486.2 L533.0,486.2 L543.7,486.3 M565.0,455.8 L565.1,486.2 M543.7,486.3 L554.4,486.2 L565.1,486.2 M586.4,455.7 L586.6,486.1 M565.1,486.2 L575.8,486.2 L586.6,486.1 M607.7,455.5 L608.0,485.9 M586.6,486.1 L597.3,486.0 L608.0,485.9 M629.0,455.3 L629.4,485.7 M608.0,485.9 L618.7,485.8 L629.4,485.7 M629.4,485.7 L640.1,485.6 L650.8,485.4 M671.7,454.6 L672.3,485.0 M650.8,485.4 L661.5,485.2 L672.3,485.0 M693.0,454.2 L693.7,484.6 M672.3,485.0 L683.0,484.8 L693.7,484.6 M714.3,453.6 L715.1,484.1 M693.7,484.6 L704.4,484.3 L715.1,484.1 M735.6,453.1 L736.5,483.5 M757.0,452.4 L757.9,482.8 M736.5,483.5 L747.2,483.2 L757.9,482.8 M778.3,451.7 L779.3,482.1 M757.9,482.8 L768.6,482.5 L779.3,482.1 M799.6,450.9 L800.8,481.3 M779.3,482.1 L790.1,481.7 L800.8,481.3 M820.9,450.1 L822.2,480.5 M800.8,481.3 L811.5,480.9 L822.2,480.5 M842.2,449.1 L843.6,479.6 M822.2,480.5 L832.9,480.0 L843.6,479.6 M863.5,448.2 L865.0,478.6 M843.6,479.6 L854.3,479.1 L865.0,478.6 M884.8,447.1 L886.4,477.5 M865.0,478.6 L875.7,478.0 L886.4,477.5 M906.1,446.0 L907.8,476.4 M886.4,477.5 L897.1,476.9 L907.8,476.4 M991.3,440.8 L993.3,471.2 M1021.1,438.7 L1023.3,469.1 M993.3,471.2 L1008.3,470.2 L1023.3,469.1 M179.6,476.4 L178.0,506.8 M201.0,477.5 L199.5,507.9 M178.0,506.8 L188.7,507.3 L199.5,507.9 M222.4,478.6 L221.0,509.0 M199.5,507.9 L210.2,508.4 L221.0,509.0 M243.8,479.6 L242.5,510.0 M221.0,509.0 L231.7,509.5 L242.5,510.0 M265.2,480.5 L264.0,510.9 M242.5,510.0 L253.2,510.4 L264.0,510.9 M286.7,481.3 L285.5,511.7 M264.0,510.9 L274.7,511.3 L285.5,511.7 M308.1,482.1 L307.0,512.5 M285.5,511.7 L296.2,512.1 L307.0,512.5 M329.5,482.8 L328.5,513.3 M307.0,512.5 L317.8,512.9 L328.5,513.3 M350.9,483.5 L350.0,513.9 M328.5,513.3 L339.3,513.6 L350.0,513.9 M372.3,484.1 L371.5,514.5 M350.0,513.9 L360.8,514.2 L371.5,514.5 M393.7,484.6 L393.1,515.0 M371.5,514.5 L382.3,514.8 L393.1,515.0 M415.2,485.0 L414.6,515.5 M393.1,515.0 L403.8,515.2 L414.6,515.5 M436.6,485.4 L436.1,515.8 M414.6,515.5 L425.3,515.6 L436.1,515.8 M458.0,485.7 L457.6,516.1 M436.1,515.8 L446.9,516.0 L457.6,516.1 M479.4,485.9 L479.1,516.4 M457.6,516.1 L468.4,516.3 L479.1,516.4 M500.9,486.1 L500.7,516.6 M479.1,516.4 L489.9,516.5 L500.7,516.6 M522.3,486.2 L522.2,516.7 M500.7,516.6 L511.4,516.6 L522.2,516.7 M543.7,486.3 L543.7,516.7 M522.2,516.7 L532.9,516.7 L543.7,516.7 M565.1,486.2 L565.2,516.7 M543.7,516.7 L554.5,516.7 L565.2,516.7 M586.6,486.1 L586.8,516.6 M565.2,516.7 L576.0,516.6 L586.8,516.6 M608.0,485.9 L608.3,516.4 M586.8,516.6 L597.5,516.5 L608.3,516.4 M629.4,485.7 L629.8,516.1 M608.3,516.4 L619.0,516.3 L629.8,516.1 M650.8,485.4 L651.3,515.8 M629.8,516.1 L640.6,516.0 L651.3,515.8 M672.3,485.0 L672.8,515.5 M651.3,515.8 L662.1,515.6 L672.8,515.5 M693.7,484.6 L694.4,515.0 M672.8,515.5 L683.6,515.2 L694.4,515.0 M715.1,484.1 L715.9,514.5 M694.4,515.0 L705.1,514.8 L715.9,514.5 M736.5,483.5 L737.4,513.9 M757.9,482.8 L758.9,513.3 M737.4,513.9 L748.1,513.6 L758.9,513.3 M779.3,482.1 L780.4,512.5 M758.9,513.3 L769.7,512.9 L780.4,512.5 M199.5,507.9 L197.9,538.3 M221.0,509.0 L219.5,539.4 M197.9,538.3 L208.7,538.8 L219.5,539.4 M242.5,510.0 L241.1,540.4 M219.5,539.4 L230.3,539.9 L241.1,540.4 M264.0,510.9 L262.7,541.3 M241.1,540.4 L251.9,540.8 L262.7,541.3 M285.5,511.7 L284.3,542.2 M262.7,541.3 L273.5,541.7 L284.3,542.2 M307.0,512.5 L305.9,543.0 M284.3,542.2 L295.1,542.6 L305.9,543.0 M328.5,513.3 L327.5,543.7 M305.9,543.0 L316.7,543.3 L327.5,543.7 M350.0,513.9 L349.1,544.3 M327.5,543.7 L338.3,544.0 L349.1,544.3 M371.5,514.5 L370.8,544.9 M349.1,544.3 L360.0,544.6 L370.8,544.9 M393.1,515.0 L392.4,545.4 M370.8,544.9 L381.6,545.2 L392.4,545.4 M414.6,515.5 L414.0,545.9 M392.4,545.4 L403.2,545.7 L414.0,545.9 M219.5,539.4 L218.1,569.8 M241.1,540.4 L239.8,570.8 M218.1,569.8 L228.9,570.3 L239.8,570.8 M262.7,541.3 L261.5,571.7 M284.3,542.2 L283.2,572.6 M261.5,571.7 L272.3,572.2 L283.2,572.6 M305.9,543.0 L304.9,573.4 M283.2,572.6 L294.0,573.0 L304.9,573.4 M327.5,543.7 L326.6,574.1 M304.9,573.4 L315.7,573.8 L326.6,574.1 M349.1,544.3 L348.3,574.8 M326.6,574.1 L337.4,574.4 L348.3,574.8 M370.8,544.9 L370.0,575.4 M348.3,574.8 L359.1,575.1 L370.0,575.4 M392.4,545.4 L391.7,575.9 M370.0,575.4 L380.8,575.6 L391.7,575.9 M414.0,545.9 L413.4,576.3 M239.8,570.8 L238.4,601.2 M261.5,571.7 L260.2,602.1 M238.4,601.2 L249.3,601.7 L260.2,602.1 M283.2,572.6 L282.0,603.0 M260.2,602.1 L271.1,602.6 L282.0,603.0 M304.9,573.4 L303.8,603.8 M282.0,603.0 L292.9,603.4 L303.8,603.8 M326.6,574.1 L325.6,604.5 M303.8,603.8 L314.7,604.2 L325.6,604.5 M348.3,574.8 L347.4,605.2 M325.6,604.5 L336.5,604.9 L347.4,605.2 M370.0,575.4 L369.2,605.8 M347.4,605.2 L358.3,605.5 L369.2,605.8 M391.7,575.9 L391.0,606.3 M369.2,605.8 L380.1,606.1 L391.0,606.3 M413.4,576.3 L412.8,606.8 M391.0,606.3 L401.9,606.6 L412.8,606.8" fill="none" stroke="#454548" stroke-width="1" stroke-linecap="square" shape-rendering="crispEdges"/>
</g>
<polygon points="21.2,8.0 41.1,9.6 61.0,11.2 80.9,12.7 100.8,14.2 120.7,15.6 140.7,16.9 160.6,18.1 180.5,19.3 200.5,20.4 220.4,21.5 240.4,22.5 260.3,23.4 280.3,24.3 300.2,25.1 320.2,25.9 340.1,26.5 360.1,27.2 380.1,27.7 400.0,28.2 420.0,28.6 439.9,29.0 459.9,29.3 479.9,29.5 499.9,29.7 519.8,29.8 539.8,29.9 559.8,29.8 579.7,29.8 599.7,29.6 619.7,29.4 639.6,29.1 659.6,28.8 679.6,28.4 699.5,27.9 719.5,27.4 739.5,26.8 759.4,26.1 779.4,25.4 799.3,24.6 819.3,23.8 839.2,22.9 859.2,21.9 879.1,20.9 899.1,19.8 919.0,18.6 938.9,17.4 958.9,16.1 978.8,14.7 979.1,14.7 979.1,14.7 983.3,75.4 987.6,136.1 991.8,196.8 996.0,257.5 1000.3,318.2 1004.5,378.9 1008.7,439.6 1013.0,500.3 995.4,501.5 973.9,503.0 952.4,504.3 930.9,505.6 909.4,506.8 887.9,507.9 866.4,509.0 844.9,510.0 823.4,510.9 801.9,511.7 780.4,512.5 758.9,513.3 737.4,513.9 715.9,514.5 694.4,515.0 672.8,515.5 651.3,515.8 629.8,516.1 608.3,516.4 586.8,516.6 565.2,516.7 543.7,516.7 522.2,516.7 500.7,516.6 479.1,516.4 457.6,516.1 436.1,515.8 414.6,515.5 410.3,515.4 409.0,578.7 409.2,578.3 406.9,576.9 403.1,575.0 400.6,571.2 397.5,566.9 394.4,563.8 393.1,559.4 390.0,555.6 387.5,550.6 383.8,546.9 380.6,544.4 376.9,548.1 373.1,549.4 370.6,551.9 371.2,555.6 368.8,560.0 369.4,564.4 371.9,567.5 371.2,569.4 367.5,568.1 363.1,566.9 357.5,567.5 353.1,566.9 348.8,567.5 346.9,570.0 342.5,571.9 339.4,568.8 336.9,565.6 331.9,566.9 326.9,568.1 323.1,568.1 318.1,570.0 312.5,567.5 307.5,566.2 305.0,563.1 301.2,564.4 296.2,567.5 294.4,572.5 293.1,576.9 289.4,577.5 285.0,575.0 281.2,574.4 275.0,573.1 268.8,571.9 265.0,570.0 261.2,571.2 257.5,574.4 253.8,579.4 255.0,584.4 252.5,586.9 250.0,584.4 246.2,580.6 241.2,577.5 237.5,571.2 238.1,566.2 235.6,561.2 233.1,556.9 236.2,553.1 233.1,545.0 230.6,538.8 227.5,535.6 223.8,531.9 219.4,529.4 215.6,531.2 211.2,532.5 208.8,528.8 205.0,525.6 203.1,523.1 201.2,518.8 200.0,513.8 203.8,510.6 204.4,503.1 203.1,499.4 199.4,496.2 200.0,493.8 196.9,493.1 193.1,490.0 192.5,483.8 189.4,480.6 185.6,475.0 185.0,470.6 181.6,466.2 181.9,456.9 179.4,456.2 178.8,451.2 180.0,447.5 179.4,442.5 174.4,441.9 176.2,436.2 176.9,433.1 173.1,430.6 170.6,428.8 168.1,425.6 165.0,421.2 161.9,420.0 159.4,424.4 155.6,428.1 152.5,431.9 148.8,435.0 143.8,437.5 139.4,438.1 138.1,443.1 135.0,445.0 130.6,446.9 127.5,442.5 123.8,439.4 120.0,434.4 112.5,433.8 114.4,428.8 113.8,424.4 118.1,421.9 119.4,415.6 116.2,412.5 114.4,407.5 117.5,403.8 120.0,400.0 127.5,398.1 129.4,395.0 128.1,391.2 126.9,388.1 129.4,385.0 126.9,381.9 123.1,380.0 121.2,375.0 123.8,373.1 124.4,368.8 121.2,366.2 120.6,361.9 123.8,360.6 127.5,358.8 127.5,351.2 126.2,348.8 129.4,346.2 131.2,340.0 130.6,335.0 132.5,332.5 134.4,331.2 135.6,327.5 133.8,323.8 133.8,320.6 138.1,320.0 138.8,315.0 140.0,308.8 141.2,304.4 140.0,301.9 136.2,300.0 132.5,301.9 128.1,303.8 126.2,301.2 122.5,301.9 117.5,302.5 115.0,298.1 115.6,293.8 112.5,290.0 109.4,291.2 105.6,295.0 103.8,292.5 105.0,288.1 102.5,285.6 98.8,281.9 95.0,281.2 93.1,278.1 90.6,274.4 92.5,272.5 93.1,267.5 90.0,264.4 87.5,260.6 83.8,258.1 81.9,254.4 78.8,248.8 75.0,243.1 70.0,237.5 65.0,231.2 62.5,224.4 55.0,221.9 50.0,219.4 46.2,216.2 44.4,211.2 41.2,208.1 36.2,205.6 32.5,202.5 28.8,200.6 33.8,198.1 38.8,197.0 40.0,194.4 37.5,192.5 32.5,188.1 30.6,185.0 35.0,181.2 36.2,178.1 33.1,173.8 34.4,171.2 33.1,166.2 29.4,164.4 30.0,161.2 25.6,159.4 24.4,151.2 18.8,146.2 13.8,136.9 11.9,133.8 10.6,130.0 11.0,129.3 16.1,68.7" fill="none" stroke="#6a6a6a" stroke-width="1" stroke-linejoin="round" shape-rendering="crispEdges"/>
<defs><clipPath id="cu"><path d="M244.3,22.7 L254.2,23.2 L264.2,23.6 L262.9,54.0 L252.8,53.6 L242.8,53.1Z M344.0,26.7 L354.0,27.0 L364.0,27.3 L363.1,57.7 L353.1,57.4 L343.1,57.1Z M364.0,27.3 L374.0,27.6 L384.0,27.8 L383.2,58.2 L373.2,58.0 L363.1,57.7Z M384.0,27.8 L393.9,28.1 L403.9,28.3 L403.2,58.7 L393.2,58.5 L383.2,58.2Z M423.9,28.7 L433.9,28.9 L443.9,29.1 L443.4,59.5 L433.3,59.3 L423.3,59.1Z M443.9,29.1 L453.8,29.2 L463.8,29.4 L463.4,59.8 L453.4,59.7 L443.4,59.5Z M543.7,29.9 L553.7,29.9 L563.7,29.8 L563.8,60.3 L553.7,60.3 L543.7,60.3Z M563.7,29.8 L573.7,29.8 L583.6,29.7 L583.8,60.2 L573.8,60.2 L563.8,60.3Z M583.6,29.7 L593.6,29.7 L603.6,29.6 L603.9,60.0 L593.9,60.1 L583.8,60.2Z M603.6,29.6 L613.6,29.5 L623.6,29.4 L624.0,59.8 L613.9,59.9 L603.9,60.0Z M623.6,29.4 L633.6,29.2 L643.6,29.1 L644.0,59.5 L634.0,59.7 L624.0,59.8Z M643.6,29.1 L653.5,28.9 L663.5,28.7 L664.1,59.1 L654.1,59.3 L644.0,59.5Z M663.5,28.7 L673.5,28.5 L683.5,28.3 L684.2,58.7 L674.1,58.9 L664.1,59.1Z M683.5,28.3 L693.5,28.1 L703.4,27.8 L704.2,58.2 L694.2,58.5 L684.2,58.7Z M703.4,27.8 L713.4,27.6 L723.4,27.3 L724.3,57.7 L714.3,58.0 L704.2,58.2Z M723.4,27.3 L733.4,27.0 L743.4,26.7 L744.3,57.1 L734.3,57.4 L724.3,57.7Z M743.4,26.7 L753.3,26.3 L763.3,26.0 L764.4,56.4 L754.4,56.8 L744.3,57.1Z M763.3,26.0 L773.3,25.6 L783.3,25.3 L784.5,55.7 L774.4,56.1 L764.4,56.4Z M783.3,25.3 L793.3,24.9 L803.2,24.5 L804.5,54.9 L794.5,55.3 L784.5,55.7Z M803.2,24.5 L813.2,24.1 L823.2,23.6 L824.5,54.0 L814.5,54.5 L804.5,54.9Z M863.1,21.7 L873.1,21.2 L883.0,20.7 L884.7,51.0 L874.7,51.6 L864.6,52.1Z M883.0,20.7 L893.0,20.1 L903.0,19.5 L904.7,49.9 L894.7,50.5 L884.7,51.0Z M903.0,19.5 L912.9,19.0 L922.9,18.4 L924.7,48.7 L914.7,49.3 L904.7,49.9Z M942.8,17.1 L952.8,16.5 L962.8,15.8 L964.8,46.2 L954.8,46.8 L944.8,47.5Z M242.8,53.1 L252.8,53.6 L262.9,54.0 L261.5,84.4 L251.4,84.0 L241.4,83.5Z M303.0,55.7 L313.0,56.1 L323.0,56.4 L321.9,86.8 L311.9,86.5 L301.8,86.1Z M343.1,57.1 L353.1,57.4 L363.1,57.7 L362.3,88.1 L352.2,87.8 L342.1,87.5Z M423.3,59.1 L433.3,59.3 L443.4,59.5 L442.9,89.9 L432.8,89.8 L422.7,89.6Z M443.4,59.5 L453.4,59.7 L463.4,59.8 L463.1,90.2 L453.0,90.1 L442.9,89.9Z M503.6,60.2 L513.6,60.2 L523.6,60.3 L523.5,90.7 L513.5,90.7 L503.4,90.6Z M523.6,60.3 L533.7,60.3 L543.7,60.3 L543.7,90.7 L533.6,90.7 L523.5,90.7Z M543.7,60.3 L553.7,60.3 L563.8,60.3 L563.9,90.7 L553.8,90.7 L543.7,90.7Z M563.8,60.3 L573.8,60.2 L583.8,60.2 L584.0,90.6 L574.0,90.7 L563.9,90.7Z M583.8,60.2 L593.9,60.1 L603.9,60.0 L604.2,90.4 L594.1,90.5 L584.0,90.6Z M603.9,60.0 L613.9,59.9 L624.0,59.8 L624.4,90.2 L614.3,90.3 L604.2,90.4Z M624.0,59.8 L634.0,59.7 L644.0,59.5 L644.5,89.9 L634.4,90.1 L624.4,90.2Z M644.0,59.5 L654.1,59.3 L664.1,59.1 L664.7,89.6 L654.6,89.8 L644.5,89.9Z M664.1,59.1 L674.1,58.9 L684.2,58.7 L684.8,89.2 L674.8,89.4 L664.7,89.6Z M684.2,58.7 L694.2,58.5 L704.2,58.2 L705.0,88.7 L694.9,88.9 L684.8,89.2Z M704.2,58.2 L714.3,58.0 L724.3,57.7 L725.2,88.1 L715.1,88.4 L705.0,88.7Z M724.3,57.7 L734.3,57.4 L744.3,57.1 L745.3,87.5 L735.2,87.8 L725.2,88.1Z M744.3,57.1 L754.4,56.8 L764.4,56.4 L765.5,86.8 L755.4,87.2 L745.3,87.5Z M764.4,56.4 L774.4,56.1 L784.5,55.7 L785.6,86.1 L775.5,86.5 L765.5,86.8Z M784.5,55.7 L794.5,55.3 L804.5,54.9 L805.8,85.3 L795.7,85.7 L785.6,86.1Z M804.5,54.9 L814.5,54.5 L824.5,54.0 L825.9,84.4 L815.8,84.9 L805.8,85.3Z M924.7,48.7 L934.8,48.1 L944.8,47.5 L946.7,77.9 L936.7,78.5 L926.6,79.1Z M944.8,47.5 L954.8,46.8 L964.8,46.2 L966.8,76.5 L956.8,77.2 L946.7,77.9Z M964.8,46.2 L978.8,45.2 L992.8,44.2 L995.0,74.6 L980.9,75.6 L966.8,76.5Z M261.5,84.4 L271.6,84.9 L281.6,85.3 L280.4,115.7 L270.3,115.3 L260.1,114.8Z M281.6,85.3 L291.7,85.7 L301.8,86.1 L300.6,116.5 L290.5,116.1 L280.4,115.7Z M301.8,86.1 L311.9,86.5 L321.9,86.8 L320.9,117.2 L310.8,116.9 L300.6,116.5Z M321.9,86.8 L332.0,87.2 L342.1,87.5 L341.1,117.9 L331.0,117.6 L320.9,117.2Z M342.1,87.5 L352.2,87.8 L362.3,88.1 L361.4,118.5 L351.3,118.2 L341.1,117.9Z M362.3,88.1 L372.3,88.4 L382.4,88.7 L381.6,119.1 L371.5,118.8 L361.4,118.5Z M402.6,89.2 L412.6,89.4 L422.7,89.6 L422.1,120.0 L412.0,119.8 L401.9,119.6Z M422.7,89.6 L432.8,89.8 L442.9,89.9 L442.4,120.4 L432.3,120.2 L422.1,120.0Z M442.9,89.9 L453.0,90.1 L463.1,90.2 L462.7,120.6 L452.5,120.5 L442.4,120.4Z M523.5,90.7 L533.6,90.7 L543.7,90.7 L543.7,121.2 L533.6,121.2 L523.4,121.1Z M543.7,90.7 L553.8,90.7 L563.9,90.7 L564.0,121.1 L553.8,121.2 L543.7,121.2Z M584.0,90.6 L594.1,90.5 L604.2,90.4 L604.5,120.9 L594.4,121.0 L584.2,121.0Z M604.2,90.4 L614.3,90.3 L624.4,90.2 L624.7,120.6 L614.6,120.8 L604.5,120.9Z M624.4,90.2 L634.4,90.1 L644.5,89.9 L645.0,120.4 L634.9,120.5 L624.7,120.6Z M644.5,89.9 L654.6,89.8 L664.7,89.6 L665.3,120.0 L655.1,120.2 L645.0,120.4Z M664.7,89.6 L674.8,89.4 L684.8,89.2 L685.5,119.6 L675.4,119.8 L665.3,120.0Z M705.0,88.7 L715.1,88.4 L725.2,88.1 L726.0,118.5 L715.9,118.8 L705.8,119.1Z M725.2,88.1 L735.2,87.8 L745.3,87.5 L746.3,117.9 L736.2,118.2 L726.0,118.5Z M745.3,87.5 L755.4,87.2 L765.5,86.8 L766.5,117.2 L756.4,117.6 L746.3,117.9Z M765.5,86.8 L775.5,86.5 L785.6,86.1 L786.8,116.5 L776.7,116.9 L766.5,117.2Z M785.6,86.1 L795.7,85.7 L805.8,85.3 L807.0,115.7 L796.9,116.1 L786.8,116.5Z M805.8,85.3 L815.8,84.9 L825.9,84.4 L827.3,114.8 L817.1,115.3 L807.0,115.7Z M825.9,84.4 L836.0,84.0 L846.1,83.5 L847.5,113.9 L837.4,114.4 L827.3,114.8Z M846.1,83.5 L856.1,83.0 L866.2,82.5 L867.7,112.9 L857.6,113.4 L847.5,113.9Z M866.2,82.5 L876.3,82.0 L886.3,81.4 L888.0,111.8 L877.9,112.4 L867.7,112.9Z M886.3,81.4 L896.4,80.9 L906.5,80.3 L908.2,110.7 L898.1,111.3 L888.0,111.8Z M906.5,80.3 L916.5,79.7 L926.6,79.1 L928.4,109.5 L918.3,110.1 L908.2,110.7Z M926.6,79.1 L936.7,78.5 L946.7,77.9 L948.7,108.2 L938.5,108.9 L928.4,109.5Z M946.7,77.9 L956.8,77.2 L966.8,76.5 L968.9,106.9 L958.8,107.6 L948.7,108.2Z M966.8,76.5 L980.9,75.6 L995.0,74.6 L997.2,104.9 L983.0,105.9 L968.9,106.9Z M219.7,112.9 L229.8,113.4 L239.9,113.9 L238.4,144.3 L228.3,143.8 L218.1,143.3Z M239.9,113.9 L250.0,114.4 L260.1,114.8 L258.8,145.2 L248.6,144.8 L238.4,144.3Z M260.1,114.8 L270.3,115.3 L280.4,115.7 L279.1,146.1 L269.0,145.7 L258.8,145.2Z M280.4,115.7 L290.5,116.1 L300.6,116.5 L299.5,146.9 L289.3,146.5 L279.1,146.1Z M422.1,120.0 L432.3,120.2 L442.4,120.4 L441.9,150.8 L431.7,150.6 L421.6,150.4Z M442.4,120.4 L452.5,120.5 L462.7,120.6 L462.3,151.1 L452.1,150.9 L441.9,150.8Z M462.7,120.6 L472.8,120.8 L482.9,120.9 L482.6,151.3 L472.5,151.2 L462.3,151.1Z M482.9,120.9 L493.1,121.0 L503.2,121.0 L503.0,151.5 L492.8,151.4 L482.6,151.3Z M503.2,121.0 L513.3,121.1 L523.4,121.1 L523.3,151.6 L513.2,151.5 L503.0,151.5Z M523.4,121.1 L533.6,121.2 L543.7,121.2 L543.7,151.6 L533.5,151.6 L523.3,151.6Z M543.7,121.2 L553.8,121.2 L564.0,121.1 L564.1,151.6 L553.9,151.6 L543.7,151.6Z M584.2,121.0 L594.4,121.0 L604.5,120.9 L604.8,151.3 L594.6,151.4 L584.4,151.5Z M604.5,120.9 L614.6,120.8 L624.7,120.6 L625.1,151.1 L615.0,151.2 L604.8,151.3Z M624.7,120.6 L634.9,120.5 L645.0,120.4 L645.5,150.8 L635.3,150.9 L625.1,151.1Z M645.0,120.4 L655.1,120.2 L665.3,120.0 L665.8,150.4 L655.7,150.6 L645.5,150.8Z M665.3,120.0 L675.4,119.8 L685.5,119.6 L686.2,150.0 L676.0,150.2 L665.8,150.4Z M685.5,119.6 L695.7,119.3 L705.8,119.1 L706.6,149.5 L696.4,149.8 L686.2,150.0Z M705.8,119.1 L715.9,118.8 L726.0,118.5 L726.9,149.0 L716.7,149.2 L706.6,149.5Z M726.0,118.5 L736.2,118.2 L746.3,117.9 L747.3,148.3 L737.1,148.7 L726.9,149.0Z M746.3,117.9 L756.4,117.6 L766.5,117.2 L767.6,147.7 L757.4,148.0 L747.3,148.3Z M807.0,115.7 L817.1,115.3 L827.3,114.8 L828.6,145.2 L818.5,145.7 L808.3,146.1Z M827.3,114.8 L837.4,114.4 L847.5,113.9 L849.0,144.3 L838.8,144.8 L828.6,145.2Z M847.5,113.9 L857.6,113.4 L867.7,112.9 L869.3,143.3 L859.1,143.8 L849.0,144.3Z M867.7,112.9 L877.9,112.4 L888.0,111.8 L889.6,142.2 L879.5,142.7 L869.3,143.3Z M888.0,111.8 L898.1,111.3 L908.2,110.7 L910.0,141.1 L899.8,141.6 L889.6,142.2Z M908.2,110.7 L918.3,110.1 L928.4,109.5 L930.3,139.9 L920.1,140.5 L910.0,141.1Z M928.4,109.5 L938.5,108.9 L948.7,108.2 L950.6,138.6 L940.4,139.2 L930.3,139.9Z M948.7,108.2 L958.8,107.6 L968.9,106.9 L970.9,137.3 L960.8,137.9 L950.6,138.6Z M968.9,106.9 L983.0,105.9 L997.2,104.9 L999.3,135.3 L985.1,136.3 L970.9,137.3Z M218.1,143.3 L228.3,143.8 L238.4,144.3 L237.0,174.7 L226.8,174.2 L216.6,173.7Z M238.4,144.3 L248.6,144.8 L258.8,145.2 L257.4,175.6 L247.2,175.1 L237.0,174.7Z M299.5,146.9 L309.6,147.3 L319.8,147.7 L318.7,178.1 L308.5,177.7 L298.3,177.3Z M319.8,147.7 L330.0,148.0 L340.2,148.3 L339.2,178.7 L329.0,178.4 L318.7,178.1Z M340.2,148.3 L350.3,148.7 L360.5,149.0 L359.6,179.4 L349.4,179.1 L339.2,178.7Z M360.5,149.0 L370.7,149.2 L380.9,149.5 L380.1,179.9 L369.9,179.7 L359.6,179.4Z M380.9,149.5 L391.0,149.8 L401.2,150.0 L400.5,180.4 L390.3,180.2 L380.1,179.9Z M401.2,150.0 L411.4,150.2 L421.6,150.4 L421.0,180.8 L410.8,180.6 L400.5,180.4Z M421.6,150.4 L431.7,150.6 L441.9,150.8 L441.4,181.2 L431.2,181.0 L421.0,180.8Z M441.9,150.8 L452.1,150.9 L462.3,151.1 L461.9,181.5 L451.7,181.4 L441.4,181.2Z M462.3,151.1 L472.5,151.2 L482.6,151.3 L482.3,181.7 L472.1,181.6 L461.9,181.5Z M482.6,151.3 L492.8,151.4 L503.0,151.5 L502.8,181.9 L492.6,181.8 L482.3,181.7Z M503.0,151.5 L513.2,151.5 L523.3,151.6 L523.3,182.0 L513.0,181.9 L502.8,181.9Z M523.3,151.6 L533.5,151.6 L543.7,151.6 L543.7,182.0 L533.5,182.0 L523.3,182.0Z M564.1,151.6 L574.2,151.5 L584.4,151.5 L584.6,181.9 L574.4,181.9 L564.2,182.0Z M584.4,151.5 L594.6,151.4 L604.8,151.3 L605.1,181.7 L594.8,181.8 L584.6,181.9Z M625.1,151.1 L635.3,150.9 L645.5,150.8 L646.0,181.2 L635.8,181.4 L625.5,181.5Z M645.5,150.8 L655.7,150.6 L665.8,150.4 L666.4,180.8 L656.2,181.0 L646.0,181.2Z M665.8,150.4 L676.0,150.2 L686.2,150.0 L686.9,180.4 L676.7,180.6 L666.4,180.8Z M686.2,150.0 L696.4,149.8 L706.6,149.5 L707.3,179.9 L697.1,180.2 L686.9,180.4Z M747.3,148.3 L757.4,148.0 L767.6,147.7 L768.7,178.1 L758.4,178.4 L748.2,178.7Z M767.6,147.7 L777.8,147.3 L787.9,146.9 L789.1,177.3 L778.9,177.7 L768.7,178.1Z M787.9,146.9 L798.1,146.5 L808.3,146.1 L809.6,176.5 L799.3,176.9 L789.1,177.3Z M808.3,146.1 L818.5,145.7 L828.6,145.2 L830.0,175.6 L819.8,176.1 L809.6,176.5Z M869.3,143.3 L879.5,142.7 L889.6,142.2 L891.3,172.6 L881.1,173.1 L870.9,173.7Z M930.3,139.9 L940.4,139.2 L950.6,138.6 L952.5,169.0 L942.3,169.6 L932.1,170.2Z M950.6,138.6 L960.8,137.9 L970.9,137.3 L972.9,167.6 L962.7,168.3 L952.5,169.0Z M970.9,137.3 L985.1,136.3 L999.3,135.3 L1001.5,165.6 L987.2,166.6 L972.9,167.6Z M-7.9,158.2 L12.5,160.0 L32.9,161.6 L30.4,191.9 L10.0,190.3 L-10.5,188.5Z M32.9,161.6 L43.1,162.4 L53.3,163.2 L50.9,193.6 L40.7,192.8 L30.4,191.9Z M94.1,166.2 L104.3,166.9 L114.5,167.6 L112.4,198.0 L102.2,197.3 L91.9,196.6Z M134.9,169.0 L145.1,169.6 L155.3,170.2 L153.4,200.6 L143.2,200.0 L132.9,199.3Z M216.6,173.7 L226.8,174.2 L237.0,174.7 L235.5,205.1 L225.3,204.6 L215.0,204.0Z M237.0,174.7 L247.2,175.1 L257.4,175.6 L256.1,206.0 L245.8,205.5 L235.5,205.1Z M298.3,177.3 L308.5,177.7 L318.7,178.1 L317.7,208.5 L307.4,208.1 L297.1,207.7Z M318.7,178.1 L329.0,178.4 L339.2,178.7 L338.2,209.2 L327.9,208.8 L317.7,208.5Z M339.2,178.7 L349.4,179.1 L359.6,179.4 L358.8,209.8 L348.5,209.5 L338.2,209.2Z M359.6,179.4 L369.9,179.7 L380.1,179.9 L379.3,210.3 L369.0,210.1 L358.8,209.8Z M380.1,179.9 L390.3,180.2 L400.5,180.4 L399.9,210.8 L389.6,210.6 L379.3,210.3Z M400.5,180.4 L410.8,180.6 L421.0,180.8 L420.4,211.3 L410.1,211.0 L399.9,210.8Z M421.0,180.8 L431.2,181.0 L441.4,181.2 L440.9,211.6 L430.7,211.4 L420.4,211.3Z M441.4,181.2 L451.7,181.4 L461.9,181.5 L461.5,211.9 L451.2,211.8 L440.9,211.6Z M482.3,181.7 L492.6,181.8 L502.8,181.9 L502.6,212.3 L492.3,212.2 L482.0,212.1Z M502.8,181.9 L513.0,181.9 L523.3,182.0 L523.2,212.4 L512.9,212.4 L502.6,212.3Z M523.3,182.0 L533.5,182.0 L543.7,182.0 L543.7,212.4 L533.4,212.4 L523.2,212.4Z M584.6,181.9 L594.8,181.8 L605.1,181.7 L605.4,212.1 L595.1,212.2 L584.8,212.3Z M625.5,181.5 L635.8,181.4 L646.0,181.2 L646.5,211.6 L636.2,211.8 L625.9,211.9Z M646.0,181.2 L656.2,181.0 L666.4,180.8 L667.0,211.3 L656.7,211.4 L646.5,211.6Z M666.4,180.8 L676.7,180.6 L686.9,180.4 L687.6,210.8 L677.3,211.0 L667.0,211.3Z M748.2,178.7 L758.4,178.4 L768.7,178.1 L769.7,208.5 L759.5,208.8 L749.2,209.2Z M891.3,172.6 L901.5,172.0 L911.7,171.4 L913.4,201.8 L903.2,202.4 L892.9,203.0Z M911.7,171.4 L921.9,170.8 L932.1,170.2 L934.0,200.6 L923.7,201.2 L913.4,201.8Z M952.5,169.0 L962.7,168.3 L972.9,167.6 L975.0,198.0 L964.7,198.7 L954.5,199.3Z M112.4,198.0 L122.7,198.7 L132.9,199.3 L131.0,229.7 L120.7,229.0 L110.4,228.3Z M235.5,205.1 L245.8,205.5 L256.1,206.0 L254.7,236.4 L244.4,235.9 L234.1,235.4Z M317.7,208.5 L327.9,208.8 L338.2,209.2 L337.2,239.6 L326.9,239.2 L316.6,238.9Z M338.2,209.2 L348.5,209.5 L358.8,209.8 L357.9,240.2 L347.6,239.9 L337.2,239.6Z M358.8,209.8 L369.0,210.1 L379.3,210.3 L378.5,240.7 L368.2,240.5 L357.9,240.2Z M379.3,210.3 L389.6,210.6 L399.9,210.8 L399.2,241.2 L388.8,241.0 L378.5,240.7Z M399.9,210.8 L410.1,211.0 L420.4,211.3 L419.8,241.7 L409.5,241.5 L399.2,241.2Z M420.4,211.3 L430.7,211.4 L440.9,211.6 L440.5,242.0 L430.1,241.9 L419.8,241.7Z M461.5,211.9 L471.8,212.0 L482.0,212.1 L481.8,242.6 L471.4,242.5 L461.1,242.3Z M482.0,212.1 L492.3,212.2 L502.6,212.3 L502.4,242.7 L492.1,242.6 L481.8,242.6Z M543.7,212.4 L554.0,212.4 L564.3,212.4 L564.4,242.8 L554.0,242.8 L543.7,242.9Z M564.3,212.4 L574.5,212.4 L584.8,212.3 L585.0,242.7 L574.7,242.8 L564.4,242.8Z M584.8,212.3 L595.1,212.2 L605.4,212.1 L605.7,242.6 L595.3,242.6 L585.0,242.7Z M605.4,212.1 L615.6,212.0 L625.9,211.9 L626.3,242.3 L616.0,242.5 L605.7,242.6Z M625.9,211.9 L636.2,211.8 L646.5,211.6 L647.0,242.0 L636.6,242.2 L626.3,242.3Z M646.5,211.6 L656.7,211.4 L667.0,211.3 L667.6,241.7 L657.3,241.9 L647.0,242.0Z M687.6,210.8 L697.8,210.6 L708.1,210.3 L708.9,240.7 L698.6,241.0 L688.2,241.2Z M749.2,209.2 L759.5,208.8 L769.7,208.5 L770.8,238.9 L760.5,239.2 L750.2,239.6Z M790.3,207.7 L800.5,207.3 L810.8,206.9 L812.1,237.3 L801.8,237.7 L791.4,238.1Z M810.8,206.9 L821.1,206.5 L831.3,206.0 L832.7,236.4 L822.4,236.8 L812.1,237.3Z M851.9,205.1 L862.1,204.6 L872.4,204.0 L874.0,234.4 L863.6,234.9 L853.3,235.4Z M872.4,204.0 L882.7,203.5 L892.9,203.0 L894.6,233.3 L884.3,233.9 L874.0,234.4Z M892.9,203.0 L903.2,202.4 L913.4,201.8 L915.2,232.2 L904.9,232.8 L894.6,233.3Z M913.4,201.8 L923.7,201.2 L934.0,200.6 L935.8,231.0 L925.5,231.6 L915.2,232.2Z M934.0,200.6 L944.2,200.0 L954.5,199.3 L956.4,229.7 L946.1,230.3 L935.8,231.0Z M954.5,199.3 L964.7,198.7 L975.0,198.0 L977.0,228.3 L966.7,229.0 L956.4,229.7Z M975.0,198.0 L989.3,197.0 L1003.7,196.0 L1005.9,226.3 L991.4,227.3 L977.0,228.3Z M28.0,222.3 L38.3,223.1 L48.6,223.9 L46.3,254.2 L35.9,253.4 L25.6,252.6Z M48.6,223.9 L58.9,224.7 L69.2,225.4 L67.0,255.8 L56.6,255.0 L46.3,254.2Z M69.2,225.4 L79.5,226.2 L89.8,226.9 L87.7,257.3 L77.3,256.5 L67.0,255.8Z M316.6,238.9 L326.9,239.2 L337.2,239.6 L336.3,270.0 L325.9,269.6 L315.5,269.3Z M337.2,239.6 L347.6,239.9 L357.9,240.2 L357.0,270.6 L346.6,270.3 L336.3,270.0Z M357.9,240.2 L368.2,240.5 L378.5,240.7 L377.8,271.2 L367.4,270.9 L357.0,270.6Z M399.2,241.2 L409.5,241.5 L419.8,241.7 L419.2,272.1 L408.9,271.9 L398.5,271.7Z M461.1,242.3 L471.4,242.5 L481.8,242.6 L481.5,273.0 L471.1,272.9 L460.7,272.7Z M481.8,242.6 L492.1,242.6 L502.4,242.7 L502.2,273.1 L491.8,273.1 L481.5,273.0Z M502.4,242.7 L512.7,242.8 L523.1,242.8 L523.0,273.2 L512.6,273.2 L502.2,273.1Z M523.1,242.8 L533.4,242.8 L543.7,242.9 L543.7,273.3 L533.3,273.3 L523.0,273.2Z M564.4,242.8 L574.7,242.8 L585.0,242.7 L585.2,273.1 L574.8,273.2 L564.5,273.2Z M585.0,242.7 L595.3,242.6 L605.7,242.6 L605.9,273.0 L595.6,273.1 L585.2,273.1Z M605.7,242.6 L616.0,242.5 L626.3,242.3 L626.7,272.7 L616.3,272.9 L605.9,273.0Z M626.3,242.3 L636.6,242.2 L647.0,242.0 L647.4,272.4 L637.1,272.6 L626.7,272.7Z M647.0,242.0 L657.3,241.9 L667.6,241.7 L668.2,272.1 L657.8,272.3 L647.4,272.4Z M874.0,234.4 L884.3,233.9 L894.6,233.3 L896.2,263.7 L885.9,264.3 L875.5,264.8Z M894.6,233.3 L904.9,232.8 L915.2,232.2 L916.9,262.6 L906.6,263.1 L896.2,263.7Z M915.2,232.2 L925.5,231.6 L935.8,231.0 L937.7,261.3 L927.3,261.9 L916.9,262.6Z M935.8,231.0 L946.1,230.3 L956.4,229.7 L958.4,260.0 L948.0,260.7 L937.7,261.3Z M956.4,229.7 L966.7,229.0 L977.0,228.3 L979.1,258.7 L968.7,259.4 L958.4,260.0Z M977.0,228.3 L991.4,227.3 L1005.9,226.3 L1008.0,256.7 L993.5,257.7 L979.1,258.7Z M377.8,271.2 L388.1,271.4 L398.5,271.7 L397.8,302.1 L387.4,301.8 L377.0,301.6Z M398.5,271.7 L408.9,271.9 L419.2,272.1 L418.7,302.5 L408.2,302.3 L397.8,302.1Z M419.2,272.1 L429.6,272.3 L440.0,272.4 L439.5,302.9 L429.1,302.7 L418.7,302.5Z M440.0,272.4 L450.3,272.6 L460.7,272.7 L460.3,303.2 L449.9,303.0 L439.5,302.9Z M481.5,273.0 L491.8,273.1 L502.2,273.1 L502.0,303.6 L491.6,303.5 L481.2,303.4Z M523.0,273.2 L533.3,273.3 L543.7,273.3 L543.7,303.7 L533.3,303.7 L522.9,303.7Z M543.7,273.3 L554.1,273.3 L564.5,273.2 L564.6,303.7 L554.1,303.7 L543.7,303.7Z M605.9,273.0 L616.3,272.9 L626.7,272.7 L627.1,303.2 L616.7,303.3 L606.2,303.4Z M626.7,272.7 L637.1,272.6 L647.4,272.4 L647.9,302.9 L637.5,303.0 L627.1,303.2Z M647.4,272.4 L657.8,272.3 L668.2,272.1 L668.8,302.5 L658.3,302.7 L647.9,302.9Z M668.2,272.1 L678.6,271.9 L688.9,271.7 L689.6,302.1 L679.2,302.3 L668.8,302.5Z M875.5,264.8 L885.9,264.3 L896.2,263.7 L897.9,294.1 L887.5,294.6 L877.1,295.2Z M896.2,263.7 L906.6,263.1 L916.9,262.6 L918.7,292.9 L908.3,293.5 L897.9,294.1Z M916.9,262.6 L927.3,261.9 L937.7,261.3 L939.5,291.7 L929.1,292.3 L918.7,292.9Z M937.7,261.3 L948.0,260.7 L958.4,260.0 L960.3,290.4 L949.9,291.1 L939.5,291.7Z M958.4,260.0 L968.7,259.4 L979.1,258.7 L981.1,289.0 L970.7,289.7 L960.3,290.4Z M979.1,258.7 L993.5,257.7 L1008.0,256.7 L1010.2,287.0 L995.7,288.0 L981.1,289.0Z M252.0,297.2 L262.4,297.6 L272.8,298.1 L271.6,328.5 L261.1,328.0 L250.6,327.6Z M397.8,302.1 L408.2,302.3 L418.7,302.5 L418.1,332.9 L407.6,332.7 L397.1,332.5Z M481.2,303.4 L491.6,303.5 L502.0,303.6 L501.8,334.0 L491.4,333.9 L480.9,333.8Z M502.0,303.6 L512.4,303.6 L522.9,303.7 L522.8,334.1 L512.3,334.0 L501.8,334.0Z M522.9,303.7 L533.3,303.7 L543.7,303.7 L543.7,334.1 L533.2,334.1 L522.8,334.1Z M606.2,303.4 L616.7,303.3 L627.1,303.2 L627.5,333.6 L617.0,333.7 L606.5,333.8Z M710.4,301.6 L720.9,301.3 L731.3,301.0 L732.1,331.4 L721.7,331.7 L711.2,332.0Z M731.3,301.0 L741.7,300.7 L752.1,300.4 L753.1,330.8 L742.6,331.1 L732.1,331.4Z M856.2,296.2 L866.7,295.7 L877.1,295.2 L878.6,325.6 L868.2,326.1 L857.7,326.6Z M877.1,295.2 L887.5,294.6 L897.9,294.1 L899.5,324.5 L889.1,325.0 L878.6,325.6Z M897.9,294.1 L908.3,293.5 L918.7,292.9 L920.4,323.3 L910.0,323.9 L899.5,324.5Z M918.7,292.9 L929.1,292.3 L939.5,291.7 L941.3,322.1 L930.9,322.7 L920.4,323.3Z M939.5,291.7 L949.9,291.1 L960.3,290.4 L962.2,320.8 L951.8,321.4 L941.3,322.1Z M960.3,290.4 L970.7,289.7 L981.1,289.0 L983.1,319.4 L972.7,320.1 L962.2,320.8Z M981.1,289.0 L995.7,288.0 L1010.2,287.0 L1012.4,317.4 L997.8,318.4 L983.1,319.4Z M104.3,319.4 L114.7,320.1 L125.2,320.8 L123.2,351.1 L112.7,350.4 L102.2,349.7Z M125.2,320.8 L135.6,321.4 L146.1,322.1 L144.2,352.4 L133.7,351.8 L123.2,351.1Z M229.7,326.6 L240.2,327.1 L250.6,327.6 L249.3,358.0 L238.8,357.5 L228.3,357.0Z M250.6,327.6 L261.1,328.0 L271.6,328.5 L270.3,358.9 L259.8,358.4 L249.3,358.0Z M418.1,332.9 L428.5,333.1 L439.0,333.3 L438.5,363.7 L428.0,363.5 L417.5,363.3Z M439.0,333.3 L449.5,333.4 L459.9,333.6 L459.6,364.0 L449.0,363.9 L438.5,363.7Z M459.9,333.6 L470.4,333.7 L480.9,333.8 L480.6,364.2 L470.1,364.1 L459.6,364.0Z M480.9,333.8 L491.4,333.9 L501.8,334.0 L501.6,364.4 L491.1,364.3 L480.6,364.2Z M501.8,334.0 L512.3,334.0 L522.8,334.1 L522.7,364.5 L512.1,364.5 L501.6,364.4Z M522.8,334.1 L533.2,334.1 L543.7,334.1 L543.7,364.5 L533.2,364.5 L522.7,364.5Z M543.7,334.1 L554.2,334.1 L564.6,334.1 L564.7,364.5 L554.2,364.5 L543.7,364.5Z M564.6,334.1 L575.1,334.0 L585.6,334.0 L585.8,364.4 L575.3,364.5 L564.7,364.5Z M585.6,334.0 L596.1,333.9 L606.5,333.8 L606.8,364.2 L596.3,364.3 L585.8,364.4Z M606.5,333.8 L617.0,333.7 L627.5,333.6 L627.9,364.0 L617.3,364.1 L606.8,364.2Z M627.5,333.6 L637.9,333.4 L648.4,333.3 L648.9,363.7 L638.4,363.9 L627.9,364.0Z M711.2,332.0 L721.7,331.7 L732.1,331.4 L733.0,361.8 L722.5,362.1 L712.0,362.4Z M732.1,331.4 L742.6,331.1 L753.1,330.8 L754.1,361.2 L743.5,361.5 L733.0,361.8Z M753.1,330.8 L763.5,330.4 L774.0,330.1 L775.1,360.5 L764.6,360.8 L754.1,361.2Z M774.0,330.1 L784.5,329.7 L794.9,329.3 L796.1,359.7 L785.6,360.1 L775.1,360.5Z M794.9,329.3 L805.4,328.9 L815.9,328.5 L817.1,358.9 L806.6,359.3 L796.1,359.7Z M815.9,328.5 L826.3,328.0 L836.8,327.6 L838.1,358.0 L827.6,358.4 L817.1,358.9Z M857.7,326.6 L868.2,326.1 L878.6,325.6 L880.2,355.9 L869.7,356.5 L859.2,357.0Z M878.6,325.6 L889.1,325.0 L899.5,324.5 L901.2,354.8 L890.7,355.4 L880.2,355.9Z M920.4,323.3 L930.9,322.7 L941.3,322.1 L943.2,352.4 L932.7,353.1 L922.2,353.7Z M941.3,322.1 L951.8,321.4 L962.2,320.8 L964.2,351.1 L953.7,351.8 L943.2,352.4Z M962.2,320.8 L972.7,320.1 L983.1,319.4 L985.2,349.7 L974.7,350.4 L964.2,351.1Z M983.1,319.4 L997.8,318.4 L1012.4,317.4 L1014.6,347.7 L999.9,348.7 L985.2,349.7Z M102.2,349.7 L112.7,350.4 L123.2,351.1 L121.3,381.5 L110.7,380.8 L100.2,380.1Z M123.2,351.1 L133.7,351.8 L144.2,352.4 L142.4,382.8 L131.8,382.1 L121.3,381.5Z M354.4,361.8 L364.9,362.1 L375.4,362.4 L374.6,392.8 L364.1,392.5 L353.5,392.2Z M375.4,362.4 L385.9,362.7 L396.5,362.9 L395.8,393.3 L385.2,393.1 L374.6,392.8Z M417.5,363.3 L428.0,363.5 L438.5,363.7 L438.0,394.1 L427.5,393.9 L416.9,393.7Z M438.5,363.7 L449.0,363.9 L459.6,364.0 L459.2,394.4 L448.6,394.3 L438.0,394.1Z M480.6,364.2 L491.1,364.3 L501.6,364.4 L501.4,394.8 L490.9,394.8 L480.3,394.7Z M522.7,364.5 L533.2,364.5 L543.7,364.5 L543.7,395.0 L533.1,395.0 L522.6,394.9Z M543.7,364.5 L554.2,364.5 L564.7,364.5 L564.8,394.9 L554.3,395.0 L543.7,395.0Z M585.8,364.4 L596.3,364.3 L606.8,364.2 L607.1,394.7 L596.5,394.8 L586.0,394.8Z M627.9,364.0 L638.4,363.9 L648.9,363.7 L649.4,394.1 L638.8,394.3 L628.2,394.4Z M669.9,363.3 L680.4,363.1 L691.0,362.9 L691.6,393.3 L681.1,393.5 L670.5,393.7Z M691.0,362.9 L701.5,362.7 L712.0,362.4 L712.8,392.8 L702.2,393.1 L691.6,393.3Z M712.0,362.4 L722.5,362.1 L733.0,361.8 L733.9,392.2 L723.3,392.5 L712.8,392.8Z M733.0,361.8 L743.5,361.5 L754.1,361.2 L755.0,391.6 L744.5,391.9 L733.9,392.2Z M754.1,361.2 L764.6,360.8 L775.1,360.5 L776.1,390.9 L765.6,391.2 L755.0,391.6Z M775.1,360.5 L785.6,360.1 L796.1,359.7 L797.3,390.1 L786.7,390.5 L776.1,390.9Z M838.1,358.0 L848.6,357.5 L859.2,357.0 L860.6,387.4 L850.1,387.9 L839.5,388.4Z M859.2,357.0 L869.7,356.5 L880.2,355.9 L881.7,386.3 L871.2,386.9 L860.6,387.4Z M922.2,353.7 L932.7,353.1 L943.2,352.4 L945.0,382.8 L934.5,383.4 L923.9,384.0Z M943.2,352.4 L953.7,351.8 L964.2,351.1 L966.1,381.5 L955.6,382.1 L945.0,382.8Z M964.2,351.1 L974.7,350.4 L985.2,349.7 L987.2,380.1 L976.7,380.8 L966.1,381.5Z M985.2,349.7 L999.9,348.7 L1014.6,347.7 L1016.7,378.0 L1002.0,379.1 L987.2,380.1Z M205.7,386.3 L216.2,386.9 L226.8,387.4 L225.3,417.8 L214.7,417.3 L204.1,416.7Z M311.3,390.9 L321.8,391.2 L332.4,391.6 L331.4,422.0 L320.8,421.7 L310.2,421.3Z M480.3,394.7 L490.9,394.8 L501.4,394.8 L501.2,425.3 L490.6,425.2 L480.0,425.1Z M501.4,394.8 L512.0,394.9 L522.6,394.9 L522.5,425.4 L511.9,425.3 L501.2,425.3Z M522.6,394.9 L533.1,395.0 L543.7,395.0 L543.7,425.4 L533.1,425.4 L522.5,425.4Z M543.7,395.0 L554.3,395.0 L564.8,394.9 L564.9,425.4 L554.3,425.4 L543.7,425.4Z M564.8,394.9 L575.4,394.9 L586.0,394.8 L586.2,425.3 L575.6,425.3 L564.9,425.4Z M586.0,394.8 L596.5,394.8 L607.1,394.7 L607.4,425.1 L596.8,425.2 L586.2,425.3Z M607.1,394.7 L617.7,394.6 L628.2,394.4 L628.6,424.8 L618.0,425.0 L607.4,425.1Z M649.4,394.1 L659.9,393.9 L670.5,393.7 L671.1,424.2 L660.5,424.4 L649.9,424.5Z M670.5,393.7 L681.1,393.5 L691.6,393.3 L692.3,423.7 L681.7,424.0 L671.1,424.2Z M691.6,393.3 L702.2,393.1 L712.8,392.8 L713.5,423.2 L702.9,423.5 L692.3,423.7Z M712.8,392.8 L723.3,392.5 L733.9,392.2 L734.8,422.6 L724.2,422.9 L713.5,423.2Z M733.9,392.2 L744.5,391.9 L755.0,391.6 L756.0,422.0 L745.4,422.3 L734.8,422.6Z M755.0,391.6 L765.6,391.2 L776.1,390.9 L777.2,421.3 L766.6,421.7 L756.0,422.0Z M776.1,390.9 L786.7,390.5 L797.3,390.1 L798.4,420.5 L787.8,420.9 L777.2,421.3Z M797.3,390.1 L807.8,389.7 L818.4,389.3 L819.6,419.7 L809.0,420.1 L798.4,420.5Z M818.4,389.3 L828.9,388.8 L839.5,388.4 L840.9,418.7 L830.3,419.2 L819.6,419.7Z M839.5,388.4 L850.1,387.9 L860.6,387.4 L862.1,417.8 L851.5,418.3 L840.9,418.7Z M860.6,387.4 L871.2,386.9 L881.7,386.3 L883.3,416.7 L872.7,417.3 L862.1,417.8Z M902.8,385.2 L913.4,384.6 L923.9,384.0 L925.7,414.4 L915.1,415.0 L904.5,415.6Z M945.0,382.8 L955.6,382.1 L966.1,381.5 L968.1,411.8 L957.5,412.5 L946.9,413.2Z M966.1,381.5 L976.7,380.8 L987.2,380.1 L989.2,410.5 L978.7,411.2 L968.1,411.8Z M987.2,380.1 L1002.0,379.1 L1016.7,378.0 L1018.9,408.4 L1004.1,409.4 L989.2,410.5Z M289.0,420.5 L299.6,420.9 L310.2,421.3 L309.1,451.7 L298.5,451.3 L287.8,450.9Z M310.2,421.3 L320.8,421.7 L331.4,422.0 L330.4,452.4 L319.8,452.1 L309.1,451.7Z M352.6,422.6 L363.3,422.9 L373.9,423.2 L373.1,453.6 L362.4,453.4 L351.8,453.1Z M373.9,423.2 L384.5,423.5 L395.1,423.7 L394.4,454.2 L383.8,453.9 L373.1,453.6Z M564.9,425.4 L575.6,425.3 L586.2,425.3 L586.4,455.7 L575.7,455.7 L565.0,455.8Z M586.2,425.3 L596.8,425.2 L607.4,425.1 L607.7,455.5 L597.0,455.6 L586.4,455.7Z M628.6,424.8 L639.2,424.7 L649.9,424.5 L650.3,455.0 L639.7,455.1 L629.0,455.3Z M649.9,424.5 L660.5,424.4 L671.1,424.2 L671.7,454.6 L661.0,454.8 L650.3,455.0Z M671.1,424.2 L681.7,424.0 L692.3,423.7 L693.0,454.2 L682.3,454.4 L671.7,454.6Z M692.3,423.7 L702.9,423.5 L713.5,423.2 L714.3,453.6 L703.7,453.9 L693.0,454.2Z M713.5,423.2 L724.2,422.9 L734.8,422.6 L735.6,453.1 L725.0,453.4 L714.3,453.6Z M734.8,422.6 L745.4,422.3 L756.0,422.0 L757.0,452.4 L746.3,452.7 L735.6,453.1Z M777.2,421.3 L787.8,420.9 L798.4,420.5 L799.6,450.9 L788.9,451.3 L778.3,451.7Z M798.4,420.5 L809.0,420.1 L819.6,419.7 L820.9,450.1 L810.3,450.5 L799.6,450.9Z M819.6,419.7 L830.3,419.2 L840.9,418.7 L842.2,449.1 L831.6,449.6 L820.9,450.1Z M840.9,418.7 L851.5,418.3 L862.1,417.8 L863.5,448.2 L852.9,448.7 L842.2,449.1Z M862.1,417.8 L872.7,417.3 L883.3,416.7 L884.8,447.1 L874.2,447.6 L863.5,448.2Z M925.7,414.4 L936.3,413.8 L946.9,413.2 L948.7,443.5 L938.1,444.2 L927.4,444.8Z M946.9,413.2 L957.5,412.5 L968.1,411.8 L970.0,442.2 L959.4,442.9 L948.7,443.5Z M968.1,411.8 L978.7,411.2 L989.2,410.5 L991.3,440.8 L980.6,441.5 L970.0,442.2Z M989.2,410.5 L1004.1,409.4 L1018.9,408.4 L1021.1,438.7 L1006.2,439.8 L991.3,440.8Z M202.6,447.1 L213.2,447.6 L223.9,448.2 L222.4,478.6 L211.7,478.0 L201.0,477.5Z M266.5,450.1 L277.2,450.5 L287.8,450.9 L286.7,481.3 L275.9,480.9 L265.2,480.5Z M287.8,450.9 L298.5,451.3 L309.1,451.7 L308.1,482.1 L297.4,481.7 L286.7,481.3Z M458.4,455.3 L469.1,455.4 L479.7,455.5 L479.4,485.9 L468.7,485.8 L458.0,485.7Z M543.7,455.8 L554.4,455.8 L565.0,455.8 L565.1,486.2 L554.4,486.2 L543.7,486.3Z M565.0,455.8 L575.7,455.7 L586.4,455.7 L586.6,486.1 L575.8,486.2 L565.1,486.2Z M586.4,455.7 L597.0,455.6 L607.7,455.5 L608.0,485.9 L597.3,486.0 L586.6,486.1Z M607.7,455.5 L618.4,455.4 L629.0,455.3 L629.4,485.7 L618.7,485.8 L608.0,485.9Z M629.0,455.3 L639.7,455.1 L650.3,455.0 L650.8,485.4 L640.1,485.6 L629.4,485.7Z M650.3,455.0 L661.0,454.8 L671.7,454.6 L672.3,485.0 L661.5,485.2 L650.8,485.4Z M671.7,454.6 L682.3,454.4 L693.0,454.2 L693.7,484.6 L683.0,484.8 L672.3,485.0Z M693.0,454.2 L703.7,453.9 L714.3,453.6 L715.1,484.1 L704.4,484.3 L693.7,484.6Z M735.6,453.1 L746.3,452.7 L757.0,452.4 L757.9,482.8 L747.2,483.2 L736.5,483.5Z M757.0,452.4 L767.6,452.1 L778.3,451.7 L779.3,482.1 L768.6,482.5 L757.9,482.8Z M778.3,451.7 L788.9,451.3 L799.6,450.9 L800.8,481.3 L790.1,481.7 L779.3,482.1Z M799.6,450.9 L810.3,450.5 L820.9,450.1 L822.2,480.5 L811.5,480.9 L800.8,481.3Z M820.9,450.1 L831.6,449.6 L842.2,449.1 L843.6,479.6 L832.9,480.0 L822.2,480.5Z M842.2,449.1 L852.9,448.7 L863.5,448.2 L865.0,478.6 L854.3,479.1 L843.6,479.6Z M863.5,448.2 L874.2,447.6 L884.8,447.1 L886.4,477.5 L875.7,478.0 L865.0,478.6Z M884.8,447.1 L895.5,446.6 L906.1,446.0 L907.8,476.4 L897.1,476.9 L886.4,477.5Z M991.3,440.8 L1006.2,439.8 L1021.1,438.7 L1023.3,469.1 L1008.3,470.2 L993.3,471.2Z M179.6,476.4 L190.3,476.9 L201.0,477.5 L199.5,507.9 L188.7,507.3 L178.0,506.8Z M243.8,479.6 L254.5,480.0 L265.2,480.5 L264.0,510.9 L253.2,510.4 L242.5,510.0Z M265.2,480.5 L275.9,480.9 L286.7,481.3 L285.5,511.7 L274.7,511.3 L264.0,510.9Z M286.7,481.3 L297.4,481.7 L308.1,482.1 L307.0,512.5 L296.2,512.1 L285.5,511.7Z M308.1,482.1 L318.8,482.5 L329.5,482.8 L328.5,513.3 L317.8,512.9 L307.0,512.5Z M350.9,483.5 L361.6,483.8 L372.3,484.1 L371.5,514.5 L360.8,514.2 L350.0,513.9Z M458.0,485.7 L468.7,485.8 L479.4,485.9 L479.1,516.4 L468.4,516.3 L457.6,516.1Z M479.4,485.9 L490.1,486.0 L500.9,486.1 L500.7,516.6 L489.9,516.5 L479.1,516.4Z M500.9,486.1 L511.6,486.2 L522.3,486.2 L522.2,516.7 L511.4,516.6 L500.7,516.6Z M565.1,486.2 L575.8,486.2 L586.6,486.1 L586.8,516.6 L576.0,516.6 L565.2,516.7Z M586.6,486.1 L597.3,486.0 L608.0,485.9 L608.3,516.4 L597.5,516.5 L586.8,516.6Z M650.8,485.4 L661.5,485.2 L672.3,485.0 L672.8,515.5 L662.1,515.6 L651.3,515.8Z M672.3,485.0 L683.0,484.8 L693.7,484.6 L694.4,515.0 L683.6,515.2 L672.8,515.5Z M693.7,484.6 L704.4,484.3 L715.1,484.1 L715.9,514.5 L705.1,514.8 L694.4,515.0Z M736.5,483.5 L747.2,483.2 L757.9,482.8 L758.9,513.3 L748.1,513.6 L737.4,513.9Z M757.9,482.8 L768.6,482.5 L779.3,482.1 L780.4,512.5 L769.7,512.9 L758.9,513.3Z M199.5,507.9 L210.2,508.4 L221.0,509.0 L219.5,539.4 L208.7,538.8 L197.9,538.3Z M221.0,509.0 L231.7,509.5 L242.5,510.0 L241.1,540.4 L230.3,539.9 L219.5,539.4Z M242.5,510.0 L253.2,510.4 L264.0,510.9 L262.7,541.3 L251.9,540.8 L241.1,540.4Z M285.5,511.7 L296.2,512.1 L307.0,512.5 L305.9,543.0 L295.1,542.6 L284.3,542.2Z M328.5,513.3 L339.3,513.6 L350.0,513.9 L349.1,544.3 L338.3,544.0 L327.5,543.7Z M219.5,539.4 L230.3,539.9 L241.1,540.4 L239.8,570.8 L228.9,570.3 L218.1,569.8Z M262.7,541.3 L273.5,541.7 L284.3,542.2 L283.2,572.6 L272.3,572.2 L261.5,571.7Z M284.3,542.2 L295.1,542.6 L305.9,543.0 L304.9,573.4 L294.0,573.0 L283.2,572.6Z M261.5,571.7 L272.3,572.2 L283.2,572.6 L282.0,603.0 L271.1,602.6 L260.2,602.1Z M283.2,572.6 L294.0,573.0 L304.9,573.4 L303.8,603.8 L292.9,603.4 L282.0,603.0Z M5.2,6.6 L25.1,8.3 L45.0,10.0 L42.6,40.3 L22.6,38.7 L2.6,37.0Z M64.9,11.5 L74.9,12.3 L84.8,13.0 L82.6,43.4 L72.6,42.6 L62.6,41.9Z M104.7,14.4 L114.7,15.1 L124.7,15.8 L122.6,46.2 L112.6,45.5 L102.6,44.8Z M164.5,18.4 L174.5,19.0 L184.4,19.5 L182.7,49.9 L172.7,49.3 L162.7,48.7Z M184.4,19.5 L194.4,20.1 L204.4,20.7 L202.7,51.0 L192.7,50.5 L182.7,49.9Z M224.3,21.7 L234.3,22.2 L244.3,22.7 L242.8,53.1 L232.8,52.6 L222.8,52.1Z M922.9,18.4 L932.9,17.7 L942.8,17.1 L944.8,47.5 L934.8,48.1 L924.7,48.7Z M122.6,46.2 L132.6,46.8 L142.6,47.5 L140.7,77.9 L130.6,77.2 L120.6,76.5Z M241.4,83.5 L251.4,84.0 L261.5,84.4 L260.1,114.8 L250.0,114.4 L239.9,113.9Z M684.8,89.2 L694.9,88.9 L705.0,88.7 L705.8,119.1 L695.7,119.3 L685.5,119.6Z M-2.7,97.6 L17.5,99.3 L37.7,101.0 L35.3,131.3 L15.0,129.6 L-5.3,127.9Z M37.7,101.0 L47.8,101.8 L57.9,102.5 L55.6,132.9 L45.4,132.1 L35.3,131.3Z M78.1,104.1 L88.2,104.8 L98.3,105.5 L96.2,135.9 L86.0,135.1 L75.9,134.4Z M199.4,111.8 L209.6,112.4 L219.7,112.9 L218.1,143.3 L207.9,142.7 L197.8,142.2Z M766.5,117.2 L776.7,116.9 L786.8,116.5 L787.9,146.9 L777.8,147.3 L767.6,147.7Z M-5.3,127.9 L15.0,129.6 L35.3,131.3 L32.9,161.6 L12.5,160.0 L-7.9,158.2Z M35.3,131.3 L45.4,132.1 L55.6,132.9 L53.3,163.2 L43.1,162.4 L32.9,161.6Z M96.2,135.9 L106.3,136.6 L116.5,137.3 L114.5,167.6 L104.3,166.9 L94.1,166.2Z M116.5,137.3 L126.7,137.9 L136.8,138.6 L134.9,169.0 L124.7,168.3 L114.5,167.6Z M136.8,138.6 L147.0,139.2 L157.1,139.9 L155.3,170.2 L145.1,169.6 L134.9,169.0Z M258.8,145.2 L269.0,145.7 L279.1,146.1 L277.9,176.5 L267.6,176.1 L257.4,175.6Z M53.3,163.2 L63.5,164.0 L73.7,164.8 L71.4,195.1 L61.2,194.3 L50.9,193.6Z M114.5,167.6 L124.7,168.3 L134.9,169.0 L132.9,199.3 L122.7,198.7 L112.4,198.0Z M605.1,181.7 L615.3,181.6 L625.5,181.5 L625.9,211.9 L615.6,212.0 L605.4,212.1Z M972.9,167.6 L987.2,166.6 L1001.5,165.6 L1003.7,196.0 L989.3,197.0 L975.0,198.0Z M-10.5,188.5 L10.0,190.3 L30.4,191.9 L28.0,222.3 L7.4,220.6 L-13.1,218.8Z M30.4,191.9 L40.7,192.8 L50.9,193.6 L48.6,223.9 L38.3,223.1 L28.0,222.3Z M91.9,196.6 L102.2,197.3 L112.4,198.0 L110.4,228.3 L100.1,227.6 L89.8,226.9Z M132.9,199.3 L143.2,200.0 L153.4,200.6 L151.6,231.0 L141.3,230.3 L131.0,229.7Z M174.0,201.8 L184.2,202.4 L194.5,203.0 L192.8,233.3 L182.5,232.8 L172.2,232.2Z M215.0,204.0 L225.3,204.6 L235.5,205.1 L234.1,235.4 L223.8,234.9 L213.5,234.4Z M256.1,206.0 L266.3,206.5 L276.6,206.9 L275.3,237.3 L265.0,236.8 L254.7,236.4Z M297.1,207.7 L307.4,208.1 L317.7,208.5 L316.6,238.9 L306.3,238.5 L296.0,238.1Z M89.8,226.9 L100.1,227.6 L110.4,228.3 L108.4,258.7 L98.0,258.0 L87.7,257.3Z M151.6,231.0 L161.9,231.6 L172.2,232.2 L170.5,262.6 L160.1,261.9 L149.8,261.3Z M234.1,235.4 L244.4,235.9 L254.7,236.4 L253.3,266.8 L243.0,266.3 L232.6,265.8Z M275.3,237.3 L285.7,237.7 L296.0,238.1 L294.8,268.5 L284.4,268.1 L274.1,267.7Z M378.5,240.7 L388.8,241.0 L399.2,241.2 L398.5,271.7 L388.1,271.4 L377.8,271.2Z M440.5,242.0 L450.8,242.2 L461.1,242.3 L460.7,272.7 L450.3,272.6 L440.0,272.4Z M543.7,242.9 L554.0,242.8 L564.4,242.8 L564.5,273.2 L554.1,273.3 L543.7,273.3Z M67.0,255.8 L77.3,256.5 L87.7,257.3 L85.5,287.6 L75.1,286.9 L64.7,286.1Z M87.7,257.3 L98.0,258.0 L108.4,258.7 L106.3,289.0 L95.9,288.3 L85.5,287.6Z M232.6,265.8 L243.0,266.3 L253.3,266.8 L252.0,297.2 L241.6,296.7 L231.2,296.2Z M564.5,273.2 L574.8,273.2 L585.2,273.1 L585.4,303.6 L575.0,303.6 L564.6,303.7Z M85.5,287.6 L95.9,288.3 L106.3,289.0 L104.3,319.4 L93.8,318.7 L83.4,317.9Z M106.3,289.0 L116.7,289.7 L127.1,290.4 L125.2,320.8 L114.7,320.1 L104.3,319.4Z M210.4,295.2 L220.8,295.7 L231.2,296.2 L229.7,326.6 L219.3,326.1 L208.8,325.6Z M231.2,296.2 L241.6,296.7 L252.0,297.2 L250.6,327.6 L240.2,327.1 L229.7,326.6Z M418.7,302.5 L429.1,302.7 L439.5,302.9 L439.0,333.3 L428.5,333.1 L418.1,332.9Z M439.5,302.9 L449.9,303.0 L460.3,303.2 L459.9,333.6 L449.5,333.4 L439.0,333.3Z M460.3,303.2 L470.8,303.3 L481.2,303.4 L480.9,333.8 L470.4,333.7 L459.9,333.6Z M564.6,303.7 L575.0,303.6 L585.4,303.6 L585.6,334.0 L575.1,334.0 L564.6,334.1Z M208.8,325.6 L219.3,326.1 L229.7,326.6 L228.3,357.0 L217.8,356.5 L207.2,355.9Z M376.2,332.0 L386.7,332.2 L397.1,332.5 L396.5,362.9 L385.9,362.7 L375.4,362.4Z M836.8,327.6 L847.2,327.1 L857.7,326.6 L859.2,357.0 L848.6,357.5 L838.1,358.0Z M186.2,354.8 L196.7,355.4 L207.2,355.9 L205.7,386.3 L195.1,385.8 L184.6,385.2Z M207.2,355.9 L217.8,356.5 L228.3,357.0 L226.8,387.4 L216.2,386.9 L205.7,386.3Z M291.3,359.7 L301.8,360.1 L312.3,360.5 L311.3,390.9 L300.7,390.5 L290.1,390.1Z M312.3,360.5 L322.8,360.8 L333.4,361.2 L332.4,391.6 L321.8,391.2 L311.3,390.9Z M333.4,361.2 L343.9,361.5 L354.4,361.8 L353.5,392.2 L343.0,391.9 L332.4,391.6Z M396.5,362.9 L407.0,363.1 L417.5,363.3 L416.9,393.7 L406.3,393.5 L395.8,393.3Z M184.6,385.2 L195.1,385.8 L205.7,386.3 L204.1,416.7 L193.5,416.2 L182.9,415.6Z M353.5,392.2 L364.1,392.5 L374.6,392.8 L373.9,423.2 L363.3,422.9 L352.6,422.6Z M374.6,392.8 L385.2,393.1 L395.8,393.3 L395.1,423.7 L384.5,423.5 L373.9,423.2Z M438.0,394.1 L448.6,394.3 L459.2,394.4 L458.8,424.8 L448.2,424.7 L437.5,424.5Z M459.2,394.4 L469.7,394.6 L480.3,394.7 L480.0,425.1 L469.4,425.0 L458.8,424.8Z M628.2,394.4 L638.8,394.3 L649.4,394.1 L649.9,424.5 L639.2,424.7 L628.6,424.8Z M140.5,413.2 L151.1,413.8 L161.7,414.4 L160.0,444.8 L149.3,444.2 L138.7,443.5Z M182.9,415.6 L193.5,416.2 L204.1,416.7 L202.6,447.1 L191.9,446.6 L181.3,446.0Z M204.1,416.7 L214.7,417.3 L225.3,417.8 L223.9,448.2 L213.2,447.6 L202.6,447.1Z M480.0,425.1 L490.6,425.2 L501.2,425.3 L501.0,455.7 L490.4,455.6 L479.7,455.5Z M522.5,425.4 L533.1,425.4 L543.7,425.4 L543.7,455.8 L533.0,455.8 L522.4,455.8Z M543.7,425.4 L554.3,425.4 L564.9,425.4 L565.0,455.8 L554.4,455.8 L543.7,455.8Z M607.4,425.1 L618.0,425.0 L628.6,424.8 L629.0,455.3 L618.4,455.4 L607.7,455.5Z M160.0,444.8 L170.6,445.4 L181.3,446.0 L179.6,476.4 L168.9,475.8 L158.2,475.2Z M181.3,446.0 L191.9,446.6 L202.6,447.1 L201.0,477.5 L190.3,476.9 L179.6,476.4Z M245.2,449.1 L255.8,449.6 L266.5,450.1 L265.2,480.5 L254.5,480.0 L243.8,479.6Z M330.4,452.4 L341.1,452.7 L351.8,453.1 L350.9,483.5 L340.2,483.2 L329.5,482.8Z M479.7,455.5 L490.4,455.6 L501.0,455.7 L500.9,486.1 L490.1,486.0 L479.4,485.9Z M201.0,477.5 L211.7,478.0 L222.4,478.6 L221.0,509.0 L210.2,508.4 L199.5,507.9Z M222.4,478.6 L233.1,479.1 L243.8,479.6 L242.5,510.0 L231.7,509.5 L221.0,509.0Z M522.3,486.2 L533.0,486.2 L543.7,486.3 L543.7,516.7 L532.9,516.7 L522.2,516.7Z M307.0,512.5 L317.8,512.9 L328.5,513.3 L327.5,543.7 L316.7,543.3 L305.9,543.0Z M241.1,540.4 L251.9,540.8 L262.7,541.3 L261.5,571.7 L250.6,571.3 L239.8,570.8Z M305.9,543.0 L316.7,543.3 L327.5,543.7 L326.6,574.1 L315.7,573.8 L304.9,573.4Z M392.4,545.4 L403.2,545.7 L414.0,545.9 L413.4,576.3 L402.5,576.1 L391.7,575.9Z M239.8,570.8 L250.6,571.3 L261.5,571.7 L260.2,602.1 L249.3,601.7 L238.4,601.2Z M304.9,573.4 L315.7,573.8 L326.6,574.1 L325.6,604.5 L314.7,604.2 L303.8,603.8Z M391.7,575.9 L402.5,576.1 L413.4,576.3 L412.8,606.8 L401.9,606.6 L391.0,606.3Z M45.0,10.0 L54.9,10.7 L64.9,11.5 L62.6,41.9 L52.6,41.1 L42.6,40.3Z M124.7,15.8 L134.6,16.5 L144.6,17.1 L142.6,47.5 L132.6,46.8 L122.6,46.2Z M962.8,15.8 L976.7,14.9 L990.6,13.9 L992.8,44.2 L978.8,45.2 L964.8,46.2Z M42.6,40.3 L52.6,41.1 L62.6,41.9 L60.2,72.2 L50.2,71.4 L40.1,70.6Z M201.1,81.4 L211.2,82.0 L221.2,82.5 L219.7,112.9 L209.6,112.4 L199.4,111.8Z M786.8,116.5 L796.9,116.1 L807.0,115.7 L808.3,146.1 L798.1,146.5 L787.9,146.9Z M157.1,139.9 L167.3,140.5 L177.5,141.1 L175.7,171.4 L165.5,170.8 L155.3,170.2Z M197.8,142.2 L207.9,142.7 L218.1,143.3 L216.6,173.7 L206.3,173.1 L196.1,172.6Z M279.1,146.1 L289.3,146.5 L299.5,146.9 L298.3,177.3 L288.1,176.9 L277.9,176.5Z M604.8,151.3 L615.0,151.2 L625.1,151.1 L625.5,181.5 L615.3,181.6 L605.1,181.7Z M73.7,164.8 L83.9,165.5 L94.1,166.2 L91.9,196.6 L81.7,195.8 L71.4,195.1Z M155.3,170.2 L165.5,170.8 L175.7,171.4 L174.0,201.8 L163.7,201.2 L153.4,200.6Z M196.1,172.6 L206.3,173.1 L216.6,173.7 L215.0,204.0 L204.7,203.5 L194.5,203.0Z M257.4,175.6 L267.6,176.1 L277.9,176.5 L276.6,206.9 L266.3,206.5 L256.1,206.0Z M277.9,176.5 L288.1,176.9 L298.3,177.3 L297.1,207.7 L286.9,207.3 L276.6,206.9Z M71.4,195.1 L81.7,195.8 L91.9,196.6 L89.8,226.9 L79.5,226.2 L69.2,225.4Z M153.4,200.6 L163.7,201.2 L174.0,201.8 L172.2,232.2 L161.9,231.6 L151.6,231.0Z M110.4,228.3 L120.7,229.0 L131.0,229.7 L129.1,260.0 L118.7,259.4 L108.4,258.7Z M172.2,232.2 L182.5,232.8 L192.8,233.3 L191.2,263.7 L180.8,263.1 L170.5,262.6Z M254.7,236.4 L265.0,236.8 L275.3,237.3 L274.1,267.7 L263.7,267.2 L253.3,266.8Z M419.8,241.7 L430.1,241.9 L440.5,242.0 L440.0,272.4 L429.6,272.3 L419.2,272.1Z M191.2,263.7 L201.5,264.3 L211.9,264.8 L210.4,295.2 L199.9,294.6 L189.5,294.1Z M253.3,266.8 L263.7,267.2 L274.1,267.7 L272.8,298.1 L262.4,297.6 L252.0,297.2Z M294.8,268.5 L305.2,268.9 L315.5,269.3 L314.5,299.7 L304.1,299.3 L293.6,298.9Z M315.5,269.3 L325.9,269.6 L336.3,270.0 L335.3,300.4 L324.9,300.0 L314.5,299.7Z M357.0,270.6 L367.4,270.9 L377.8,271.2 L377.0,301.6 L366.6,301.3 L356.1,301.0Z M460.7,272.7 L471.1,272.9 L481.5,273.0 L481.2,303.4 L470.8,303.3 L460.3,303.2Z M272.8,298.1 L283.2,298.5 L293.6,298.9 L292.5,329.3 L282.0,328.9 L271.6,328.5Z M335.3,300.4 L345.7,300.7 L356.1,301.0 L355.3,331.4 L344.8,331.1 L334.3,330.8Z M356.1,301.0 L366.6,301.3 L377.0,301.6 L376.2,332.0 L365.7,331.7 L355.3,331.4Z M543.7,303.7 L554.1,303.7 L564.6,303.7 L564.6,334.1 L554.2,334.1 L543.7,334.1Z M187.9,324.5 L198.3,325.0 L208.8,325.6 L207.2,355.9 L196.7,355.4 L186.2,354.8Z M271.6,328.5 L282.0,328.9 L292.5,329.3 L291.3,359.7 L280.8,359.3 L270.3,358.9Z M292.5,329.3 L302.9,329.7 L313.4,330.1 L312.3,360.5 L301.8,360.1 L291.3,359.7Z M228.3,357.0 L238.8,357.5 L249.3,358.0 L247.9,388.4 L237.4,387.9 L226.8,387.4Z M270.3,358.9 L280.8,359.3 L291.3,359.7 L290.1,390.1 L279.6,389.7 L269.0,389.3Z M459.6,364.0 L470.1,364.1 L480.6,364.2 L480.3,394.7 L469.7,394.6 L459.2,394.4Z M79.1,378.6 L89.7,379.4 L100.2,380.1 L98.2,410.5 L87.6,409.7 L77.0,409.0Z M100.2,380.1 L110.7,380.8 L121.3,381.5 L119.4,411.8 L108.8,411.2 L98.2,410.5Z M121.3,381.5 L131.8,382.1 L142.4,382.8 L140.5,413.2 L129.9,412.5 L119.4,411.8Z M226.8,387.4 L237.4,387.9 L247.9,388.4 L246.6,418.7 L235.9,418.3 L225.3,417.8Z M269.0,389.3 L279.6,389.7 L290.1,390.1 L289.0,420.5 L278.4,420.1 L267.8,419.7Z M332.4,391.6 L343.0,391.9 L353.5,392.2 L352.6,422.6 L342.0,422.3 L331.4,422.0Z M395.8,393.3 L406.3,393.5 L416.9,393.7 L416.3,424.2 L405.7,424.0 L395.1,423.7Z M246.6,418.7 L257.2,419.2 L267.8,419.7 L266.5,450.1 L255.8,449.6 L245.2,449.1Z M331.4,422.0 L342.0,422.3 L352.6,422.6 L351.8,453.1 L341.1,452.7 L330.4,452.4Z M501.2,425.3 L511.9,425.3 L522.5,425.4 L522.4,455.8 L511.7,455.7 L501.0,455.7Z M223.9,448.2 L234.5,448.7 L245.2,449.1 L243.8,479.6 L233.1,479.1 L222.4,478.6Z M309.1,451.7 L319.8,452.1 L330.4,452.4 L329.5,482.8 L318.8,482.5 L308.1,482.1Z M415.7,454.6 L426.4,454.8 L437.1,455.0 L436.6,485.4 L425.9,485.2 L415.2,485.0Z M522.4,455.8 L533.0,455.8 L543.7,455.8 L543.7,486.3 L533.0,486.2 L522.3,486.2Z M329.5,482.8 L340.2,483.2 L350.9,483.5 L350.0,513.9 L339.3,513.6 L328.5,513.3Z M372.3,484.1 L383.0,484.3 L393.7,484.6 L393.1,515.0 L382.3,514.8 L371.5,514.5Z M393.7,484.6 L404.4,484.8 L415.2,485.0 L414.6,515.5 L403.8,515.2 L393.1,515.0Z M415.2,485.0 L425.9,485.2 L436.6,485.4 L436.1,515.8 L425.3,515.6 L414.6,515.5Z M608.0,485.9 L618.7,485.8 L629.4,485.7 L629.8,516.1 L619.0,516.3 L608.3,516.4Z M350.0,513.9 L360.8,514.2 L371.5,514.5 L370.8,544.9 L360.0,544.6 L349.1,544.3Z M393.1,515.0 L403.8,515.2 L414.6,515.5 L414.0,545.9 L403.2,545.7 L392.4,545.4Z M327.5,543.7 L338.3,544.0 L349.1,544.3 L348.3,574.8 L337.4,574.4 L326.6,574.1Z M349.1,544.3 L360.0,544.6 L370.8,544.9 L370.0,575.4 L359.1,575.1 L348.3,574.8Z M326.6,574.1 L337.4,574.4 L348.3,574.8 L347.4,605.2 L336.5,604.9 L325.6,604.5Z M348.3,574.8 L359.1,575.1 L370.0,575.4 L369.2,605.8 L358.3,605.5 L347.4,605.2Z M84.8,13.0 L94.8,13.7 L104.7,14.4 L102.6,44.8 L92.6,44.1 L82.6,43.4Z M204.4,20.7 L214.4,21.2 L224.3,21.7 L222.8,52.1 L212.8,51.6 L202.7,51.0Z M2.6,37.0 L22.6,38.7 L42.6,40.3 L40.1,70.6 L20.0,69.0 L-0.0,67.3Z M62.6,41.9 L72.6,42.6 L82.6,43.4 L80.3,73.7 L70.3,73.0 L60.2,72.2Z M82.6,43.4 L92.6,44.1 L102.6,44.8 L100.5,75.2 L90.4,74.4 L80.3,73.7Z M142.6,47.5 L152.7,48.1 L162.7,48.7 L160.8,79.1 L150.8,78.5 L140.7,77.9Z M222.8,52.1 L232.8,52.6 L242.8,53.1 L241.4,83.5 L231.3,83.0 L221.2,82.5Z M-0.0,67.3 L20.0,69.0 L40.1,70.6 L37.7,101.0 L17.5,99.3 L-2.7,97.6Z M40.1,70.6 L50.2,71.4 L60.2,72.2 L57.9,102.5 L47.8,101.8 L37.7,101.0Z M80.3,73.7 L90.4,74.4 L100.5,75.2 L98.3,105.5 L88.2,104.8 L78.1,104.1Z M100.5,75.2 L110.5,75.9 L120.6,76.5 L118.5,106.9 L108.4,106.2 L98.3,105.5Z M57.9,102.5 L68.0,103.3 L78.1,104.1 L75.9,134.4 L65.7,133.7 L55.6,132.9Z M98.3,105.5 L108.4,106.2 L118.5,106.9 L116.5,137.3 L106.3,136.6 L96.2,135.9Z M118.5,106.9 L128.6,107.6 L138.8,108.2 L136.8,138.6 L126.7,137.9 L116.5,137.3Z M138.8,108.2 L148.9,108.9 L159.0,109.5 L157.1,139.9 L147.0,139.2 L136.8,138.6Z M159.0,109.5 L169.1,110.1 L179.2,110.7 L177.5,141.1 L167.3,140.5 L157.1,139.9Z M55.6,132.9 L65.7,133.7 L75.9,134.4 L73.7,164.8 L63.5,164.0 L53.3,163.2Z M75.9,134.4 L86.0,135.1 L96.2,135.9 L94.1,166.2 L83.9,165.5 L73.7,164.8Z M175.7,171.4 L185.9,172.0 L196.1,172.6 L194.5,203.0 L184.2,202.4 L174.0,201.8Z M50.9,193.6 L61.2,194.3 L71.4,195.1 L69.2,225.4 L58.9,224.7 L48.6,223.9Z M276.6,206.9 L286.9,207.3 L297.1,207.7 L296.0,238.1 L285.7,237.7 L275.3,237.3Z M440.9,211.6 L451.2,211.8 L461.5,211.9 L461.1,242.3 L450.8,242.2 L440.5,242.0Z M131.0,229.7 L141.3,230.3 L151.6,231.0 L149.8,261.3 L139.4,260.7 L129.1,260.0Z M296.0,238.1 L306.3,238.5 L316.6,238.9 L315.5,269.3 L305.2,268.9 L294.8,268.5Z M211.9,264.8 L222.3,265.3 L232.6,265.8 L231.2,296.2 L220.8,295.7 L210.4,295.2Z M274.1,267.7 L284.4,268.1 L294.8,268.5 L293.6,298.9 L283.2,298.5 L272.8,298.1Z M336.3,270.0 L346.6,270.3 L357.0,270.6 L356.1,301.0 L345.7,300.7 L335.3,300.4Z M127.1,290.4 L137.5,291.1 L147.9,291.7 L146.1,322.1 L135.6,321.4 L125.2,320.8Z M146.1,322.1 L156.5,322.7 L167.0,323.3 L165.2,353.7 L154.7,353.1 L144.2,352.4Z M355.3,331.4 L365.7,331.7 L376.2,332.0 L375.4,362.4 L364.9,362.1 L354.4,361.8Z M144.2,352.4 L154.7,353.1 L165.2,353.7 L163.5,384.0 L152.9,383.4 L142.4,382.8Z M165.2,353.7 L175.7,354.3 L186.2,354.8 L184.6,385.2 L174.0,384.6 L163.5,384.0Z M142.4,382.8 L152.9,383.4 L163.5,384.0 L161.7,414.4 L151.1,413.8 L140.5,413.2Z M247.9,388.4 L258.5,388.8 L269.0,389.3 L267.8,419.7 L257.2,419.2 L246.6,418.7Z M290.1,390.1 L300.7,390.5 L311.3,390.9 L310.2,421.3 L299.6,420.9 L289.0,420.5Z M77.0,409.0 L87.6,409.7 L98.2,410.5 L96.1,440.8 L85.5,440.1 L74.8,439.4Z M98.2,410.5 L108.8,411.2 L119.4,411.8 L117.4,442.2 L106.8,441.5 L96.1,440.8Z M119.4,411.8 L129.9,412.5 L140.5,413.2 L138.7,443.5 L128.1,442.9 L117.4,442.2Z M161.7,414.4 L172.3,415.0 L182.9,415.6 L181.3,446.0 L170.6,445.4 L160.0,444.8Z M225.3,417.8 L235.9,418.3 L246.6,418.7 L245.2,449.1 L234.5,448.7 L223.9,448.2Z M267.8,419.7 L278.4,420.1 L289.0,420.5 L287.8,450.9 L277.2,450.5 L266.5,450.1Z M437.5,424.5 L448.2,424.7 L458.8,424.8 L458.4,455.3 L447.7,455.1 L437.1,455.0Z M458.8,424.8 L469.4,425.0 L480.0,425.1 L479.7,455.5 L469.1,455.4 L458.4,455.3Z M96.1,440.8 L106.8,441.5 L117.4,442.2 L115.5,472.6 L104.8,471.9 L94.1,471.2Z M117.4,442.2 L128.1,442.9 L138.7,443.5 L136.9,473.9 L126.2,473.3 L115.5,472.6Z M351.8,453.1 L362.4,453.4 L373.1,453.6 L372.3,484.1 L361.6,483.8 L350.9,483.5Z M373.1,453.6 L383.8,453.9 L394.4,454.2 L393.7,484.6 L383.0,484.3 L372.3,484.1Z M394.4,454.2 L405.1,454.4 L415.7,454.6 L415.2,485.0 L404.4,484.8 L393.7,484.6Z M437.1,455.0 L447.7,455.1 L458.4,455.3 L458.0,485.7 L447.3,485.6 L436.6,485.4Z M501.0,455.7 L511.7,455.7 L522.4,455.8 L522.3,486.2 L511.6,486.2 L500.9,486.1Z M436.6,485.4 L447.3,485.6 L458.0,485.7 L457.6,516.1 L446.9,516.0 L436.1,515.8Z M629.4,485.7 L640.1,485.6 L650.8,485.4 L651.3,515.8 L640.6,516.0 L629.8,516.1Z M371.5,514.5 L382.3,514.8 L393.1,515.0 L392.4,545.4 L381.6,545.2 L370.8,544.9Z M370.8,544.9 L381.6,545.2 L392.4,545.4 L391.7,575.9 L380.8,575.6 L370.0,575.4Z M370.0,575.4 L380.8,575.6 L391.7,575.9 L391.0,606.3 L380.1,606.1 L369.2,605.8Z M144.6,17.1 L154.5,17.7 L164.5,18.4 L162.7,48.7 L152.7,48.1 L142.6,47.5Z M102.6,44.8 L112.6,45.5 L122.6,46.2 L120.6,76.5 L110.5,75.9 L100.5,75.2Z M162.7,48.7 L172.7,49.3 L182.7,49.9 L181.0,80.3 L170.9,79.7 L160.8,79.1Z M182.7,49.9 L192.7,50.5 L202.7,51.0 L201.1,81.4 L191.0,80.9 L181.0,80.3Z M202.7,51.0 L212.8,51.6 L222.8,52.1 L221.2,82.5 L211.2,82.0 L201.1,81.4Z M60.2,72.2 L70.3,73.0 L80.3,73.7 L78.1,104.1 L68.0,103.3 L57.9,102.5Z M120.6,76.5 L130.6,77.2 L140.7,77.9 L138.8,108.2 L128.6,107.6 L118.5,106.9Z M140.7,77.9 L150.8,78.5 L160.8,79.1 L159.0,109.5 L148.9,108.9 L138.8,108.2Z M160.8,79.1 L170.9,79.7 L181.0,80.3 L179.2,110.7 L169.1,110.1 L159.0,109.5Z M181.0,80.3 L191.0,80.9 L201.1,81.4 L199.4,111.8 L189.3,111.3 L179.2,110.7Z M221.2,82.5 L231.3,83.0 L241.4,83.5 L239.9,113.9 L229.8,113.4 L219.7,112.9Z M179.2,110.7 L189.3,111.3 L199.4,111.8 L197.8,142.2 L187.6,141.6 L177.5,141.1Z M177.5,141.1 L187.6,141.6 L197.8,142.2 L196.1,172.6 L185.9,172.0 L175.7,171.4Z M194.5,203.0 L204.7,203.5 L215.0,204.0 L213.5,234.4 L203.1,233.9 L192.8,233.3Z M192.8,233.3 L203.1,233.9 L213.5,234.4 L211.9,264.8 L201.5,264.3 L191.2,263.7Z M213.5,234.4 L223.8,234.9 L234.1,235.4 L232.6,265.8 L222.3,265.3 L211.9,264.8Z M108.4,258.7 L118.7,259.4 L129.1,260.0 L127.1,290.4 L116.7,289.7 L106.3,289.0Z M129.1,260.0 L139.4,260.7 L149.8,261.3 L147.9,291.7 L137.5,291.1 L127.1,290.4Z M149.8,261.3 L160.1,261.9 L170.5,262.6 L168.7,292.9 L158.3,292.3 L147.9,291.7Z M170.5,262.6 L180.8,263.1 L191.2,263.7 L189.5,294.1 L179.1,293.5 L168.7,292.9Z M147.9,291.7 L158.3,292.3 L168.7,292.9 L167.0,323.3 L156.5,322.7 L146.1,322.1Z M168.7,292.9 L179.1,293.5 L189.5,294.1 L187.9,324.5 L177.4,323.9 L167.0,323.3Z M189.5,294.1 L199.9,294.6 L210.4,295.2 L208.8,325.6 L198.3,325.0 L187.9,324.5Z M293.6,298.9 L304.1,299.3 L314.5,299.7 L313.4,330.1 L302.9,329.7 L292.5,329.3Z M314.5,299.7 L324.9,300.0 L335.3,300.4 L334.3,330.8 L323.9,330.4 L313.4,330.1Z M377.0,301.6 L387.4,301.8 L397.8,302.1 L397.1,332.5 L386.7,332.2 L376.2,332.0Z M167.0,323.3 L177.4,323.9 L187.9,324.5 L186.2,354.8 L175.7,354.3 L165.2,353.7Z M313.4,330.1 L323.9,330.4 L334.3,330.8 L333.4,361.2 L322.8,360.8 L312.3,360.5Z M334.3,330.8 L344.8,331.1 L355.3,331.4 L354.4,361.8 L343.9,361.5 L333.4,361.2Z M397.1,332.5 L407.6,332.7 L418.1,332.9 L417.5,363.3 L407.0,363.1 L396.5,362.9Z M249.3,358.0 L259.8,358.4 L270.3,358.9 L269.0,389.3 L258.5,388.8 L247.9,388.4Z M163.5,384.0 L174.0,384.6 L184.6,385.2 L182.9,415.6 L172.3,415.0 L161.7,414.4Z M416.9,393.7 L427.5,393.9 L438.0,394.1 L437.5,424.5 L426.9,424.4 L416.3,424.2Z M395.1,423.7 L405.7,424.0 L416.3,424.2 L415.7,454.6 L405.1,454.4 L394.4,454.2Z M416.3,424.2 L426.9,424.4 L437.5,424.5 L437.1,455.0 L426.4,454.8 L415.7,454.6Z M543.7,486.3 L554.4,486.2 L565.1,486.2 L565.2,516.7 L554.5,516.7 L543.7,516.7Z" transform="translate(0,0)"/></clipPath></defs>
<polygon points="21.2,8.0 41.1,9.6 61.0,11.2 80.9,12.7 100.8,14.2 120.7,15.6 140.7,16.9 160.6,18.1 180.5,19.3 200.5,20.4 220.4,21.5 240.4,22.5 260.3,23.4 280.3,24.3 300.2,25.1 320.2,25.9 340.1,26.5 360.1,27.2 380.1,27.7 400.0,28.2 420.0,28.6 439.9,29.0 459.9,29.3 479.9,29.5 499.9,29.7 519.8,29.8 539.8,29.9 559.8,29.8 579.7,29.8 599.7,29.6 619.7,29.4 639.6,29.1 659.6,28.8 679.6,28.4 699.5,27.9 719.5,27.4 739.5,26.8 759.4,26.1 779.4,25.4 799.3,24.6 819.3,23.8 839.2,22.9 859.2,21.9 879.1,20.9 899.1,19.8 919.0,18.6 938.9,17.4 958.9,16.1 978.8,14.7 979.1,14.7 979.1,14.7 983.3,75.4 987.6,136.1 991.8,196.8 996.0,257.5 1000.3,318.2 1004.5,378.9 1008.7,439.6 1013.0,500.3 995.4,501.5 973.9,503.0 952.4,504.3 930.9,505.6 909.4,506.8 887.9,507.9 866.4,509.0 844.9,510.0 823.4,510.9 801.9,511.7 780.4,512.5 758.9,513.3 737.4,513.9 715.9,514.5 694.4,515.0 672.8,515.5 651.3,515.8 629.8,516.1 608.3,516.4 586.8,516.6 565.2,516.7 543.7,516.7 522.2,516.7 500.7,516.6 479.1,516.4 457.6,516.1 436.1,515.8 414.6,515.5 410.3,515.4 409.0,578.7 409.2,578.3 406.9,576.9 403.1,575.0 400.6,571.2 397.5,566.9 394.4,563.8 393.1,559.4 390.0,555.6 387.5,550.6 383.8,546.9 380.6,544.4 376.9,548.1 373.1,549.4 370.6,551.9 371.2,555.6 368.8,560.0 369.4,564.4 371.9,567.5 371.2,569.4 367.5,568.1 363.1,566.9 357.5,567.5 353.1,566.9 348.8,567.5 346.9,570.0 342.5,571.9 339.4,568.8 336.9,565.6 331.9,566.9 326.9,568.1 323.1,568.1 318.1,570.0 312.5,567.5 307.5,566.2 305.0,563.1 301.2,564.4 296.2,567.5 294.4,572.5 293.1,576.9 289.4,577.5 285.0,575.0 281.2,574.4 275.0,573.1 268.8,571.9 265.0,570.0 261.2,571.2 257.5,574.4 253.8,579.4 255.0,584.4 252.5,586.9 250.0,584.4 246.2,580.6 241.2,577.5 237.5,571.2 238.1,566.2 235.6,561.2 233.1,556.9 236.2,553.1 233.1,545.0 230.6,538.8 227.5,535.6 223.8,531.9 219.4,529.4 215.6,531.2 211.2,532.5 208.8,528.8 205.0,525.6 203.1,523.1 201.2,518.8 200.0,513.8 203.8,510.6 204.4,503.1 203.1,499.4 199.4,496.2 200.0,493.8 196.9,493.1 193.1,490.0 192.5,483.8 189.4,480.6 185.6,475.0 185.0,470.6 181.6,466.2 181.9,456.9 179.4,456.2 178.8,451.2 180.0,447.5 179.4,442.5 174.4,441.9 176.2,436.2 176.9,433.1 173.1,430.6 170.6,428.8 168.1,425.6 165.0,421.2 161.9,420.0 159.4,424.4 155.6,428.1 152.5,431.9 148.8,435.0 143.8,437.5 139.4,438.1 138.1,443.1 135.0,445.0 130.6,446.9 127.5,442.5 123.8,439.4 120.0,434.4 112.5,433.8 114.4,428.8 113.8,424.4 118.1,421.9 119.4,415.6 116.2,412.5 114.4,407.5 117.5,403.8 120.0,400.0 127.5,398.1 129.4,395.0 128.1,391.2 126.9,388.1 129.4,385.0 126.9,381.9 123.1,380.0 121.2,375.0 123.8,373.1 124.4,368.8 121.2,366.2 120.6,361.9 123.8,360.6 127.5,358.8 127.5,351.2 126.2,348.8 129.4,346.2 131.2,340.0 130.6,335.0 132.5,332.5 134.4,331.2 135.6,327.5 133.8,323.8 133.8,320.6 138.1,320.0 138.8,315.0 140.0,308.8 141.2,304.4 140.0,301.9 136.2,300.0 132.5,301.9 128.1,303.8 126.2,301.2 122.5,301.9 117.5,302.5 115.0,298.1 115.6,293.8 112.5,290.0 109.4,291.2 105.6,295.0 103.8,292.5 105.0,288.1 102.5,285.6 98.8,281.9 95.0,281.2 93.1,278.1 90.6,274.4 92.5,272.5 93.1,267.5 90.0,264.4 87.5,260.6 83.8,258.1 81.9,254.4 78.8,248.8 75.0,243.1 70.0,237.5 65.0,231.2 62.5,224.4 55.0,221.9 50.0,219.4 46.2,216.2 44.4,211.2 41.2,208.1 36.2,205.6 32.5,202.5 28.8,200.6 33.8,198.1 38.8,197.0 40.0,194.4 37.5,192.5 32.5,188.1 30.6,185.0 35.0,181.2 36.2,178.1 33.1,173.8 34.4,171.2 33.1,166.2 29.4,164.4 30.0,161.2 25.6,159.4 24.4,151.2 18.8,146.2 13.8,136.9 11.9,133.8 10.6,130.0 11.0,129.3 16.1,68.7" fill="none" stroke="#454548" stroke-width="1" stroke-linejoin="round" clip-path="url(#cu)" shape-rendering="crispEdges"/>
<g font-family="'Liberation Sans',sans-serif" opacity="0.99">
<text x="430.3" y="556.2" font-size="24" font-weight="bold" fill="#000" textLength="272.5" lengthAdjust="spacingAndGlyphs">Western Warbling-Vireo</text>
<text x="450.3" y="578.7" font-size="16" font-style="italic" fill="#8c8c8c" textLength="109.4" lengthAdjust="spacingAndGlyphs">Vireo swainsoni</text>
<text x="469.4" y="601.6" font-size="16" font-weight="bold" fill="#000" textLength="246.9" lengthAdjust="spacingAndGlyphs">Relative Density of Observations</text>
<g font-size="9" fill="#000" text-anchor="middle">
<text x="495" y="616.6">1-37</text><text x="545" y="616.6">38-77</text><text x="595" y="616.6">78-135</text><text x="645.5" y="616.6">136-209</text><text x="695.5" y="616.6">210-815</text>
</g>
<text x="429.4" y="628.3" font-size="9" fill="#000" textLength="39.5" lengthAdjust="spacing"># of Obs.</text>
<g stroke="#222" stroke-width="1">
<rect x="470.5" y="619.7" width="50" height="9.6" fill="#ffffc4"/><rect x="520.5" y="619.7" width="50" height="9.6" fill="#fed976"/><rect x="570.5" y="619.7" width="50" height="9.6" fill="#fd8d3c"/><rect x="620.5" y="619.7" width="50" height="9.6" fill="#e31a1c"/><rect x="670.5" y="619.7" width="50" height="9.6" fill="#962a38"/>
</g>
<g font-size="10.67" fill="#8a8a8a">
<text x="17.6" y="560.2" textLength="81" lengthAdjust="spacingAndGlyphs">Map courtesy of:</text>
<text x="17.6" y="572.1" textLength="163.8" lengthAdjust="spacingAndGlyphs">Montana Natural Heritage Program</text>
<text x="17.6" y="584.1" textLength="154.7" lengthAdjust="spacingAndGlyphs">Montana Fish, Wildlife and Parks</text>
<text x="17.6" y="612.6" textLength="133.6" lengthAdjust="spacingAndGlyphs">Map Generated: 12/12/2025</text>
<text x="17.6" y="625.2" textLength="319.9" lengthAdjust="spacingAndGlyphs">https://fieldguide.mt.gov/speciesDetail.aspx?elcode=ABPBW01300</text>
</g>
</g>

</svg>
</body></html>
